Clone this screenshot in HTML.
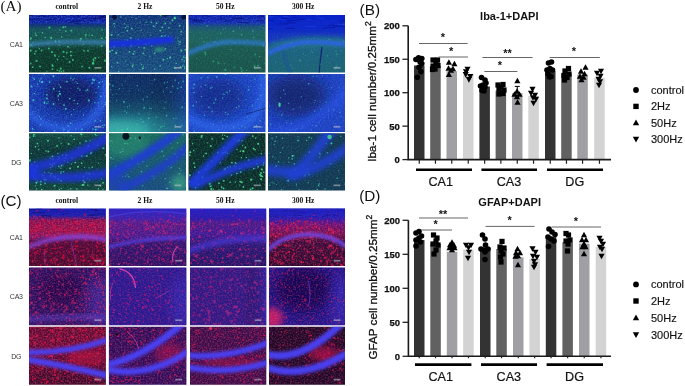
<!DOCTYPE html>
<html><head><meta charset="utf-8"><title>Figure</title>
<style>
html,body{margin:0;padding:0;background:#fff;}
body{width:685px;height:386px;overflow:hidden;position:relative;}
svg{position:absolute;left:0;top:0;display:block;}
</style></head><body>
<svg width="685" height="386" viewBox="0 0 685 386">
<defs><clipPath id="c1"><rect x="29" y="15" width="77" height="57.6"/></clipPath><linearGradient id="g1_1" x1="0" y1="0" x2="0" y2="1"><stop offset="0" stop-color="#0a1890"/><stop offset="0.14" stop-color="#0c1ea0"/><stop offset="0.19" stop-color="#123678"/><stop offset="0.25" stop-color="#144e5a"/><stop offset="0.45" stop-color="#14504a"/><stop offset="0.52" stop-color="#124840"/><stop offset="0.6" stop-color="#0c3a2e"/><stop offset="1" stop-color="#0b3428"/></linearGradient><filter id="n1_2" x="0" y="0" width="100" height="75" filterUnits="userSpaceOnUse"><feTurbulence type="fractalNoise" baseFrequency="0.5" numOctaves="1" seed="11"/><feColorMatrix type="matrix" values="0 0 0 0 0.16 0 0 0 0 0.35 0 0 0 0 0.94 2 0 0 0 -0.8"/><feGaussianBlur stdDeviation="0.3"/></filter><linearGradient id="m1_2g" x1="0" y1="0" x2="0" y2="1"><stop offset="0" stop-color="#fff" stop-opacity="1"/><stop offset="0.15" stop-color="#fff" stop-opacity="1"/><stop offset="0.2" stop-color="#fff" stop-opacity="0"/></linearGradient><mask id="m1_2" maskContentUnits="userSpaceOnUse"><rect x="-2" y="-2" width="104" height="79" fill="url(#m1_2g)"/></mask><filter id="n1_3" x="0" y="0" width="100" height="75" filterUnits="userSpaceOnUse"><feTurbulence type="fractalNoise" baseFrequency="0.5" numOctaves="1" seed="12"/><feColorMatrix type="matrix" values="0 0 0 0 0.22 0 0 0 0 0.75 0 0 0 0 0.53 2 0 0 0 -0.8"/><feGaussianBlur stdDeviation="0.3"/></filter><linearGradient id="m1_3g" x1="0" y1="0" x2="0" y2="1"><stop offset="0" stop-color="#fff" stop-opacity="0"/><stop offset="0.18" stop-color="#fff" stop-opacity="0"/><stop offset="0.24" stop-color="#fff" stop-opacity="1"/><stop offset="1" stop-color="#fff" stop-opacity="1"/></linearGradient><mask id="m1_3" maskContentUnits="userSpaceOnUse"><rect x="-2" y="-2" width="104" height="79" fill="url(#m1_3g)"/></mask><clipPath id="c2"><rect x="109" y="15" width="77" height="57.6"/></clipPath><linearGradient id="g2_1" x1="0" y1="0" x2="0" y2="1"><stop offset="0" stop-color="#0c2a78"/><stop offset="0.3" stop-color="#103a70"/><stop offset="0.6" stop-color="#123e74"/><stop offset="1" stop-color="#144878"/></linearGradient><filter id="n2_2" x="0" y="0" width="100" height="75" filterUnits="userSpaceOnUse"><feTurbulence type="fractalNoise" baseFrequency="0.5" numOctaves="1" seed="21"/><feColorMatrix type="matrix" values="0 0 0 0 0.09 0 0 0 0 0.22 0 0 0 0 0.75 2 0 0 0 -0.8"/><feGaussianBlur stdDeviation="0.3"/></filter><filter id="n2_3" x="0" y="0" width="100" height="75" filterUnits="userSpaceOnUse"><feTurbulence type="fractalNoise" baseFrequency="0.5" numOctaves="1" seed="5"/><feColorMatrix type="matrix" values="0 0 0 0 0.19 0 0 0 0 0.63 0 0 0 0 0.5 2 0 0 0 -0.8"/><feGaussianBlur stdDeviation="0.3"/></filter><clipPath id="c3"><rect x="188.5" y="15" width="77" height="57.6"/></clipPath><linearGradient id="g3_1" x1="0" y1="0" x2="0" y2="1"><stop offset="0" stop-color="#0c1ca8"/><stop offset="0.14" stop-color="#1028b0"/><stop offset="0.22" stop-color="#1a5078"/><stop offset="0.3" stop-color="#1d6064"/><stop offset="0.45" stop-color="#1d605c"/><stop offset="0.55" stop-color="#1a5850"/><stop offset="1" stop-color="#18524a"/></linearGradient><filter id="n3_2" x="0" y="0" width="100" height="75" filterUnits="userSpaceOnUse"><feTurbulence type="fractalNoise" baseFrequency="0.5" numOctaves="1" seed="31"/><feColorMatrix type="matrix" values="0 0 0 0 0.13 0 0 0 0 0.25 0 0 0 0 0.94 2 0 0 0 -0.8"/><feGaussianBlur stdDeviation="0.3"/></filter><linearGradient id="m3_2g" x1="0" y1="0" x2="0" y2="1"><stop offset="0" stop-color="#fff" stop-opacity="1"/><stop offset="0.16" stop-color="#fff" stop-opacity="1"/><stop offset="0.22" stop-color="#fff" stop-opacity="0"/></linearGradient><mask id="m3_2" maskContentUnits="userSpaceOnUse"><rect x="-2" y="-2" width="104" height="79" fill="url(#m3_2g)"/></mask><filter id="n3_3" x="0" y="0" width="100" height="75" filterUnits="userSpaceOnUse"><feTurbulence type="fractalNoise" baseFrequency="0.5" numOctaves="1" seed="32"/><feColorMatrix type="matrix" values="0 0 0 0 0.22 0 0 0 0 0.75 0 0 0 0 0.53 2 0 0 0 -0.8"/><feGaussianBlur stdDeviation="0.3"/></filter><linearGradient id="m3_3g" x1="0" y1="0" x2="0" y2="1"><stop offset="0" stop-color="#fff" stop-opacity="0"/><stop offset="0.15" stop-color="#fff" stop-opacity="0"/><stop offset="0.22" stop-color="#fff" stop-opacity="1"/><stop offset="1" stop-color="#fff" stop-opacity="1"/></linearGradient><mask id="m3_3" maskContentUnits="userSpaceOnUse"><rect x="-2" y="-2" width="104" height="79" fill="url(#m3_3g)"/></mask><clipPath id="c4"><rect x="268" y="15" width="77" height="57.6"/></clipPath><linearGradient id="g4_1" x1="0" y1="0" x2="0" y2="1"><stop offset="0" stop-color="#0a1ec8"/><stop offset="0.22" stop-color="#0c26c8"/><stop offset="0.3" stop-color="#1a48a8"/><stop offset="0.38" stop-color="#20688c"/><stop offset="0.48" stop-color="#24708c"/><stop offset="0.6" stop-color="#1c6280"/><stop offset="1" stop-color="#1c6274"/></linearGradient><filter id="n4_2" x="0" y="0" width="100" height="75" filterUnits="userSpaceOnUse"><feTurbulence type="fractalNoise" baseFrequency="0.5" numOctaves="1" seed="41"/><feColorMatrix type="matrix" values="0 0 0 0 0 0 0 0 0 0.06 0 0 0 0 0.63 2 0 0 0 -0.8"/><feGaussianBlur stdDeviation="0.3"/></filter><linearGradient id="m4_2g" x1="0" y1="0" x2="0" y2="1"><stop offset="0" stop-color="#fff" stop-opacity="1"/><stop offset="0.25" stop-color="#fff" stop-opacity="1"/><stop offset="0.32" stop-color="#fff" stop-opacity="0"/></linearGradient><mask id="m4_2" maskContentUnits="userSpaceOnUse"><rect x="-2" y="-2" width="104" height="79" fill="url(#m4_2g)"/></mask><filter id="n4_3" x="0" y="0" width="100" height="75" filterUnits="userSpaceOnUse"><feTurbulence type="fractalNoise" baseFrequency="0.5" numOctaves="1" seed="42"/><feColorMatrix type="matrix" values="0 0 0 0 0.25 0 0 0 0 0.75 0 0 0 0 0.63 2 0 0 0 -0.8"/><feGaussianBlur stdDeviation="0.3"/></filter><linearGradient id="m4_3g" x1="0" y1="0" x2="0" y2="1"><stop offset="0" stop-color="#fff" stop-opacity="0"/><stop offset="0.28" stop-color="#fff" stop-opacity="0"/><stop offset="0.34" stop-color="#fff" stop-opacity="1"/><stop offset="1" stop-color="#fff" stop-opacity="1"/></linearGradient><mask id="m4_3" maskContentUnits="userSpaceOnUse"><rect x="-2" y="-2" width="104" height="79" fill="url(#m4_3g)"/></mask><clipPath id="c5"><rect x="29" y="74" width="77" height="58"/></clipPath><filter id="n5_1" x="0" y="0" width="100" height="75" filterUnits="userSpaceOnUse"><feTurbulence type="fractalNoise" baseFrequency="0.5" numOctaves="1" seed="51"/><feColorMatrix type="matrix" values="0 0 0 0 0.13 0 0 0 0 0.31 0 0 0 0 0.94 2 0 0 0 -0.8"/><feGaussianBlur stdDeviation="0.3"/></filter><filter id="n5_2" x="0" y="0" width="100" height="75" filterUnits="userSpaceOnUse"><feTurbulence type="fractalNoise" baseFrequency="0.5" numOctaves="1" seed="52"/><feColorMatrix type="matrix" values="0 0 0 0 0.25 0 0 0 0 0.88 0 0 0 0 0.69 2 0 0 0 -0.8"/><feGaussianBlur stdDeviation="0.3"/></filter><clipPath id="c6"><rect x="109" y="74" width="77" height="58"/></clipPath><linearGradient id="g6_1" x1="0" y1="0" x2="0" y2="1"><stop offset="0" stop-color="#0a2660"/><stop offset="0.4" stop-color="#0c2e5c"/><stop offset="0.62" stop-color="#124a66"/><stop offset="0.8" stop-color="#1e7a8a"/><stop offset="1" stop-color="#28949a"/></linearGradient><linearGradient id="g6_2" x1="0" y1="0" x2="1" y2="0"><stop offset="0" stop-color="#000000" stop-opacity="0"/><stop offset="0.5" stop-color="#000000" stop-opacity="0"/><stop offset="1" stop-color="#1840b0" stop-opacity="0.6"/></linearGradient><filter id="n6_3" x="0" y="0" width="100" height="75" filterUnits="userSpaceOnUse"><feTurbulence type="fractalNoise" baseFrequency="0.5" numOctaves="1" seed="61"/><feColorMatrix type="matrix" values="0 0 0 0 0.09 0 0 0 0 0.25 0 0 0 0 0.75 2 0 0 0 -0.8"/><feGaussianBlur stdDeviation="0.3"/></filter><filter id="n6_4" x="0" y="0" width="100" height="75" filterUnits="userSpaceOnUse"><feTurbulence type="fractalNoise" baseFrequency="0.5" numOctaves="1" seed="62"/><feColorMatrix type="matrix" values="0 0 0 0 0.25 0 0 0 0 0.75 0 0 0 0 0.69 2 0 0 0 -0.8"/><feGaussianBlur stdDeviation="0.3"/></filter><clipPath id="c7"><rect x="188.5" y="74" width="77" height="58"/></clipPath><filter id="n7_1" x="0" y="0" width="100" height="75" filterUnits="userSpaceOnUse"><feTurbulence type="fractalNoise" baseFrequency="0.5" numOctaves="1" seed="71"/><feColorMatrix type="matrix" values="0 0 0 0 0.16 0 0 0 0 0.35 0 0 0 0 0.94 2 0 0 0 -0.8"/><feGaussianBlur stdDeviation="0.3"/></filter><filter id="n7_2" x="0" y="0" width="100" height="75" filterUnits="userSpaceOnUse"><feTurbulence type="fractalNoise" baseFrequency="0.5" numOctaves="1" seed="72"/><feColorMatrix type="matrix" values="0 0 0 0 0.25 0 0 0 0 0.85 0 0 0 0 0.75 2 0 0 0 -0.8"/><feGaussianBlur stdDeviation="0.3"/></filter><clipPath id="c8"><rect x="268" y="74" width="77" height="58"/></clipPath><filter id="n8_1" x="0" y="0" width="100" height="75" filterUnits="userSpaceOnUse"><feTurbulence type="fractalNoise" baseFrequency="0.5" numOctaves="1" seed="81"/><feColorMatrix type="matrix" values="0 0 0 0 0.16 0 0 0 0 0.31 0 0 0 0 0.94 2 0 0 0 -0.8"/><feGaussianBlur stdDeviation="0.3"/></filter><filter id="n8_2" x="0" y="0" width="100" height="75" filterUnits="userSpaceOnUse"><feTurbulence type="fractalNoise" baseFrequency="0.5" numOctaves="1" seed="82"/><feColorMatrix type="matrix" values="0 0 0 0 0.25 0 0 0 0 0.75 0 0 0 0 0.69 2 0 0 0 -0.8"/><feGaussianBlur stdDeviation="0.3"/></filter><clipPath id="c9"><rect x="29" y="133.2" width="77" height="57.2"/></clipPath><linearGradient id="g9_1" x1="0" y1="0" x2="0" y2="1"><stop offset="0" stop-color="#124a44"/><stop offset="0.3" stop-color="#0c3236"/><stop offset="1" stop-color="#10403c"/></linearGradient><filter id="n9_2" x="0" y="0" width="100" height="75" filterUnits="userSpaceOnUse"><feTurbulence type="fractalNoise" baseFrequency="0.5" numOctaves="1" seed="91"/><feColorMatrix type="matrix" values="0 0 0 0 0.25 0 0 0 0 0.78 0 0 0 0 0.56 2 0 0 0 -0.8"/><feGaussianBlur stdDeviation="0.3"/></filter><clipPath id="c10"><rect x="109" y="133.2" width="77" height="57.2"/></clipPath><linearGradient id="g10_1" x1="0" y1="0" x2="0" y2="1"><stop offset="0" stop-color="#1a6a5a"/><stop offset="0.4" stop-color="#185a6a"/><stop offset="1" stop-color="#1a4a80"/></linearGradient><filter id="n10_2" x="0" y="0" width="100" height="75" filterUnits="userSpaceOnUse"><feTurbulence type="fractalNoise" baseFrequency="0.5" numOctaves="1" seed="101"/><feColorMatrix type="matrix" values="0 0 0 0 0.25 0 0 0 0 0.75 0 0 0 0 0.56 2 0 0 0 -0.8"/><feGaussianBlur stdDeviation="0.3"/></filter><clipPath id="c11"><rect x="188.5" y="133.2" width="77" height="57.2"/></clipPath><filter id="n11_1" x="0" y="0" width="100" height="75" filterUnits="userSpaceOnUse"><feTurbulence type="fractalNoise" baseFrequency="0.5" numOctaves="1" seed="111"/><feColorMatrix type="matrix" values="0 0 0 0 0.25 0 0 0 0 0.85 0 0 0 0 0.56 2 0 0 0 -0.8"/><feGaussianBlur stdDeviation="0.3"/></filter><clipPath id="c12"><rect x="268" y="133.2" width="77" height="57.2"/></clipPath><filter id="n12_1" x="0" y="0" width="100" height="75" filterUnits="userSpaceOnUse"><feTurbulence type="fractalNoise" baseFrequency="0.5" numOctaves="1" seed="121"/><feColorMatrix type="matrix" values="0 0 0 0 0.25 0 0 0 0 0.78 0 0 0 0 0.63 2 0 0 0 -0.8"/><feGaussianBlur stdDeviation="0.3"/></filter><clipPath id="c13"><rect x="29" y="208.6" width="76.9" height="57.3"/></clipPath><linearGradient id="g13_1" x1="0" y1="0" x2="0" y2="1"><stop offset="0" stop-color="#1818b8"/><stop offset="0.14" stop-color="#2020b0"/><stop offset="0.22" stop-color="#801050"/><stop offset="0.4" stop-color="#901048"/><stop offset="0.5" stop-color="#701a70"/><stop offset="0.58" stop-color="#500a38"/><stop offset="1" stop-color="#480a2c"/></linearGradient><filter id="n13_2" x="0" y="0" width="100" height="75" filterUnits="userSpaceOnUse"><feTurbulence type="fractalNoise" baseFrequency="0.5" numOctaves="1" seed="201"/><feColorMatrix type="matrix" values="0 0 0 0 0 0 0 0 0 0.03 0 0 0 0 0.38 2 0 0 0 -0.8"/><feGaussianBlur stdDeviation="0.3"/></filter><linearGradient id="m13_2g" x1="0" y1="0" x2="0" y2="1"><stop offset="0" stop-color="#fff" stop-opacity="1"/><stop offset="0.16" stop-color="#fff" stop-opacity="1"/><stop offset="0.22" stop-color="#fff" stop-opacity="0"/></linearGradient><mask id="m13_2" maskContentUnits="userSpaceOnUse"><rect x="-2" y="-2" width="104" height="79" fill="url(#m13_2g)"/></mask><filter id="n13_3" x="0" y="0" width="100" height="75" filterUnits="userSpaceOnUse"><feTurbulence type="fractalNoise" baseFrequency="0.5" numOctaves="1" seed="202"/><feColorMatrix type="matrix" values="0 0 0 0 0.94 0 0 0 0 0.13 0 0 0 0 0.35 2 0 0 0 -0.8"/><feGaussianBlur stdDeviation="0.3"/></filter><linearGradient id="m13_3g" x1="0" y1="0" x2="0" y2="1"><stop offset="0" stop-color="#fff" stop-opacity="0.1"/><stop offset="0.14" stop-color="#fff" stop-opacity="0.3"/><stop offset="0.2" stop-color="#fff" stop-opacity="1"/><stop offset="0.45" stop-color="#fff" stop-opacity="1"/><stop offset="0.55" stop-color="#fff" stop-opacity="0.6"/><stop offset="1" stop-color="#fff" stop-opacity="0.6"/></linearGradient><mask id="m13_3" maskContentUnits="userSpaceOnUse"><rect x="-2" y="-2" width="104" height="79" fill="url(#m13_3g)"/></mask><clipPath id="c14"><rect x="108.9" y="208.6" width="77.5" height="57.3"/></clipPath><linearGradient id="g14_1" x1="0" y1="0" x2="0" y2="1"><stop offset="0" stop-color="#2a24c8"/><stop offset="0.18" stop-color="#3a22b0"/><stop offset="0.28" stop-color="#501a88"/><stop offset="0.5" stop-color="#441a90"/><stop offset="0.6" stop-color="#2e1470"/><stop offset="1" stop-color="#2a1064"/></linearGradient><filter id="n14_2" x="0" y="0" width="100" height="75" filterUnits="userSpaceOnUse"><feTurbulence type="fractalNoise" baseFrequency="0.5" numOctaves="1" seed="211"/><feColorMatrix type="matrix" values="0 0 0 0 0.94 0 0 0 0 0.13 0 0 0 0 0.35 2 0 0 0 -0.8"/><feGaussianBlur stdDeviation="0.3"/></filter><linearGradient id="m14_2g" x1="0" y1="0" x2="0" y2="1"><stop offset="0" stop-color="#fff" stop-opacity="0.2"/><stop offset="0.2" stop-color="#fff" stop-opacity="0.5"/><stop offset="0.28" stop-color="#fff" stop-opacity="1"/><stop offset="1" stop-color="#fff" stop-opacity="0.8"/></linearGradient><mask id="m14_2" maskContentUnits="userSpaceOnUse"><rect x="-2" y="-2" width="104" height="79" fill="url(#m14_2g)"/></mask><clipPath id="c15"><rect x="190" y="208.6" width="76.3" height="57.3"/></clipPath><linearGradient id="g15_1" x1="0" y1="0" x2="0" y2="1"><stop offset="0" stop-color="#2420c8"/><stop offset="0.18" stop-color="#2a1cb0"/><stop offset="0.28" stop-color="#461a88"/><stop offset="0.45" stop-color="#3a1a98"/><stop offset="0.6" stop-color="#261878"/><stop offset="1" stop-color="#221468"/></linearGradient><filter id="n15_2" x="0" y="0" width="100" height="75" filterUnits="userSpaceOnUse"><feTurbulence type="fractalNoise" baseFrequency="0.5" numOctaves="1" seed="221"/><feColorMatrix type="matrix" values="0 0 0 0 0.94 0 0 0 0 0.13 0 0 0 0 0.35 2 0 0 0 -0.8"/><feGaussianBlur stdDeviation="0.3"/></filter><linearGradient id="m15_2g" x1="0" y1="0" x2="0" y2="1"><stop offset="0" stop-color="#fff" stop-opacity="0.2"/><stop offset="0.2" stop-color="#fff" stop-opacity="0.5"/><stop offset="0.28" stop-color="#fff" stop-opacity="1"/><stop offset="1" stop-color="#fff" stop-opacity="0.8"/></linearGradient><mask id="m15_2" maskContentUnits="userSpaceOnUse"><rect x="-2" y="-2" width="104" height="79" fill="url(#m15_2g)"/></mask><clipPath id="c16"><rect x="269" y="208.6" width="76" height="57.3"/></clipPath><linearGradient id="g16_1" x1="0" y1="0" x2="0" y2="1"><stop offset="0" stop-color="#1a20c8"/><stop offset="0.15" stop-color="#2020c0"/><stop offset="0.3" stop-color="#6a1070"/><stop offset="0.45" stop-color="#701050"/><stop offset="0.6" stop-color="#380a38"/><stop offset="1" stop-color="#2e0a2e"/></linearGradient><filter id="n16_2" x="0" y="0" width="100" height="75" filterUnits="userSpaceOnUse"><feTurbulence type="fractalNoise" baseFrequency="0.5" numOctaves="1" seed="231"/><feColorMatrix type="matrix" values="0 0 0 0 0 0 0 0 0 0.04 0 0 0 0 0.38 2 0 0 0 -0.8"/><feGaussianBlur stdDeviation="0.3"/></filter><linearGradient id="m16_2g" x1="0" y1="0" x2="0" y2="1"><stop offset="0" stop-color="#fff" stop-opacity="1"/><stop offset="0.18" stop-color="#fff" stop-opacity="1"/><stop offset="0.26" stop-color="#fff" stop-opacity="0"/></linearGradient><mask id="m16_2" maskContentUnits="userSpaceOnUse"><rect x="-2" y="-2" width="104" height="79" fill="url(#m16_2g)"/></mask><filter id="n16_3" x="0" y="0" width="100" height="75" filterUnits="userSpaceOnUse"><feTurbulence type="fractalNoise" baseFrequency="0.5" numOctaves="1" seed="232"/><feColorMatrix type="matrix" values="0 0 0 0 0.94 0 0 0 0 0.13 0 0 0 0 0.35 2 0 0 0 -0.8"/><feGaussianBlur stdDeviation="0.3"/></filter><linearGradient id="m16_3g" x1="0" y1="0" x2="0" y2="1"><stop offset="0" stop-color="#fff" stop-opacity="0.1"/><stop offset="0.2" stop-color="#fff" stop-opacity="0.5"/><stop offset="0.3" stop-color="#fff" stop-opacity="1"/><stop offset="1" stop-color="#fff" stop-opacity="0.7"/></linearGradient><mask id="m16_3" maskContentUnits="userSpaceOnUse"><rect x="-2" y="-2" width="104" height="79" fill="url(#m16_3g)"/></mask><clipPath id="c17"><rect x="29" y="267.4" width="76.9" height="57.8"/></clipPath><filter id="n17_1" x="0" y="0" width="100" height="75" filterUnits="userSpaceOnUse"><feTurbulence type="fractalNoise" baseFrequency="0.5" numOctaves="1" seed="241"/><feColorMatrix type="matrix" values="0 0 0 0 0.94 0 0 0 0 0.13 0 0 0 0 0.35 2 0 0 0 -0.8"/><feGaussianBlur stdDeviation="0.3"/></filter><clipPath id="c18"><rect x="108.9" y="267.4" width="77.5" height="57.8"/></clipPath><filter id="n18_1" x="0" y="0" width="100" height="75" filterUnits="userSpaceOnUse"><feTurbulence type="fractalNoise" baseFrequency="0.5" numOctaves="1" seed="251"/><feColorMatrix type="matrix" values="0 0 0 0 0.94 0 0 0 0 0.13 0 0 0 0 0.35 2 0 0 0 -0.8"/><feGaussianBlur stdDeviation="0.3"/></filter><clipPath id="c19"><rect x="190" y="267.4" width="76.3" height="57.8"/></clipPath><linearGradient id="g19_1" x1="0" y1="0" x2="1" y2="0"><stop offset="0" stop-color="#000000" stop-opacity="0"/><stop offset="0.7" stop-color="#000000" stop-opacity="0"/><stop offset="1" stop-color="#3030d0" stop-opacity="0.5"/></linearGradient><filter id="n19_2" x="0" y="0" width="100" height="75" filterUnits="userSpaceOnUse"><feTurbulence type="fractalNoise" baseFrequency="0.5" numOctaves="1" seed="261"/><feColorMatrix type="matrix" values="0 0 0 0 0.94 0 0 0 0 0.13 0 0 0 0 0.35 2 0 0 0 -0.8"/><feGaussianBlur stdDeviation="0.3"/></filter><clipPath id="c20"><rect x="269" y="267.4" width="76" height="57.8"/></clipPath><filter id="n20_1" x="0" y="0" width="100" height="75" filterUnits="userSpaceOnUse"><feTurbulence type="fractalNoise" baseFrequency="0.5" numOctaves="1" seed="271"/><feColorMatrix type="matrix" values="0 0 0 0 0.94 0 0 0 0 0.13 0 0 0 0 0.35 2 0 0 0 -0.8"/><feGaussianBlur stdDeviation="0.3"/></filter><clipPath id="c21"><rect x="29" y="326.8" width="76.9" height="58"/></clipPath><linearGradient id="g21_1" x1="0" y1="0" x2="0" y2="1"><stop offset="0" stop-color="#600a30"/><stop offset="0.4" stop-color="#640a34"/><stop offset="1" stop-color="#380826"/></linearGradient><filter id="n21_2" x="0" y="0" width="100" height="75" filterUnits="userSpaceOnUse"><feTurbulence type="fractalNoise" baseFrequency="0.5" numOctaves="1" seed="281"/><feColorMatrix type="matrix" values="0 0 0 0 0.94 0 0 0 0 0.13 0 0 0 0 0.35 2 0 0 0 -0.8"/><feGaussianBlur stdDeviation="0.3"/></filter><clipPath id="c22"><rect x="108.9" y="326.8" width="77.5" height="58"/></clipPath><filter id="n22_1" x="0" y="0" width="100" height="75" filterUnits="userSpaceOnUse"><feTurbulence type="fractalNoise" baseFrequency="0.5" numOctaves="1" seed="291"/><feColorMatrix type="matrix" values="0 0 0 0 0.94 0 0 0 0 0.13 0 0 0 0 0.35 2 0 0 0 -0.8"/><feGaussianBlur stdDeviation="0.3"/></filter><clipPath id="c23"><rect x="190" y="326.8" width="76.3" height="58"/></clipPath><filter id="n23_1" x="0" y="0" width="100" height="75" filterUnits="userSpaceOnUse"><feTurbulence type="fractalNoise" baseFrequency="0.5" numOctaves="1" seed="301"/><feColorMatrix type="matrix" values="0 0 0 0 0.94 0 0 0 0 0.13 0 0 0 0 0.35 2 0 0 0 -0.8"/><feGaussianBlur stdDeviation="0.3"/></filter><clipPath id="c24"><rect x="269" y="326.8" width="76" height="58"/></clipPath><filter id="n24_1" x="0" y="0" width="100" height="75" filterUnits="userSpaceOnUse"><feTurbulence type="fractalNoise" baseFrequency="0.5" numOctaves="1" seed="311"/><feColorMatrix type="matrix" values="0 0 0 0 0.94 0 0 0 0 0.13 0 0 0 0 0.35 2 0 0 0 -0.8"/><feGaussianBlur stdDeviation="0.3"/></filter><filter id="b0_3" x="-120%" y="-120%" width="340%" height="340%"><feGaussianBlur stdDeviation="0.3"/></filter><filter id="b0_5" x="-120%" y="-120%" width="340%" height="340%"><feGaussianBlur stdDeviation="0.5"/></filter><filter id="b0_8" x="-120%" y="-120%" width="340%" height="340%"><feGaussianBlur stdDeviation="0.8"/></filter><filter id="b1" x="-120%" y="-120%" width="340%" height="340%"><feGaussianBlur stdDeviation="1"/></filter><filter id="b10" x="-120%" y="-120%" width="340%" height="340%"><feGaussianBlur stdDeviation="10"/></filter><filter id="b1_5" x="-120%" y="-120%" width="340%" height="340%"><feGaussianBlur stdDeviation="1.5"/></filter><filter id="b1_8" x="-120%" y="-120%" width="340%" height="340%"><feGaussianBlur stdDeviation="1.8"/></filter><filter id="b2" x="-120%" y="-120%" width="340%" height="340%"><feGaussianBlur stdDeviation="2"/></filter><filter id="b2_5" x="-120%" y="-120%" width="340%" height="340%"><feGaussianBlur stdDeviation="2.5"/></filter><filter id="b3" x="-120%" y="-120%" width="340%" height="340%"><feGaussianBlur stdDeviation="3"/></filter><filter id="b3_5" x="-120%" y="-120%" width="340%" height="340%"><feGaussianBlur stdDeviation="3.5"/></filter><filter id="b4" x="-120%" y="-120%" width="340%" height="340%"><feGaussianBlur stdDeviation="4"/></filter><filter id="b5" x="-120%" y="-120%" width="340%" height="340%"><feGaussianBlur stdDeviation="5"/></filter><filter id="b6" x="-120%" y="-120%" width="340%" height="340%"><feGaussianBlur stdDeviation="6"/></filter><filter id="b7" x="-120%" y="-120%" width="340%" height="340%"><feGaussianBlur stdDeviation="7"/></filter><filter id="b8" x="-120%" y="-120%" width="340%" height="340%"><feGaussianBlur stdDeviation="8"/></filter><filter id="b0_6" x="-50%" y="-50%" width="200%" height="200%"><feGaussianBlur stdDeviation="0.6"/></filter></defs>
<rect width="685" height="386" fill="#fff"/>
<g clip-path="url(#c1)"><g transform="translate(29 15) scale(0.77 0.77)"><rect x="-2" y="-2" width="104" height="79" fill="url(#g1_1)"/><g mask="url(#m1_2)" opacity="0.48"><rect x="0" y="0" width="100" height="75" filter="url(#n1_2)"/></g><path d="M6.02 5q7.62 -0.38 15.25 0.62M70.52 4.77q7.8 -0.9 15.6 0.1M-1.18 5.02q3.29 0.3 6.57 1.3M94.18 3.69q4.86 -0.2 9.71 0.8M12.43 1.96q4.13 -1.46 8.26 -0.46M58.9 10.6q4.27 0.37 8.53 1.37M51.09 9.91q7.91 -2.02 15.82 -1.02M61.34 1.37q3.03 -1.31 6.07 -0.31M75.09 6.23q4.16 0.02 8.31 1.02M90.52 2.61q5.69 -0.59 11.38 0.41M89.26 1.39q6.32 0.41 12.65 1.41M57 7.89q7.65 -0.98 15.3 0.02M21.88 6.49q6.17 -1.47 12.34 -0.47M83.96 3.99q5.9 -0.22 11.8 0.78" fill="none" stroke="#000850" stroke-width="1.2" stroke-opacity="0.48" filter="url(#b0_6)"/><path d="M79.52 9.9q6.91 -1.74 13.82 -0.74M83.21 10.09q7.29 -0.2 14.58 0.8M46.49 5.93q6.5 -2.06 12.99 -1.06M64.36 9.61q3.99 -0.24 7.98 0.76M67.68 2.21q3.3 -0.71 6.61 0.29M14.11 4.1q6.73 -0.55 13.45 0.45M72.36 6.68q5 -2.46 10 -1.46M2.54 2.93q6.15 -0.34 12.3 0.66" fill="none" stroke="#3a70ff" stroke-width="0.9" stroke-opacity="0.36" filter="url(#b0_6)"/><g fill="#48e090" fill-opacity="0.7" filter="url(#b0_6)"><circle cx="20.91" cy="29.24" r="1.08"/><circle cx="71.32" cy="46.39" r="1.13"/><circle cx="54.51" cy="52.56" r="1.36"/><circle cx="94.58" cy="30.15" r="1.13"/><circle cx="34.37" cy="34.07" r="1.21"/><circle cx="41.27" cy="69.78" r="1.48"/><circle cx="40.08" cy="19.54" r="0.94"/><circle cx="99.81" cy="29.29" r="0.99"/><circle cx="30.45" cy="70.25" r="1.19"/><circle cx="29.8" cy="48.21" r="1.39"/><circle cx="82.11" cy="26.45" r="1.11"/><circle cx="2.28" cy="46.32" r="1.36"/><circle cx="14.37" cy="66.82" r="1.31"/><circle cx="70.35" cy="38.05" r="1.07"/><circle cx="44.67" cy="15.94" r="1.39"/><circle cx="54.96" cy="20.31" r="1.24"/><circle cx="13.61" cy="43.85" r="0.88"/><circle cx="30.08" cy="64.74" r="0.96"/><circle cx="39.35" cy="34.38" r="1.4"/><circle cx="8.85" cy="46.9" r="1.2"/><circle cx="73.67" cy="28.46" r="0.88"/><circle cx="83.37" cy="63.18" r="1.44"/><circle cx="78.4" cy="68.6" r="1.31"/><circle cx="77.97" cy="26.12" r="0.81"/><circle cx="50.66" cy="41.1" r="1.24"/><circle cx="5.21" cy="35.86" r="0.95"/><circle cx="4.75" cy="67.73" r="1.21"/><circle cx="2.94" cy="39.4" r="1.33"/><circle cx="23.27" cy="73.99" r="0.96"/><circle cx="30.64" cy="66.12" r="1.45"/><circle cx="76.61" cy="46.43" r="1.3"/><circle cx="8.19" cy="23.63" r="0.99"/><circle cx="66.65" cy="33.27" r="0.82"/><circle cx="42.53" cy="28.61" r="0.93"/><circle cx="26.6" cy="16.31" r="1.43"/><circle cx="94.9" cy="19.49" r="0.99"/><circle cx="9.28" cy="26.43" r="1.23"/><circle cx="37.03" cy="58.04" r="1.08"/><circle cx="2.15" cy="62.9" r="1.15"/><circle cx="98.78" cy="59.29" r="1.45"/><circle cx="25.82" cy="43.62" r="1.3"/><circle cx="28.86" cy="29.82" r="1.44"/><circle cx="73.79" cy="25.49" r="1.23"/><circle cx="24.69" cy="37.43" r="0.95"/><circle cx="82.99" cy="62.6" r="1.46"/><circle cx="33.5" cy="51.85" r="1.13"/><circle cx="68.95" cy="66.81" r="1.16"/><circle cx="86.14" cy="55.95" r="1.48"/><circle cx="94.27" cy="40.15" r="1.29"/><circle cx="9.86" cy="59.67" r="1.47"/><circle cx="47.91" cy="20.84" r="1.19"/><circle cx="49.06" cy="49" r="1.17"/><circle cx="33.88" cy="53.29" r="1.15"/><circle cx="39.55" cy="72.66" r="1.19"/><circle cx="83.96" cy="59.28" r="1.28"/><circle cx="44.99" cy="72.44" r="1.1"/><circle cx="45.06" cy="53.85" r="0.94"/><circle cx="44.79" cy="47.71" r="1.41"/><circle cx="47.28" cy="15.38" r="1.07"/><circle cx="2.5" cy="30.08" r="1.25"/><circle cx="90.33" cy="54.96" r="0.9"/><circle cx="83.55" cy="57.26" r="1.13"/><circle cx="17.3" cy="23.2" r="1.07"/><circle cx="38.91" cy="53.33" r="0.89"/><circle cx="57.06" cy="58.32" r="1.32"/><circle cx="2.04" cy="32.11" r="0.82"/><circle cx="7.44" cy="50.26" r="1.16"/><circle cx="16.28" cy="46.18" r="1.32"/><circle cx="36.67" cy="71.84" r="1"/><circle cx="42.22" cy="73.88" r="1.01"/><circle cx="54.3" cy="47.72" r="1.29"/><circle cx="67.27" cy="30.89" r="1.48"/><circle cx="49.44" cy="57.06" r="0.81"/><circle cx="39.15" cy="39.14" r="0.95"/><circle cx="52.77" cy="61.19" r="1.32"/></g><path d="M-5 39 Q40 33 105 36" fill="none" stroke="#3a80c0" stroke-width="6" stroke-opacity="0.75" stroke-linecap="round" filter="url(#b2)"/><g mask="url(#m1_3)" opacity="0.21"><rect x="0" y="0" width="100" height="75" filter="url(#n1_3)"/></g><rect x="85" y="67.5" width="9" height="2.2" fill="#c8c8d0" fill-opacity="0.55"/></g></g>
<g clip-path="url(#c2)"><g transform="translate(109 15) scale(0.77 0.77)"><rect x="-2" y="-2" width="104" height="79" fill="url(#g2_1)"/><g opacity="0.3"><rect x="0" y="0" width="100" height="75" filter="url(#n2_2)"/></g><g opacity="0.3"><rect x="0" y="0" width="100" height="75" filter="url(#n2_3)"/></g><g fill="#50e898" fill-opacity="0.7" filter="url(#b0_6)"><circle cx="58.12" cy="14.61" r="1.33"/><circle cx="92.4" cy="35.04" r="1.14"/><circle cx="21.45" cy="16.63" r="0.91"/><circle cx="69.24" cy="15.93" r="1.33"/><circle cx="7.04" cy="14.5" r="0.78"/><circle cx="76.99" cy="27.49" r="1.02"/><circle cx="32.6" cy="47.81" r="0.98"/><circle cx="20.83" cy="32.26" r="0.92"/><circle cx="11.08" cy="61.75" r="1.15"/><circle cx="66.48" cy="66.18" r="0.97"/><circle cx="37.93" cy="31.72" r="0.98"/><circle cx="66.89" cy="0.49" r="1.02"/><circle cx="53.51" cy="25.91" r="0.74"/><circle cx="70.46" cy="0.71" r="1.08"/><circle cx="15.34" cy="2.59" r="0.84"/><circle cx="6.57" cy="11.31" r="1.16"/><circle cx="72.83" cy="27.21" r="1.14"/><circle cx="47.51" cy="37.38" r="1.27"/><circle cx="31.13" cy="65.25" r="1.16"/><circle cx="68.35" cy="0.45" r="0.78"/><circle cx="3.2" cy="25.93" r="1.32"/><circle cx="87.57" cy="62.89" r="0.8"/><circle cx="70.57" cy="58.09" r="1.23"/><circle cx="79.22" cy="10.52" r="0.84"/><circle cx="79.26" cy="55.37" r="1.28"/><circle cx="44.65" cy="66.72" r="0.81"/><circle cx="95.71" cy="66.34" r="0.94"/><circle cx="6.76" cy="41.14" r="1.16"/><circle cx="35.04" cy="4.31" r="0.9"/><circle cx="82.45" cy="6.8" r="1.31"/><circle cx="25" cy="15.33" r="0.8"/><circle cx="98.1" cy="67.58" r="0.93"/><circle cx="9.56" cy="49" r="1.28"/><circle cx="1.21" cy="47.48" r="1.26"/><circle cx="45.88" cy="42.7" r="1.23"/><circle cx="23.85" cy="20.49" r="1.14"/><circle cx="55.23" cy="40.15" r="0.94"/><circle cx="93.7" cy="21.61" r="1.15"/><circle cx="89.42" cy="30.06" r="0.76"/><circle cx="22.04" cy="4.97" r="0.82"/><circle cx="12.04" cy="25.69" r="0.96"/><circle cx="44.74" cy="49.88" r="1.15"/><circle cx="68.72" cy="27.33" r="1.14"/><circle cx="54.98" cy="9.56" r="1.07"/><circle cx="31.83" cy="50.69" r="1.19"/><circle cx="24.07" cy="32.63" r="1.01"/><circle cx="29.69" cy="3.04" r="0.76"/><circle cx="99.28" cy="55.49" r="1"/><circle cx="66.67" cy="20.17" r="1.17"/><circle cx="95.08" cy="57.99" r="1.02"/><circle cx="98.36" cy="69.16" r="0.76"/><circle cx="41.18" cy="33.91" r="0.9"/><circle cx="61.65" cy="10.76" r="1.19"/><circle cx="85.77" cy="4.62" r="1.16"/><circle cx="26.6" cy="47.87" r="1.16"/><circle cx="97.67" cy="59.86" r="0.94"/><circle cx="73" cy="11.01" r="1.17"/><circle cx="41.71" cy="19.89" r="0.88"/><circle cx="21.68" cy="59.73" r="0.79"/><circle cx="23.23" cy="14.42" r="0.83"/><circle cx="73" cy="44.05" r="1.14"/><circle cx="90.02" cy="33.65" r="0.75"/><circle cx="18.93" cy="38.74" r="1.17"/><circle cx="91.85" cy="38.34" r="0.87"/><circle cx="59.27" cy="70.11" r="0.94"/><circle cx="93.11" cy="67.79" r="1.09"/><circle cx="48.1" cy="9.67" r="0.8"/><circle cx="4.09" cy="45.85" r="1.17"/><circle cx="99.34" cy="45.19" r="1.35"/><circle cx="40.29" cy="10.04" r="0.77"/><circle cx="28.82" cy="39.81" r="1.34"/><circle cx="29.72" cy="17.64" r="1.18"/><circle cx="38.84" cy="41.88" r="0.82"/><circle cx="85.33" cy="68.95" r="1.2"/><circle cx="93.57" cy="24.94" r="0.75"/><circle cx="30.49" cy="67.34" r="1.02"/><circle cx="20.04" cy="11.34" r="0.83"/><circle cx="43.9" cy="69.43" r="1.28"/><circle cx="75.77" cy="56.71" r="0.85"/><circle cx="77.75" cy="16.8" r="1.06"/><circle cx="3.35" cy="66.93" r="0.81"/><circle cx="59.27" cy="49.67" r="1.13"/><circle cx="68.23" cy="27.7" r="1.22"/><circle cx="93.85" cy="46.28" r="1.34"/><circle cx="84.98" cy="4.17" r="1.15"/><circle cx="9.15" cy="49.59" r="0.96"/><circle cx="85.45" cy="3.35" r="1.32"/><circle cx="4.35" cy="4.25" r="0.73"/><circle cx="12.55" cy="73.96" r="1.25"/><circle cx="91.68" cy="13.98" r="1.16"/><circle cx="79.52" cy="54.52" r="0.9"/><circle cx="97.09" cy="54.62" r="1.16"/><circle cx="28.45" cy="29.8" r="1.2"/><circle cx="51.63" cy="36.59" r="1.3"/><circle cx="42.05" cy="64.42" r="0.76"/><circle cx="53.05" cy="53.48" r="0.73"/></g><path d="M-5 38 Q45 36 80 32" fill="none" stroke="#1830e0" stroke-width="9" stroke-opacity="0.95" stroke-linecap="round" filter="url(#b2)"/><ellipse cx="7" cy="3" rx="3" ry="3" fill="#000830" fill-opacity="0.9" filter="url(#b0_6)"/><ellipse cx="97" cy="3" rx="3" ry="3" fill="#000830" fill-opacity="0.9" filter="url(#b0_6)"/><ellipse cx="72" cy="0" rx="4" ry="2" fill="#000830" fill-opacity="0.7" filter="url(#b0_6)"/><ellipse cx="65" cy="45" rx="6" ry="3" fill="#3ab880" fill-opacity="0.5" filter="url(#b1_5)"/><rect x="85" y="67.5" width="9" height="2.2" fill="#c8c8d0" fill-opacity="0.55"/></g></g>
<g clip-path="url(#c3)"><g transform="translate(188.5 15) scale(0.77 0.77)"><rect x="-2" y="-2" width="104" height="79" fill="url(#g3_1)"/><g mask="url(#m3_2)" opacity="0.48"><rect x="0" y="0" width="100" height="75" filter="url(#n3_2)"/></g><path d="M6.3 6.78q4.02 -0.36 8.04 0.64M56.86 4.23q6.7 -0.8 13.41 0.2M-5.25 5.83q6.72 -0.94 13.44 0.06M86.74 8.09q5.26 -1.82 10.53 -0.82M4.09 8.91q7.14 -0.67 14.28 0.33M38.59 5.51q4.33 -0.91 8.66 0.09M5.99 6.83q6.78 -0.49 13.56 0.51M17.11 1.01q5 -0.44 10 0.56M46.09 8.22q5.59 -1.3 11.17 -0.3M89.83 1.84q4.24 -0.73 8.49 0.27M59.45 4.76q6.35 -1.18 12.7 -0.18M63.55 9.78q7.95 -0.58 15.9 0.42" fill="none" stroke="#000850" stroke-width="1.2" stroke-opacity="0.42" filter="url(#b0_6)"/><g fill="#40d090" fill-opacity="0.5" filter="url(#b0_6)"><circle cx="47.01" cy="71.07" r="1.08"/><circle cx="86.85" cy="51.25" r="1.15"/><circle cx="60.03" cy="68.62" r="1.02"/><circle cx="97.4" cy="39.57" r="1.26"/><circle cx="85.81" cy="66.2" r="0.85"/><circle cx="68.45" cy="70.51" r="0.97"/><circle cx="66.27" cy="16.56" r="0.79"/><circle cx="47.97" cy="17.24" r="0.93"/><circle cx="41.77" cy="23.84" r="0.95"/><circle cx="24.32" cy="14.1" r="1.15"/><circle cx="20.15" cy="34.89" r="1.2"/><circle cx="46.24" cy="63.21" r="0.84"/><circle cx="38.97" cy="62.81" r="1.25"/><circle cx="21.89" cy="48.68" r="1.25"/><circle cx="70.51" cy="71.97" r="0.98"/><circle cx="83.68" cy="20.55" r="1.14"/><circle cx="60.17" cy="36.16" r="1.27"/><circle cx="45.36" cy="18.65" r="0.71"/><circle cx="58.27" cy="21.08" r="1.25"/><circle cx="48.44" cy="71.51" r="1.15"/><circle cx="75.47" cy="71.91" r="1"/><circle cx="55.64" cy="44.87" r="0.86"/><circle cx="90.28" cy="65.85" r="1.28"/><circle cx="10.49" cy="56.32" r="0.82"/><circle cx="97.8" cy="17.1" r="0.78"/><circle cx="33.86" cy="35.42" r="1.28"/><circle cx="24.01" cy="36.27" r="0.77"/><circle cx="69.05" cy="25.43" r="1.12"/><circle cx="99.47" cy="62.48" r="1.02"/><circle cx="84.78" cy="29.3" r="0.97"/><circle cx="37.98" cy="60.97" r="0.84"/><circle cx="32.25" cy="60.29" r="1.19"/><circle cx="68.18" cy="68.62" r="1.08"/><circle cx="85.81" cy="66.86" r="1.14"/><circle cx="93.05" cy="15.51" r="0.8"/><circle cx="21.88" cy="51" r="1.19"/><circle cx="68.91" cy="73.38" r="0.96"/><circle cx="92.15" cy="53.93" r="1.05"/><circle cx="17.05" cy="29.99" r="0.71"/><circle cx="53.65" cy="32.68" r="0.74"/></g><path d="M-5 52 Q30 34 60 35 T105 38" fill="none" stroke="#2c74c8" stroke-width="6" stroke-opacity="0.85" stroke-linecap="round" filter="url(#b2)"/><g mask="url(#m3_3)" opacity="0.16"><rect x="0" y="0" width="100" height="75" filter="url(#n3_3)"/></g><rect x="85" y="67.5" width="9" height="2.2" fill="#c8c8d0" fill-opacity="0.55"/></g></g>
<g clip-path="url(#c4)"><g transform="translate(268 15) scale(0.77 0.77)"><rect x="-2" y="-2" width="104" height="79" fill="url(#g4_1)"/><g fill="#40d0a0" fill-opacity="0.45" filter="url(#b0_6)"><circle cx="97.91" cy="34.22" r="1.04"/><circle cx="12.19" cy="28.67" r="1.11"/><circle cx="18.34" cy="30.71" r="1.03"/><circle cx="41.5" cy="58.96" r="1.09"/><circle cx="94.59" cy="46.38" r="0.77"/><circle cx="88.66" cy="67.09" r="1.02"/><circle cx="29.65" cy="36.12" r="0.87"/><circle cx="9.67" cy="60.97" r="0.69"/><circle cx="48.52" cy="74.69" r="0.94"/><circle cx="77.18" cy="53.15" r="0.94"/><circle cx="59.69" cy="29.55" r="0.88"/><circle cx="4.44" cy="48.51" r="0.93"/><circle cx="56.54" cy="46.69" r="0.85"/><circle cx="57.85" cy="48.47" r="0.9"/><circle cx="33.08" cy="41.57" r="0.82"/><circle cx="68.5" cy="63.67" r="1.17"/><circle cx="30.95" cy="68.97" r="0.84"/><circle cx="87.13" cy="70.8" r="0.83"/><circle cx="33.23" cy="47.34" r="0.65"/><circle cx="88.17" cy="47.02" r="0.87"/><circle cx="28.91" cy="65.2" r="1.03"/><circle cx="52.11" cy="29.98" r="0.82"/><circle cx="79.45" cy="31.52" r="1.06"/><circle cx="89.5" cy="51.09" r="1.11"/><circle cx="46.14" cy="50.8" r="0.78"/></g><path d="M-10 30 Q40 10 110 20" fill="none" stroke="#0c24c8" stroke-width="22" stroke-opacity="0.8" stroke-linecap="round" filter="url(#b3)"/><g mask="url(#m4_2)" opacity="0.42"><rect x="0" y="0" width="100" height="75" filter="url(#n4_2)"/></g><path d="M-8.71 17.98q7.69 -0.85 15.39 0.15M2.36 0.94q8.6 -0.91 17.21 0.09M84.61 14.11q7.51 -0.08 15.01 0.92M17.87 4.43q5.6 -0.2 11.2 0.8M77.37 13.63q6.48 -1.07 12.95 -0.07M11.37 12q6.92 -0.96 13.84 0.04M69.95 17.63q8.66 -2.18 17.32 -1.18M21.62 11.03q7.14 -1.65 14.28 -0.65M92.38 8.3q7.59 -2.34 15.18 -1.34M20.7 0.4q7.75 -0.93 15.49 0.07M94.81 10.92q4.95 -1.43 9.9 -0.43M31.25 3.56q3.65 -0.55 7.29 0.45M24.52 8.17q7.26 -1.68 14.51 -0.68M38.37 5.82q4.94 -0.5 9.89 0.5M0.84 7.19q3.66 -0.49 7.32 0.51M22.77 17.37q5.9 -0.51 11.79 0.49" fill="none" stroke="#000a70" stroke-width="1.2" stroke-opacity="0.42" filter="url(#b0_6)"/><path d="M47.62 14.76q7.2 -0.58 14.41 0.42M-6.47 2.55q7.51 -1.26 15.01 -0.26M97.32 11.44q7.94 -0.26 15.88 0.74M95.94 11.84q8.63 -1.22 17.25 -0.22M19.41 1.98q4.52 0.18 9.03 1.18M62.39 0.78q3.17 -1.12 6.33 -0.12M49.89 6.5q3.12 -1.71 6.24 -0.71M86.46 13.06q7.91 -1.69 15.82 -0.69M63.45 3.55q4.81 0.37 9.62 1.37M13.47 5.27q4.31 0.1 8.61 1.1" fill="none" stroke="#3a60ff" stroke-width="1" stroke-opacity="0.36" filter="url(#b0_6)"/><path d="M-5 52 Q30 34 60 35 T105 39" fill="none" stroke="#2a60e0" stroke-width="6" stroke-opacity="0.9" stroke-linecap="round" filter="url(#b1_5)"/><path d="M70 42 Q68 58 66 78" fill="none" stroke="#0a1a70" stroke-width="1.5" stroke-opacity="0.9" stroke-linecap="round" filter="url(#b0_6)"/><path d="M20 50 Q25 62 30 78" fill="none" stroke="#1a40b0" stroke-width="3" stroke-opacity="0.5" stroke-linecap="round" filter="url(#b1_5)"/><g mask="url(#m4_3)" opacity="0.12"><rect x="0" y="0" width="100" height="75" filter="url(#n4_3)"/></g><rect x="85" y="67.5" width="9" height="2.2" fill="#c8c8d0" fill-opacity="0.55"/></g></g>
<g clip-path="url(#c5)"><g transform="translate(29 74) scale(0.77 0.77)"><rect x="-2" y="-2" width="104" height="79" fill="#1230a8"/><g opacity="0.36"><rect x="0" y="0" width="100" height="75" filter="url(#n5_1)"/></g><ellipse cx="55" cy="26" rx="34" ry="22" fill="#081862" fill-opacity="0.9" filter="url(#b6)"/><g fill="#40e0c0" fill-opacity="0.75" filter="url(#b0_6)"><circle cx="93.43" cy="29.1" r="1.25"/><circle cx="24.78" cy="36.15" r="0.91"/><circle cx="54.2" cy="5.62" r="1"/><circle cx="31.61" cy="3.01" r="1.25"/><circle cx="91.24" cy="11.28" r="1.13"/><circle cx="52.87" cy="31.88" r="1.11"/><circle cx="66.11" cy="20.82" r="0.96"/><circle cx="50.72" cy="74.52" r="1.32"/><circle cx="77.72" cy="34.34" r="1.31"/><circle cx="97.89" cy="66.27" r="0.86"/><circle cx="41.07" cy="17.08" r="1.02"/><circle cx="85.43" cy="37.11" r="0.94"/><circle cx="16.47" cy="10.51" r="1.25"/><circle cx="95.19" cy="66.66" r="0.74"/><circle cx="26.75" cy="10.55" r="1.03"/><circle cx="20.17" cy="36.55" r="1.02"/><circle cx="63.14" cy="38.59" r="1.05"/><circle cx="4.49" cy="70.7" r="1"/><circle cx="87.01" cy="24.28" r="0.79"/><circle cx="99.12" cy="36.98" r="0.84"/><circle cx="96.34" cy="69.61" r="0.8"/><circle cx="95.07" cy="9.83" r="0.82"/><circle cx="14.89" cy="65.7" r="1.12"/><circle cx="55.57" cy="52.43" r="0.92"/><circle cx="6.11" cy="5.95" r="0.88"/><circle cx="58.58" cy="5.5" r="0.76"/><circle cx="20.13" cy="0.81" r="0.77"/><circle cx="13.66" cy="9.03" r="0.95"/><circle cx="84.99" cy="50.09" r="0.74"/><circle cx="7.06" cy="25.25" r="1.02"/><circle cx="45.43" cy="40.42" r="1.19"/><circle cx="63.5" cy="18.58" r="0.91"/><circle cx="99.31" cy="39.22" r="1.31"/><circle cx="92.82" cy="60.81" r="1.13"/><circle cx="74.01" cy="21.73" r="0.86"/><circle cx="39.06" cy="14.12" r="0.85"/><circle cx="11.14" cy="13.22" r="0.75"/><circle cx="13.6" cy="55.14" r="0.77"/><circle cx="70.79" cy="52.98" r="0.84"/><circle cx="47.72" cy="45.18" r="1.33"/><circle cx="61.04" cy="10.2" r="0.77"/><circle cx="17.46" cy="10.33" r="1.25"/><circle cx="84.63" cy="8.08" r="1.22"/><circle cx="90.36" cy="16.61" r="1.05"/><circle cx="23.34" cy="31.81" r="1.22"/><circle cx="20.15" cy="37.74" r="1.13"/><circle cx="86.84" cy="72.12" r="1.3"/><circle cx="40.2" cy="26.05" r="1.31"/><circle cx="86.15" cy="60.59" r="1.12"/><circle cx="95.57" cy="9.93" r="0.85"/><circle cx="76.08" cy="20.51" r="1.13"/><circle cx="58.12" cy="46.22" r="0.9"/><circle cx="96.36" cy="42.17" r="0.74"/><circle cx="31.83" cy="38.97" r="1.28"/><circle cx="61.09" cy="71.11" r="0.94"/><circle cx="5.54" cy="33.71" r="1.31"/><circle cx="54.03" cy="63.81" r="1.26"/><circle cx="89.8" cy="37.46" r="0.75"/><circle cx="57.11" cy="7.35" r="0.97"/><circle cx="23.38" cy="27.05" r="1.04"/><circle cx="68.54" cy="71.69" r="1.27"/><circle cx="82.06" cy="11.77" r="1.1"/><circle cx="38.21" cy="32.9" r="0.79"/><circle cx="45.69" cy="72.05" r="1.29"/><circle cx="82.8" cy="7.24" r="1.27"/><circle cx="40.4" cy="25.71" r="1.05"/><circle cx="32.18" cy="19.24" r="1.3"/><circle cx="58.66" cy="34.44" r="1.07"/><circle cx="7.12" cy="7" r="0.76"/><circle cx="35.5" cy="65.84" r="0.76"/><circle cx="29.24" cy="65.75" r="0.86"/><circle cx="50.71" cy="67.5" r="1.22"/><circle cx="39.24" cy="22.65" r="0.91"/><circle cx="32.91" cy="73.93" r="1.1"/><circle cx="43.89" cy="70.17" r="0.98"/><circle cx="23.35" cy="38.63" r="0.81"/><circle cx="94.06" cy="0.15" r="0.97"/><circle cx="3.17" cy="16.15" r="1.28"/><circle cx="15.37" cy="58.14" r="1.15"/><circle cx="5.09" cy="72.09" r="0.77"/><circle cx="82.97" cy="71.57" r="0.99"/><circle cx="37.93" cy="28.48" r="1.17"/><circle cx="62.9" cy="12.06" r="0.82"/><circle cx="15.54" cy="6.07" r="0.8"/><circle cx="49.34" cy="9.85" r="1.16"/></g><path d="M-5 45 Q20 75 60 70 Q95 62 102 10" fill="none" stroke="#2a60f0" stroke-width="11" stroke-opacity="0.65" stroke-linecap="round" filter="url(#b3_5)"/><g opacity="0.21"><rect x="0" y="0" width="100" height="75" filter="url(#n5_2)"/></g><rect x="85" y="67.5" width="9" height="2.2" fill="#c8c8d0" fill-opacity="0.55"/></g></g>
<g clip-path="url(#c6)"><g transform="translate(109 74) scale(0.77 0.77)"><rect x="-2" y="-2" width="104" height="79" fill="url(#g6_1)"/><rect x="-2" y="-2" width="104" height="79" fill="url(#g6_2)"/><ellipse cx="15" cy="72" rx="35" ry="12" fill="#40c8b0" fill-opacity="0.5" filter="url(#b5)"/><g opacity="0.21"><rect x="0" y="0" width="100" height="75" filter="url(#n6_3)"/></g><g opacity="0.14"><rect x="0" y="0" width="100" height="75" filter="url(#n6_4)"/></g><g fill="#48f0c0" fill-opacity="0.5" filter="url(#b0_6)"><circle cx="82.72" cy="15.96" r="1.15"/><circle cx="49.39" cy="29.82" r="0.97"/><circle cx="16.96" cy="14.52" r="0.87"/><circle cx="22.97" cy="50.28" r="0.86"/><circle cx="38.35" cy="20.83" r="0.76"/><circle cx="71.62" cy="67.69" r="0.83"/><circle cx="80.4" cy="23.49" r="1.05"/><circle cx="23.88" cy="42.65" r="0.86"/><circle cx="87.09" cy="57.1" r="0.7"/><circle cx="9.93" cy="34.5" r="0.75"/><circle cx="23.79" cy="71.33" r="1.15"/><circle cx="1.75" cy="1.67" r="0.98"/><circle cx="94.76" cy="66.64" r="1.02"/><circle cx="73.95" cy="36.21" r="0.9"/><circle cx="85.69" cy="8.06" r="1.01"/><circle cx="71.95" cy="11.68" r="1.06"/><circle cx="16.85" cy="72.6" r="1.05"/><circle cx="45.59" cy="43.8" r="1.17"/><circle cx="36.7" cy="15.31" r="1.01"/><circle cx="90.32" cy="11.7" r="1.05"/><circle cx="38.88" cy="51.55" r="0.9"/><circle cx="95.05" cy="43.2" r="1.16"/><circle cx="96.28" cy="9.65" r="1.15"/><circle cx="75.84" cy="10.76" r="0.95"/><circle cx="27.17" cy="3.55" r="0.67"/><circle cx="36.3" cy="65.56" r="0.68"/><circle cx="58.57" cy="65.48" r="0.84"/><circle cx="71.86" cy="44.51" r="1.05"/><circle cx="48.16" cy="73.61" r="0.85"/><circle cx="21.24" cy="9.11" r="0.78"/><circle cx="11.8" cy="70.57" r="0.71"/><circle cx="84.05" cy="57.77" r="0.89"/><circle cx="5.09" cy="15.18" r="1.15"/><circle cx="41.4" cy="58.6" r="0.71"/><circle cx="4.72" cy="27.02" r="0.83"/><circle cx="20.54" cy="48.04" r="0.95"/><circle cx="56" cy="23.67" r="0.86"/><circle cx="26.86" cy="41.44" r="0.85"/><circle cx="65.06" cy="72.23" r="0.81"/><circle cx="59.24" cy="7.16" r="1.09"/><circle cx="53.2" cy="44.5" r="0.94"/><circle cx="11.51" cy="65.85" r="0.64"/><circle cx="19.31" cy="36.3" r="1.14"/><circle cx="69.93" cy="67.66" r="0.82"/><circle cx="55.1" cy="45" r="0.76"/><circle cx="9.35" cy="25.51" r="0.68"/><circle cx="0.74" cy="13.29" r="1.11"/><circle cx="61.37" cy="56.25" r="0.95"/><circle cx="48.21" cy="66.65" r="0.82"/><circle cx="26.1" cy="21.71" r="0.68"/><circle cx="1.8" cy="20.37" r="0.98"/><circle cx="19.61" cy="35.76" r="0.79"/><circle cx="75.19" cy="17.92" r="0.88"/><circle cx="74.77" cy="53.98" r="1.13"/><circle cx="1.53" cy="35.04" r="0.74"/><circle cx="89.1" cy="18.68" r="1.08"/><circle cx="51.7" cy="57.61" r="1.07"/><circle cx="86.17" cy="66.59" r="0.86"/><circle cx="67.42" cy="68.84" r="1.07"/><circle cx="44.22" cy="62.15" r="1.06"/><circle cx="44.31" cy="33.16" r="0.88"/><circle cx="93.74" cy="17.23" r="1.16"/><circle cx="13.66" cy="19.11" r="1.04"/><circle cx="70.79" cy="22.93" r="0.8"/></g><rect x="85" y="67.5" width="9" height="2.2" fill="#c8c8d0" fill-opacity="0.55"/></g></g>
<g clip-path="url(#c7)"><g transform="translate(188.5 74) scale(0.77 0.77)"><rect x="-2" y="-2" width="104" height="79" fill="#1a40c4"/><g opacity="0.3"><rect x="0" y="0" width="100" height="75" filter="url(#n7_1)"/></g><ellipse cx="38" cy="30" rx="36" ry="26" fill="#0c2080" fill-opacity="0.75" filter="url(#b8)"/><g fill="#50d8d0" fill-opacity="0.55" filter="url(#b0_6)"><circle cx="48.12" cy="49.96" r="1.02"/><circle cx="69.94" cy="67.67" r="1.09"/><circle cx="16.26" cy="16.57" r="0.92"/><circle cx="39.01" cy="72.22" r="1.08"/><circle cx="46.84" cy="26.37" r="0.79"/><circle cx="60.28" cy="69.29" r="0.76"/><circle cx="45.23" cy="25.85" r="1.01"/><circle cx="25.42" cy="4.9" r="1.05"/><circle cx="30.7" cy="48.53" r="1.18"/><circle cx="58.19" cy="68.42" r="1.12"/><circle cx="6.32" cy="18.4" r="1.04"/><circle cx="47.83" cy="0.35" r="1.13"/><circle cx="64.99" cy="32.6" r="0.96"/><circle cx="17.08" cy="41.25" r="0.75"/><circle cx="66.4" cy="70.64" r="0.79"/><circle cx="26.53" cy="43.17" r="1.16"/><circle cx="16.91" cy="29.35" r="1.01"/><circle cx="16.45" cy="5.18" r="1.09"/><circle cx="62.23" cy="43.52" r="0.98"/><circle cx="10.28" cy="36.04" r="0.94"/><circle cx="51.46" cy="12.23" r="0.7"/><circle cx="51.6" cy="52.19" r="1.05"/><circle cx="93.69" cy="27.85" r="0.89"/><circle cx="33.05" cy="37.88" r="1.05"/><circle cx="86.4" cy="6.94" r="0.99"/><circle cx="76.71" cy="56.22" r="0.91"/><circle cx="7.14" cy="24.19" r="1"/><circle cx="77.84" cy="16.33" r="0.85"/><circle cx="36.74" cy="3.91" r="1.22"/><circle cx="35.2" cy="33.1" r="1.22"/><circle cx="78.18" cy="20.6" r="1.2"/><circle cx="82.55" cy="42.37" r="0.92"/><circle cx="84.89" cy="69.1" r="1.05"/><circle cx="32.07" cy="65.4" r="1.04"/><circle cx="93.03" cy="61.19" r="1.06"/><circle cx="89.59" cy="33.1" r="1.01"/><circle cx="74.78" cy="32.97" r="0.74"/><circle cx="82.84" cy="40.25" r="0.92"/><circle cx="53.43" cy="21.82" r="1.15"/><circle cx="28.58" cy="18.39" r="1.02"/><circle cx="48.86" cy="23.51" r="0.71"/><circle cx="44.26" cy="31.03" r="0.98"/><circle cx="64.59" cy="20.6" r="0.7"/><circle cx="6.11" cy="41.28" r="1.2"/><circle cx="73.98" cy="69.68" r="0.75"/><circle cx="20.72" cy="53.61" r="0.9"/><circle cx="42.07" cy="62.44" r="0.71"/><circle cx="94.19" cy="14.09" r="1"/><circle cx="65.61" cy="42.01" r="1.07"/><circle cx="30.53" cy="17.26" r="1.04"/><circle cx="94.61" cy="4.73" r="0.72"/><circle cx="98.88" cy="3.91" r="0.74"/><circle cx="50.41" cy="24.17" r="1.07"/><circle cx="46.57" cy="59.76" r="0.73"/><circle cx="22.1" cy="14.43" r="1.12"/><circle cx="99.93" cy="28.3" r="0.79"/><circle cx="7.28" cy="13.74" r="1.23"/><circle cx="95.14" cy="69.33" r="0.77"/><circle cx="7.54" cy="74.5" r="1.08"/><circle cx="88.25" cy="67.16" r="1.16"/></g><path d="M-5 55 Q40 82 80 60 Q98 45 98 5" fill="none" stroke="#2c64f0" stroke-width="11" stroke-opacity="0.65" stroke-linecap="round" filter="url(#b3_5)"/><path d="M75 52 L102 44" fill="none" stroke="#000830" stroke-width="0.8" stroke-opacity="0.8" stroke-linecap="round" filter="url(#b0_3)"/><g opacity="0.17"><rect x="0" y="0" width="100" height="75" filter="url(#n7_2)"/></g><rect x="85" y="67.5" width="9" height="2.2" fill="#c8c8d0" fill-opacity="0.55"/></g></g>
<g clip-path="url(#c8)"><g transform="translate(268 74) scale(0.77 0.77)"><rect x="-2" y="-2" width="104" height="79" fill="#1a3cc0"/><g opacity="0.3"><rect x="0" y="0" width="100" height="75" filter="url(#n8_1)"/></g><ellipse cx="36" cy="28" rx="40" ry="28" fill="#0a1c58" fill-opacity="0.75" filter="url(#b10)"/><g fill="#50d0d0" fill-opacity="0.5" filter="url(#b0_6)"><circle cx="3.06" cy="65.07" r="1.02"/><circle cx="1.79" cy="41.25" r="0.76"/><circle cx="88.18" cy="64.02" r="0.79"/><circle cx="59.85" cy="37.12" r="0.78"/><circle cx="43.31" cy="29.61" r="0.88"/><circle cx="95.21" cy="54.81" r="0.65"/><circle cx="35.24" cy="72.6" r="1.04"/><circle cx="60.64" cy="48.49" r="1"/><circle cx="16.44" cy="30.5" r="0.78"/><circle cx="19.19" cy="51.7" r="0.65"/><circle cx="17.89" cy="53.25" r="1.11"/><circle cx="30.3" cy="63.96" r="1.08"/><circle cx="15.36" cy="68.61" r="0.72"/><circle cx="47.17" cy="6.27" r="0.68"/><circle cx="66.39" cy="62.99" r="0.69"/><circle cx="32.73" cy="45.83" r="0.95"/><circle cx="13.94" cy="52.06" r="0.69"/><circle cx="93.31" cy="50.02" r="0.99"/><circle cx="92.32" cy="17.67" r="0.74"/><circle cx="62.63" cy="67.07" r="1.13"/><circle cx="79.5" cy="45.16" r="0.82"/><circle cx="78.79" cy="47.68" r="1.1"/><circle cx="75.56" cy="36.81" r="0.98"/><circle cx="20.34" cy="21.27" r="1.04"/><circle cx="70.5" cy="2.08" r="0.74"/><circle cx="41.95" cy="42.86" r="0.82"/><circle cx="37.46" cy="70.91" r="0.84"/><circle cx="44.43" cy="70.4" r="0.81"/><circle cx="52.8" cy="12.58" r="1.09"/><circle cx="82.33" cy="17.81" r="0.97"/><circle cx="24.12" cy="62.83" r="0.9"/><circle cx="28.57" cy="72.83" r="0.89"/><circle cx="56.36" cy="72.41" r="0.79"/><circle cx="45.35" cy="68" r="0.82"/><circle cx="85.63" cy="46.48" r="1.14"/><circle cx="58.27" cy="66.59" r="0.89"/><circle cx="22.41" cy="25.96" r="0.89"/><circle cx="61.46" cy="34.35" r="0.83"/><circle cx="26.66" cy="38.14" r="1"/><circle cx="63.66" cy="2.64" r="0.77"/><circle cx="67.58" cy="36.5" r="0.79"/><circle cx="58.67" cy="3.22" r="0.9"/><circle cx="93.75" cy="26.57" r="0.71"/><circle cx="68.65" cy="45.4" r="0.81"/><circle cx="24.68" cy="0.21" r="0.68"/></g><path d="M-5 80 Q60 72 105 20" fill="none" stroke="#2a50e8" stroke-width="14" stroke-opacity="0.6" stroke-linecap="round" filter="url(#b4)"/><ellipse cx="15" cy="40" rx="1.5" ry="3" fill="#40e0a0" fill-opacity="0.9" filter="url(#b0_6)"/><g opacity="0.14"><rect x="0" y="0" width="100" height="75" filter="url(#n8_2)"/></g><rect x="85" y="67.5" width="9" height="2.2" fill="#c8c8d0" fill-opacity="0.55"/></g></g>
<g clip-path="url(#c9)"><g transform="translate(29 133.2) scale(0.77 0.76)"><rect x="-2" y="-2" width="104" height="79" fill="url(#g9_1)"/><g opacity="0.24"><rect x="0" y="0" width="100" height="75" filter="url(#n9_2)"/></g><g fill="#50e898" fill-opacity="0.8" filter="url(#b0_6)"><circle cx="51.49" cy="14.15" r="1.32"/><circle cx="63.53" cy="44.22" r="1.31"/><circle cx="9.12" cy="59.46" r="0.87"/><circle cx="25.12" cy="24.08" r="1.19"/><circle cx="94.13" cy="52.97" r="0.93"/><circle cx="12.85" cy="21.48" r="0.86"/><circle cx="50.22" cy="38.16" r="0.8"/><circle cx="20.88" cy="65.9" r="1.17"/><circle cx="9.49" cy="65.03" r="1.01"/><circle cx="38.42" cy="60.38" r="1.16"/><circle cx="43.63" cy="28.79" r="1.07"/><circle cx="83.43" cy="53.11" r="0.78"/><circle cx="2.98" cy="26.85" r="0.91"/><circle cx="77.86" cy="45.58" r="0.81"/><circle cx="42.13" cy="43.25" r="1.03"/><circle cx="25.83" cy="51.72" r="0.9"/><circle cx="99.42" cy="28.42" r="1.04"/><circle cx="80.37" cy="26.38" r="1.29"/><circle cx="55.29" cy="40.65" r="0.88"/><circle cx="33.01" cy="39.54" r="1.24"/><circle cx="15.41" cy="63.5" r="1.3"/><circle cx="8.05" cy="48.31" r="0.88"/><circle cx="9.92" cy="73.24" r="0.88"/><circle cx="41.44" cy="52.81" r="1.11"/><circle cx="90.14" cy="73.16" r="1.02"/><circle cx="10.77" cy="62.75" r="0.82"/><circle cx="36.4" cy="16.68" r="1.24"/><circle cx="20.71" cy="60.93" r="1.07"/><circle cx="61.02" cy="55.91" r="0.94"/><circle cx="18.13" cy="55.64" r="1.12"/><circle cx="41.76" cy="13.87" r="0.83"/><circle cx="44.76" cy="50.79" r="0.92"/><circle cx="1.5" cy="34.54" r="0.87"/><circle cx="74.73" cy="52.77" r="1.04"/><circle cx="8.05" cy="50.93" r="1.02"/><circle cx="76.33" cy="59.52" r="0.82"/><circle cx="29.13" cy="41.94" r="0.79"/><circle cx="16.71" cy="53.94" r="0.76"/><circle cx="24.68" cy="10.07" r="1.29"/><circle cx="71.1" cy="56.75" r="1.24"/><circle cx="22.29" cy="61.34" r="0.95"/><circle cx="38.89" cy="6.04" r="0.9"/><circle cx="38.05" cy="61.09" r="1.04"/><circle cx="27.63" cy="45.45" r="0.92"/><circle cx="81.36" cy="25" r="0.86"/><circle cx="38.83" cy="43.7" r="1.13"/><circle cx="27.47" cy="40.78" r="1.14"/><circle cx="22.02" cy="23.29" r="1"/><circle cx="79.52" cy="10.06" r="0.89"/><circle cx="90.17" cy="39.37" r="0.73"/><circle cx="54.36" cy="73.14" r="1.05"/><circle cx="78.9" cy="61.72" r="0.82"/><circle cx="88.21" cy="2.74" r="0.78"/><circle cx="68.61" cy="29.88" r="1.2"/><circle cx="42.62" cy="41.94" r="1.07"/><circle cx="72.32" cy="64.52" r="1.34"/><circle cx="39.66" cy="73.99" r="0.76"/><circle cx="72.27" cy="44.79" r="0.76"/><circle cx="28.24" cy="53.76" r="0.75"/><circle cx="41.84" cy="50.73" r="0.86"/><circle cx="54.65" cy="3.27" r="0.81"/><circle cx="7.58" cy="37.84" r="0.97"/><circle cx="78.31" cy="53.32" r="1.2"/><circle cx="1.1" cy="36.17" r="1.35"/><circle cx="53.43" cy="46.32" r="1.23"/><circle cx="16.45" cy="74.02" r="0.96"/><circle cx="51" cy="74.5" r="0.76"/><circle cx="74.18" cy="10.41" r="1.22"/><circle cx="31.36" cy="56.8" r="1.04"/><circle cx="69.4" cy="68.14" r="1.19"/><circle cx="77.25" cy="16.53" r="1.21"/><circle cx="66.17" cy="12.97" r="1.03"/><circle cx="47.52" cy="32.92" r="1.15"/><circle cx="9.77" cy="65.24" r="1.31"/><circle cx="6.01" cy="4.11" r="1.03"/><circle cx="39.17" cy="32.39" r="1.01"/><circle cx="27.46" cy="32.8" r="0.96"/><circle cx="34.39" cy="59.16" r="1.08"/><circle cx="96.14" cy="65.28" r="1.26"/><circle cx="29.38" cy="53.07" r="1.03"/><circle cx="12" cy="16.8" r="0.75"/><circle cx="41.26" cy="45.96" r="0.78"/><circle cx="64.07" cy="19.49" r="0.8"/><circle cx="6.26" cy="47.77" r="0.88"/><circle cx="48.5" cy="28.89" r="1.16"/><circle cx="70.36" cy="62.24" r="1.18"/><circle cx="45.86" cy="36.1" r="0.92"/><circle cx="8.45" cy="17.96" r="1.07"/><circle cx="33.26" cy="69.11" r="1.28"/><circle cx="33.76" cy="56.76" r="1.12"/><circle cx="30.41" cy="43.83" r="0.74"/><circle cx="30.75" cy="41.67" r="1.11"/><circle cx="70.63" cy="67.69" r="1.31"/><circle cx="82.02" cy="44.94" r="1.01"/><circle cx="37.4" cy="26.67" r="0.81"/><circle cx="30.56" cy="40.69" r="0.94"/><circle cx="20.06" cy="51.25" r="0.94"/><circle cx="58.75" cy="7.96" r="1.11"/><circle cx="41.84" cy="72.73" r="0.79"/><circle cx="28.01" cy="56.14" r="1.01"/><circle cx="62.2" cy="73.43" r="1.07"/><circle cx="10.92" cy="13.61" r="1.19"/><circle cx="6.04" cy="57.34" r="0.87"/><circle cx="15.33" cy="67.37" r="1.07"/><circle cx="19.99" cy="60.9" r="1.19"/><circle cx="92.43" cy="69.29" r="1.01"/><circle cx="86.14" cy="1.78" r="1.1"/><circle cx="30.35" cy="30.55" r="1.32"/><circle cx="55.83" cy="33.01" r="1.07"/><circle cx="99.19" cy="5.65" r="0.92"/><circle cx="10.25" cy="42.93" r="1.22"/><circle cx="3.87" cy="41.11" r="1.06"/><circle cx="96.68" cy="19.75" r="1.25"/><circle cx="41.92" cy="62.62" r="1.31"/><circle cx="37.92" cy="34.42" r="0.83"/><circle cx="76.45" cy="68.36" r="0.93"/><circle cx="68.41" cy="39.44" r="1.1"/><circle cx="88.79" cy="16.02" r="1.07"/><circle cx="74.97" cy="29.87" r="1.29"/><circle cx="96.03" cy="74.38" r="0.89"/><circle cx="94" cy="60.26" r="0.79"/><circle cx="6.37" cy="1.95" r="1.16"/><circle cx="67.46" cy="0.31" r="1.16"/><circle cx="8.54" cy="69.3" r="0.87"/><circle cx="60.01" cy="38.62" r="1.18"/><circle cx="68.24" cy="1.75" r="1.19"/><circle cx="31.15" cy="34.4" r="0.97"/><circle cx="0.86" cy="5.73" r="0.93"/></g><path d="M-5 47 Q50 38 105 4" fill="none" stroke="#1c34e0" stroke-width="13" stroke-opacity="0.85" stroke-linecap="round" filter="url(#b2_5)"/><path d="M-5 55 Q50 63 105 52" fill="none" stroke="#1c34e0" stroke-width="12" stroke-opacity="0.85" stroke-linecap="round" filter="url(#b2_5)"/><ellipse cx="3" cy="51" rx="10" ry="9" fill="#1c34e0" fill-opacity="0.8" filter="url(#b3)"/><rect x="85" y="67.5" width="9" height="2.2" fill="#c8c8d0" fill-opacity="0.55"/></g></g>
<g clip-path="url(#c10)"><g transform="translate(109 133.2) scale(0.77 0.76)"><rect x="-2" y="-2" width="104" height="79" fill="url(#g10_1)"/><ellipse cx="22" cy="15" rx="30" ry="18" fill="#2a8a70" fill-opacity="0.6" filter="url(#b5)"/><g opacity="0.17"><rect x="0" y="0" width="100" height="75" filter="url(#n10_2)"/></g><g fill="#50e898" fill-opacity="0.6" filter="url(#b0_6)"><circle cx="8.73" cy="43.79" r="0.85"/><circle cx="91.47" cy="46.09" r="0.92"/><circle cx="93.82" cy="21.43" r="1.1"/><circle cx="42.21" cy="50.7" r="1.17"/><circle cx="80.68" cy="45.35" r="1.08"/><circle cx="2.44" cy="32.15" r="1.11"/><circle cx="75.3" cy="33.83" r="0.76"/><circle cx="34.71" cy="32.23" r="0.7"/><circle cx="93.69" cy="48.6" r="0.93"/><circle cx="18.21" cy="24.18" r="0.86"/><circle cx="14.55" cy="25.08" r="0.84"/><circle cx="73.65" cy="68.04" r="0.64"/><circle cx="13.67" cy="64.13" r="0.64"/><circle cx="25.82" cy="42.26" r="0.93"/><circle cx="21.72" cy="56.51" r="1.03"/><circle cx="0.55" cy="53.4" r="0.84"/><circle cx="49.26" cy="43.27" r="0.99"/><circle cx="80.23" cy="13.56" r="0.74"/><circle cx="20.53" cy="13.66" r="1.07"/><circle cx="85.94" cy="27.21" r="1.01"/><circle cx="79.17" cy="64.62" r="1.06"/><circle cx="58.2" cy="59.92" r="0.81"/><circle cx="59.44" cy="20.33" r="0.86"/><circle cx="37.94" cy="37.3" r="0.64"/><circle cx="43.73" cy="37.29" r="1.13"/><circle cx="70.93" cy="11.32" r="0.85"/><circle cx="75.6" cy="6.26" r="1.11"/><circle cx="4.7" cy="50.55" r="0.95"/><circle cx="95.8" cy="27.72" r="0.81"/><circle cx="17.97" cy="20.82" r="0.81"/><circle cx="57.89" cy="20.89" r="0.74"/><circle cx="86.67" cy="5.15" r="1.16"/><circle cx="25.84" cy="57.38" r="1.04"/><circle cx="95.5" cy="57.78" r="0.64"/><circle cx="76.01" cy="72.7" r="1.07"/><circle cx="51.93" cy="3.56" r="0.65"/><circle cx="24.61" cy="54.14" r="0.72"/><circle cx="56.08" cy="56.36" r="0.95"/><circle cx="72.94" cy="60.05" r="1.03"/><circle cx="0.66" cy="49.61" r="0.95"/><circle cx="82.08" cy="19.36" r="0.72"/><circle cx="5.11" cy="33.77" r="0.73"/><circle cx="77.17" cy="43.75" r="0.84"/><circle cx="34.01" cy="6.76" r="0.71"/><circle cx="89.05" cy="12.74" r="0.93"/><circle cx="57.22" cy="56.35" r="0.73"/><circle cx="39.43" cy="10.09" r="0.7"/><circle cx="37.45" cy="39.78" r="0.81"/><circle cx="38.97" cy="41.84" r="0.65"/><circle cx="85.28" cy="1.36" r="0.86"/><circle cx="71.44" cy="0.57" r="0.72"/><circle cx="2.11" cy="10.33" r="0.96"/><circle cx="74.41" cy="72.46" r="0.93"/><circle cx="87.97" cy="31.23" r="0.93"/><circle cx="95.77" cy="1.99" r="1.13"/><circle cx="30.09" cy="32.99" r="1.15"/><circle cx="43.69" cy="69.07" r="1"/><circle cx="14.75" cy="73.23" r="0.65"/><circle cx="68.97" cy="24.02" r="1.16"/><circle cx="24.35" cy="13.75" r="0.78"/><circle cx="71.22" cy="29.87" r="0.97"/><circle cx="91.21" cy="53.57" r="1.09"/><circle cx="27.37" cy="6.38" r="0.92"/><circle cx="17.87" cy="56.95" r="0.94"/></g><path d="M92 -4 Q50 30 -5 58" fill="none" stroke="#1c3cd8" stroke-width="12" stroke-opacity="0.9" stroke-linecap="round" filter="url(#b2_5)"/><path d="M106 14 Q70 50 18 72" fill="none" stroke="#1c3cd0" stroke-width="11" stroke-opacity="0.85" stroke-linecap="round" filter="url(#b2_5)"/><ellipse cx="8" cy="62" rx="16" ry="14" fill="#1c3cc8" fill-opacity="0.6" filter="url(#b4)"/><ellipse cx="92" cy="66" rx="12" ry="12" fill="#40b880" fill-opacity="0.6" filter="url(#b4)"/><ellipse cx="22" cy="4" rx="4.5" ry="4.5" fill="#000820" fill-opacity="0.95" filter="url(#b0_8)"/><ellipse cx="40" cy="6" rx="1.5" ry="2" fill="#000820" fill-opacity="0.9" filter="url(#b0_5)"/><rect x="85" y="67.5" width="9" height="2.2" fill="#c8c8d0" fill-opacity="0.55"/></g></g>
<g clip-path="url(#c11)"><g transform="translate(188.5 133.2) scale(0.77 0.76)"><rect x="-2" y="-2" width="104" height="79" fill="#0a2c2a"/><g opacity="0.24"><rect x="0" y="0" width="100" height="75" filter="url(#n11_1)"/></g><g fill="#50e898" fill-opacity="0.85" filter="url(#b0_6)"><circle cx="51" cy="44.77" r="0.97"/><circle cx="93" cy="54.73" r="1.27"/><circle cx="45.81" cy="62.67" r="1.25"/><circle cx="59.26" cy="7.95" r="1.07"/><circle cx="97.04" cy="41.86" r="1.02"/><circle cx="62.83" cy="10.66" r="0.99"/><circle cx="77.93" cy="35.35" r="1.03"/><circle cx="97.35" cy="39.12" r="1.07"/><circle cx="8.19" cy="44.7" r="1.1"/><circle cx="28.21" cy="69.91" r="1.18"/><circle cx="53.96" cy="64.61" r="1.03"/><circle cx="97.74" cy="51.46" r="1.02"/><circle cx="45.57" cy="72.61" r="1.17"/><circle cx="1.33" cy="63.92" r="1.04"/><circle cx="29.98" cy="36.34" r="0.9"/><circle cx="66.65" cy="46.41" r="1.07"/><circle cx="48.11" cy="25.03" r="1.23"/><circle cx="83.36" cy="3.81" r="1.19"/><circle cx="80.59" cy="74.35" r="1.28"/><circle cx="95.28" cy="47.85" r="1.33"/><circle cx="73.85" cy="18.83" r="1.24"/><circle cx="61.98" cy="39.92" r="0.93"/><circle cx="94.29" cy="60.68" r="1.29"/><circle cx="24.28" cy="12.72" r="0.89"/><circle cx="38.01" cy="25.51" r="1.26"/><circle cx="39.94" cy="74.59" r="0.81"/><circle cx="39.65" cy="65.71" r="1.1"/><circle cx="67.17" cy="63.62" r="1.19"/><circle cx="17.1" cy="3.82" r="1.42"/><circle cx="41.24" cy="38.85" r="0.84"/><circle cx="50.52" cy="26.52" r="0.88"/><circle cx="67.85" cy="50.94" r="1.17"/><circle cx="83.22" cy="72.58" r="1.33"/><circle cx="7.1" cy="39.31" r="1.21"/><circle cx="88.99" cy="40.53" r="1.07"/><circle cx="28.89" cy="16.94" r="1.32"/><circle cx="1.73" cy="55.42" r="1.41"/><circle cx="5.4" cy="13.77" r="0.96"/><circle cx="81.49" cy="61.12" r="1.38"/><circle cx="60.88" cy="39.05" r="1.09"/><circle cx="55.77" cy="55.03" r="0.96"/><circle cx="90.5" cy="13.96" r="1.42"/><circle cx="46.94" cy="2.81" r="0.84"/><circle cx="66.57" cy="68.18" r="0.83"/><circle cx="2.33" cy="25.02" r="1.29"/><circle cx="19.57" cy="30" r="0.95"/><circle cx="0.2" cy="8.01" r="1"/><circle cx="62.77" cy="52.86" r="1.21"/><circle cx="90.39" cy="44.17" r="1.19"/><circle cx="71.14" cy="23.61" r="1.43"/><circle cx="13.05" cy="67.58" r="1.08"/><circle cx="22.87" cy="26.62" r="1.14"/><circle cx="16.41" cy="5.79" r="0.94"/><circle cx="96.2" cy="57.02" r="1"/><circle cx="70.28" cy="16.34" r="0.85"/><circle cx="44.65" cy="26.09" r="1.41"/><circle cx="9.47" cy="57.8" r="0.83"/><circle cx="94.4" cy="56.2" r="1.4"/><circle cx="65.3" cy="9.23" r="1.39"/><circle cx="94.17" cy="52.39" r="1.25"/><circle cx="68.63" cy="32.26" r="0.95"/><circle cx="24.94" cy="42.86" r="0.97"/><circle cx="63.05" cy="21.35" r="0.82"/><circle cx="84.73" cy="46.5" r="1.13"/><circle cx="71.38" cy="70.72" r="1.13"/><circle cx="32.14" cy="73.59" r="0.83"/><circle cx="48.58" cy="46.2" r="0.91"/><circle cx="29.48" cy="73.42" r="1.37"/><circle cx="18.17" cy="58.01" r="1.39"/><circle cx="60.73" cy="64.18" r="0.88"/><circle cx="30.68" cy="7.43" r="1.1"/><circle cx="67.41" cy="23.85" r="0.97"/><circle cx="69.06" cy="64.45" r="1.33"/><circle cx="50.35" cy="4.46" r="1.08"/><circle cx="12.44" cy="60.23" r="0.84"/><circle cx="87.3" cy="6.31" r="1.02"/><circle cx="59.98" cy="43.42" r="1.01"/><circle cx="1.5" cy="28.77" r="1.21"/><circle cx="43.13" cy="70.92" r="1.18"/><circle cx="44.13" cy="2.34" r="0.85"/><circle cx="27.42" cy="66.66" r="1.38"/><circle cx="45.85" cy="18.92" r="0.91"/><circle cx="54.41" cy="44.55" r="0.95"/><circle cx="75.12" cy="31.76" r="0.91"/><circle cx="13.37" cy="51.55" r="1.25"/><circle cx="94.53" cy="27.13" r="0.96"/><circle cx="86.57" cy="21.79" r="1.02"/><circle cx="69.52" cy="9.96" r="1"/><circle cx="9.18" cy="71.67" r="1.17"/><circle cx="84.71" cy="20.32" r="1.22"/><circle cx="56.34" cy="38.73" r="1.2"/><circle cx="22.46" cy="47.18" r="1.17"/><circle cx="6.64" cy="22.77" r="0.97"/><circle cx="29.94" cy="69.33" r="0.78"/><circle cx="47.04" cy="47.74" r="1.42"/><circle cx="44.53" cy="7.28" r="1.18"/></g><path d="M75 -6 Q45 25 4 66" fill="none" stroke="#1c3ce8" stroke-width="13" stroke-opacity="0.88" stroke-linecap="round" filter="url(#b2_5)"/><path d="M106 34 Q55 44 10 68" fill="none" stroke="#1c3ce8" stroke-width="10" stroke-opacity="0.88" stroke-linecap="round" filter="url(#b2_5)"/><rect x="85" y="67.5" width="9" height="2.2" fill="#c8c8d0" fill-opacity="0.55"/></g></g>
<g clip-path="url(#c12)"><g transform="translate(268 133.2) scale(0.77 0.76)"><rect x="-2" y="-2" width="104" height="79" fill="#123852"/><g opacity="0.19"><rect x="0" y="0" width="100" height="75" filter="url(#n12_1)"/></g><g fill="#48f0c0" fill-opacity="0.65" filter="url(#b0_6)"><circle cx="5.24" cy="6.54" r="0.86"/><circle cx="10.77" cy="67.59" r="0.66"/><circle cx="53.62" cy="24.91" r="1.1"/><circle cx="15.97" cy="25.29" r="0.82"/><circle cx="24.52" cy="0.13" r="0.88"/><circle cx="8.76" cy="44.82" r="0.68"/><circle cx="31.55" cy="33.62" r="1.13"/><circle cx="9.28" cy="10.66" r="1.07"/><circle cx="2.12" cy="68.34" r="0.95"/><circle cx="26.53" cy="62.84" r="1.06"/><circle cx="34.35" cy="60.11" r="0.75"/><circle cx="60.89" cy="39.53" r="1.08"/><circle cx="31.53" cy="29.87" r="1.06"/><circle cx="51.28" cy="51.36" r="0.99"/><circle cx="66.67" cy="66.76" r="0.9"/><circle cx="66.85" cy="28.09" r="0.65"/><circle cx="75.42" cy="13.61" r="1.08"/><circle cx="91.36" cy="49.36" r="0.73"/><circle cx="33.69" cy="29.34" r="0.68"/><circle cx="45.68" cy="42.99" r="0.82"/><circle cx="18.91" cy="6.61" r="0.98"/><circle cx="1.28" cy="26.39" r="0.76"/><circle cx="53.2" cy="54.27" r="1.13"/><circle cx="63.88" cy="74.38" r="1.16"/><circle cx="63" cy="17.5" r="0.9"/><circle cx="17.76" cy="74.4" r="0.88"/><circle cx="75.17" cy="3.31" r="0.71"/><circle cx="19.32" cy="19.23" r="0.83"/><circle cx="27.19" cy="32.57" r="0.87"/><circle cx="10.86" cy="4.7" r="0.83"/><circle cx="8.88" cy="32.49" r="0.64"/><circle cx="53.58" cy="5.51" r="1.02"/><circle cx="40.42" cy="73.9" r="0.78"/><circle cx="47.25" cy="56.31" r="0.82"/><circle cx="34.84" cy="47.93" r="1.17"/><circle cx="88.39" cy="31.43" r="1.03"/><circle cx="67.91" cy="27.91" r="0.77"/><circle cx="7.84" cy="65.92" r="0.67"/><circle cx="51.87" cy="40.32" r="0.72"/><circle cx="65.59" cy="68.69" r="1.06"/><circle cx="38.93" cy="9.49" r="1.17"/><circle cx="51.71" cy="47.22" r="1.08"/><circle cx="38.62" cy="4.65" r="0.71"/><circle cx="66.84" cy="26.22" r="1.11"/><circle cx="74.02" cy="73.53" r="1"/><circle cx="30.38" cy="59.33" r="0.65"/><circle cx="52.16" cy="65.35" r="0.92"/><circle cx="13.74" cy="37.51" r="0.93"/><circle cx="36.9" cy="67.01" r="0.82"/><circle cx="27.18" cy="37.97" r="0.75"/><circle cx="32.21" cy="29.86" r="1.15"/><circle cx="8.04" cy="14.78" r="0.75"/><circle cx="99.53" cy="66.81" r="0.74"/><circle cx="56.46" cy="6.38" r="0.81"/><circle cx="34.11" cy="40.33" r="1.14"/><circle cx="80.9" cy="40.06" r="1.07"/><circle cx="48.4" cy="54.79" r="1.06"/><circle cx="25.69" cy="62.46" r="0.95"/><circle cx="48.61" cy="29.69" r="0.76"/><circle cx="50.13" cy="9.46" r="0.98"/><circle cx="89.83" cy="59.29" r="0.97"/><circle cx="49.45" cy="52.18" r="0.7"/><circle cx="5.24" cy="64.62" r="0.83"/><circle cx="66.89" cy="31.56" r="0.83"/><circle cx="77.03" cy="25.73" r="1.05"/><circle cx="82.05" cy="13.55" r="1.17"/><circle cx="6.24" cy="31.1" r="0.91"/><circle cx="82.94" cy="13.12" r="0.94"/><circle cx="36.85" cy="69.13" r="0.7"/><circle cx="26.54" cy="61.49" r="0.81"/><circle cx="94.42" cy="3.87" r="0.85"/><circle cx="10.75" cy="43.01" r="1.16"/></g><path d="M-5 48 Q20 52 38 50 Q60 30 82 -5" fill="none" stroke="#2040d8" stroke-width="14" stroke-opacity="0.85" stroke-linecap="round" filter="url(#b3_5)"/><path d="M30 56 Q60 50 106 18" fill="none" stroke="#2040d8" stroke-width="13" stroke-opacity="0.85" stroke-linecap="round" filter="url(#b3_5)"/><ellipse cx="80" cy="5" rx="3" ry="3" fill="#48e090" fill-opacity="0.8" filter="url(#b1)"/><rect x="85" y="67.5" width="9" height="2.2" fill="#c8c8d0" fill-opacity="0.55"/></g></g>
<g clip-path="url(#c13)"><g transform="translate(29 208.6) scale(0.77 0.76)"><rect x="-2" y="-2" width="104" height="79" fill="url(#g13_1)"/><g mask="url(#m13_2)" opacity="0.48"><rect x="0" y="0" width="100" height="75" filter="url(#n13_2)"/></g><path d="M-4.98 2.44q7.25 -2.07 14.51 -1.07M84.6 3.2q3.07 -1.18 6.14 -0.18M8.39 0.19q4.67 -1.12 9.34 -0.12M11.21 10.23q4.8 -0.4 9.6 0.6M28.6 1.21q5.61 -0.44 11.22 0.56M43.57 7.71q3.73 -2.08 7.46 -1.08M4.31 5.9q8.17 -1.35 16.33 -0.35M80.23 1.33q4.35 -0.48 8.7 0.52M76.41 9.52q3.87 -0.88 7.75 0.12M16.12 8.99q6.48 -0.43 12.96 0.57M76.21 11.83q5.8 0.48 11.59 1.48M21.87 10.58q3.63 -0.35 7.27 0.65M88.64 6.66q5.17 -0.02 10.33 0.98M79.58 8.57q5.07 -0.95 10.14 0.05" fill="none" stroke="#000640" stroke-width="1.2" stroke-opacity="0.42" filter="url(#b0_6)"/><g mask="url(#m13_3)" opacity="0.54"><rect x="0" y="0" width="100" height="75" filter="url(#n13_3)"/></g><g fill="#d81040" fill-opacity="0.75" filter="url(#b0_6)"><circle cx="0.19" cy="39.67" r="1.27"/><circle cx="1.96" cy="33.59" r="1.04"/><circle cx="97.88" cy="56.94" r="1.06"/><circle cx="98.47" cy="55.17" r="1.48"/><circle cx="29.16" cy="29.44" r="0.81"/><circle cx="94.86" cy="72.39" r="0.84"/><circle cx="14.36" cy="10.29" r="1.35"/><circle cx="45.96" cy="38.9" r="0.9"/><circle cx="72.91" cy="8.01" r="1.49"/><circle cx="69.29" cy="14.39" r="0.88"/><circle cx="22.23" cy="46.96" r="0.97"/><circle cx="77.45" cy="30.93" r="1.27"/><circle cx="23.93" cy="53.12" r="0.91"/><circle cx="64.15" cy="38.45" r="1.46"/><circle cx="76.82" cy="33.51" r="1.33"/><circle cx="42.29" cy="50.74" r="0.9"/><circle cx="37.95" cy="74.06" r="1.46"/><circle cx="59.33" cy="26.6" r="1.11"/><circle cx="92.48" cy="71.66" r="1.07"/><circle cx="41.53" cy="59.43" r="0.97"/><circle cx="81.9" cy="36.47" r="1.05"/><circle cx="33.84" cy="25.08" r="1.33"/><circle cx="65.61" cy="29.47" r="1.28"/><circle cx="88.55" cy="70.76" r="1.18"/><circle cx="95.8" cy="66.4" r="1.28"/><circle cx="80.67" cy="20.63" r="1.43"/><circle cx="49.62" cy="31.5" r="1.36"/><circle cx="64.98" cy="74.16" r="1.03"/><circle cx="14.78" cy="53.8" r="1.22"/><circle cx="99.48" cy="64.32" r="1.24"/><circle cx="26.81" cy="38.18" r="1.13"/><circle cx="98.77" cy="42.37" r="1.22"/><circle cx="43.68" cy="65.58" r="1.05"/><circle cx="42.83" cy="50.3" r="0.85"/><circle cx="8.24" cy="47.94" r="0.91"/><circle cx="88.93" cy="45.05" r="1.44"/><circle cx="43.9" cy="1.78" r="0.92"/><circle cx="87.45" cy="49.3" r="1.26"/><circle cx="73.25" cy="24.48" r="1.11"/><circle cx="72.58" cy="27.24" r="0.96"/><circle cx="45.9" cy="40.51" r="0.87"/><circle cx="90.46" cy="46.68" r="1.23"/><circle cx="17.18" cy="14.49" r="1.19"/><circle cx="73.43" cy="41.12" r="1.08"/><circle cx="20.96" cy="53.97" r="1.14"/><circle cx="21.43" cy="69.18" r="1.38"/><circle cx="99.63" cy="22.87" r="1.17"/><circle cx="71.27" cy="64.92" r="1.08"/><circle cx="86.61" cy="16.18" r="0.9"/><circle cx="60.12" cy="32.14" r="1.34"/><circle cx="95.15" cy="35.41" r="1.46"/><circle cx="33.34" cy="47.78" r="1.22"/><circle cx="80.3" cy="21.8" r="1.47"/><circle cx="8.05" cy="37.57" r="1.07"/><circle cx="60.37" cy="62.01" r="1.3"/><circle cx="67.79" cy="67.89" r="0.98"/><circle cx="2.97" cy="50.87" r="1.45"/><circle cx="14.45" cy="22.8" r="1.07"/><circle cx="38.6" cy="33.83" r="1.4"/><circle cx="96.75" cy="21.37" r="0.84"/><circle cx="46.11" cy="74.86" r="0.94"/><circle cx="15.45" cy="26.03" r="1.29"/><circle cx="82.34" cy="65.06" r="1.29"/><circle cx="94.05" cy="61.87" r="0.94"/><circle cx="30.48" cy="38.23" r="1.29"/><circle cx="81.97" cy="34.95" r="1.16"/><circle cx="45.68" cy="64.34" r="0.94"/><circle cx="34.32" cy="52.49" r="1.3"/><circle cx="10.06" cy="3.06" r="1.18"/><circle cx="86.11" cy="74.91" r="1.07"/><circle cx="57.96" cy="49.96" r="0.95"/><circle cx="80.07" cy="63.25" r="1.08"/><circle cx="67.26" cy="63.23" r="1.22"/><circle cx="59.9" cy="52.87" r="1.27"/><circle cx="87.45" cy="35.86" r="1.32"/><circle cx="41.2" cy="26.47" r="1.1"/><circle cx="37.44" cy="16.61" r="1.12"/><circle cx="80.57" cy="37.93" r="1.13"/><circle cx="26.19" cy="32.36" r="1.19"/><circle cx="44.08" cy="64.28" r="1.47"/><circle cx="90.07" cy="55.52" r="1.3"/><circle cx="29.18" cy="59.23" r="1.19"/><circle cx="79.23" cy="28.85" r="0.84"/><circle cx="60.88" cy="19.28" r="1.26"/><circle cx="83.89" cy="23.56" r="1.13"/><circle cx="48.75" cy="16.09" r="1.34"/><circle cx="51.58" cy="27.47" r="0.92"/><circle cx="78.83" cy="19.36" r="0.91"/><circle cx="69.45" cy="17.26" r="1.31"/><circle cx="11.92" cy="27.87" r="1.34"/><circle cx="88.06" cy="62.02" r="1.38"/><circle cx="96.74" cy="72.81" r="0.89"/><circle cx="24.38" cy="36.31" r="0.87"/><circle cx="51.73" cy="56.28" r="1.06"/><circle cx="47.47" cy="28.59" r="1.33"/><circle cx="41.13" cy="27.76" r="1.36"/><circle cx="32.7" cy="34.63" r="1.15"/><circle cx="34.27" cy="23.91" r="1.22"/><circle cx="60.53" cy="49.65" r="1.33"/><circle cx="86.17" cy="29.99" r="1.43"/><circle cx="65.75" cy="20.07" r="1.06"/><circle cx="6.64" cy="52.75" r="0.85"/><circle cx="1.79" cy="28.32" r="1.12"/><circle cx="87.9" cy="39.03" r="1.23"/><circle cx="9.43" cy="24.56" r="1.27"/><circle cx="8.31" cy="21.79" r="1.34"/><circle cx="32.17" cy="26.57" r="1.33"/><circle cx="59.84" cy="17.13" r="1.3"/><circle cx="39.69" cy="57.2" r="0.88"/><circle cx="90.26" cy="35.22" r="1.2"/><circle cx="9.29" cy="35.27" r="1.42"/><circle cx="1.67" cy="62.2" r="1.18"/><circle cx="77.09" cy="47.91" r="0.95"/><circle cx="57.82" cy="39.97" r="1.05"/><circle cx="33.16" cy="70.39" r="1.37"/><circle cx="96.62" cy="69.29" r="1.12"/><circle cx="20.51" cy="16.53" r="1.02"/><circle cx="49.36" cy="14.56" r="0.99"/><circle cx="16.82" cy="13.56" r="1.41"/><circle cx="51.66" cy="69.57" r="1"/><circle cx="68.72" cy="55.15" r="0.88"/><circle cx="39.87" cy="28.13" r="1.33"/><circle cx="23.63" cy="74.19" r="1.3"/><circle cx="44.56" cy="61.42" r="1.29"/><circle cx="88.38" cy="51.54" r="1.01"/><circle cx="22.67" cy="49.09" r="1.29"/><circle cx="89.5" cy="50.26" r="0.83"/><circle cx="14.87" cy="18.28" r="0.86"/><circle cx="20.21" cy="14.77" r="1"/><circle cx="64.18" cy="56.17" r="1.19"/><circle cx="36.56" cy="44.28" r="1.42"/><circle cx="43.56" cy="23.56" r="1.03"/><circle cx="86.47" cy="30.62" r="1.15"/><circle cx="15.07" cy="74.18" r="1.33"/><circle cx="25.13" cy="31.26" r="0.92"/><circle cx="59.85" cy="34.57" r="1.24"/><circle cx="5.67" cy="29.15" r="1.29"/><circle cx="60.81" cy="65.17" r="1.01"/><circle cx="12.91" cy="23.26" r="1.09"/><circle cx="26.57" cy="19.42" r="1.09"/><circle cx="60.4" cy="68.98" r="0.96"/><circle cx="60.86" cy="17.75" r="1.41"/><circle cx="47.36" cy="44.73" r="1.19"/><circle cx="3.38" cy="45.36" r="1.35"/><circle cx="52.79" cy="73.87" r="1.35"/><circle cx="77.32" cy="69.58" r="1.08"/><circle cx="92.69" cy="17.95" r="1.15"/><circle cx="21.28" cy="54.11" r="1"/><circle cx="70.17" cy="62.55" r="1.47"/><circle cx="6.44" cy="52.47" r="1.3"/><circle cx="57.13" cy="19.94" r="1.41"/><circle cx="84.64" cy="67.7" r="1.41"/><circle cx="71.37" cy="37.97" r="1.12"/><circle cx="0.98" cy="28.56" r="0.92"/><circle cx="72.74" cy="20.68" r="1.14"/><circle cx="52.71" cy="58.46" r="0.91"/><circle cx="98.53" cy="29.8" r="1.1"/><circle cx="57.49" cy="54.34" r="1.05"/><circle cx="53.41" cy="31.5" r="1.11"/><circle cx="95.25" cy="73.61" r="0.97"/><circle cx="62.88" cy="49.78" r="1.49"/><circle cx="3.2" cy="60.55" r="0.88"/><circle cx="83.38" cy="20.4" r="1"/><circle cx="96.65" cy="70.99" r="1.35"/><circle cx="83.7" cy="65.18" r="1.22"/><circle cx="7.26" cy="31.41" r="0.98"/><circle cx="40.34" cy="51.08" r="1.25"/><circle cx="37.57" cy="56.39" r="0.83"/><circle cx="31.17" cy="52.37" r="0.92"/><circle cx="56.43" cy="26" r="1.44"/><circle cx="96.74" cy="52.34" r="1.01"/><circle cx="80.96" cy="73.37" r="1.47"/><circle cx="73.78" cy="29.35" r="1.2"/><circle cx="32.63" cy="38.54" r="1.15"/><circle cx="71.98" cy="38.75" r="1.24"/><circle cx="60.11" cy="37.73" r="1.06"/><circle cx="55.88" cy="55.13" r="0.89"/><circle cx="89.07" cy="73.41" r="1.14"/><circle cx="9.94" cy="58.13" r="1.31"/><circle cx="24.91" cy="2.19" r="1.06"/><circle cx="32.23" cy="21.86" r="1.48"/><circle cx="13.46" cy="59.88" r="0.96"/><circle cx="88.81" cy="66.01" r="1.48"/><circle cx="28.73" cy="67.94" r="1.35"/><circle cx="29.73" cy="18.54" r="1.17"/><circle cx="38.9" cy="0.34" r="1.32"/><circle cx="7.46" cy="57.88" r="1.49"/><circle cx="68.99" cy="26.82" r="0.94"/><circle cx="11.67" cy="55.43" r="1.11"/><circle cx="17.67" cy="34.43" r="1.03"/></g><g fill="#e82050" fill-opacity="0.45" filter="url(#b0_6)"><circle cx="20.53" cy="67.96" r="2.02"/><circle cx="86.95" cy="39.22" r="1.47"/><circle cx="74.26" cy="41.69" r="1.99"/><circle cx="45.16" cy="57.04" r="1.14"/><circle cx="33.22" cy="34.44" r="1.24"/><circle cx="20.68" cy="42.18" r="1.68"/><circle cx="7.62" cy="65.07" r="1.27"/><circle cx="64.45" cy="30.3" r="1.37"/><circle cx="92.11" cy="66.98" r="1.54"/><circle cx="51.56" cy="67.71" r="1.63"/><circle cx="61.55" cy="43.45" r="2.02"/><circle cx="14.1" cy="22" r="1.98"/><circle cx="35.17" cy="58.7" r="1.13"/><circle cx="22.34" cy="47.54" r="1.38"/><circle cx="35.86" cy="67.41" r="1.96"/><circle cx="29.21" cy="70.47" r="1.56"/><circle cx="99.29" cy="48.12" r="1.59"/><circle cx="39.42" cy="24.81" r="1.25"/><circle cx="77" cy="56.62" r="1.4"/><circle cx="64.79" cy="20.07" r="1.55"/><circle cx="85.43" cy="30.59" r="1.14"/><circle cx="96.29" cy="44.35" r="1.58"/><circle cx="0.69" cy="55.65" r="1.4"/><circle cx="7.72" cy="60.53" r="1.24"/><circle cx="28.57" cy="35.39" r="1.34"/><circle cx="8.48" cy="29.2" r="1.63"/><circle cx="85.31" cy="20.28" r="1.61"/><circle cx="50.42" cy="19.13" r="1.6"/><circle cx="82.37" cy="60.36" r="1.62"/><circle cx="75.95" cy="52.51" r="1.47"/><circle cx="11.85" cy="35.75" r="1.34"/><circle cx="88.83" cy="42.21" r="1.38"/><circle cx="72.45" cy="35.51" r="1.22"/><circle cx="55.9" cy="68.61" r="1.68"/><circle cx="32.47" cy="65.68" r="1.65"/><circle cx="6.78" cy="10.71" r="1.82"/><circle cx="90.13" cy="20.8" r="1.33"/><circle cx="94.87" cy="74.82" r="1.33"/><circle cx="55.74" cy="34.38" r="1.43"/><circle cx="85.42" cy="25.1" r="1.42"/><circle cx="95.65" cy="35.83" r="1.62"/><circle cx="83.74" cy="38.49" r="1.82"/><circle cx="23.26" cy="34.96" r="2"/><circle cx="96.97" cy="39.91" r="1.13"/><circle cx="5.64" cy="38.07" r="1.79"/><circle cx="32.64" cy="16.49" r="1.18"/><circle cx="96.57" cy="48.8" r="1.16"/><circle cx="22.4" cy="56.54" r="1.86"/><circle cx="2.06" cy="16.26" r="1.27"/><circle cx="4.63" cy="69.59" r="1.53"/><circle cx="13.11" cy="48.08" r="1.95"/><circle cx="34.17" cy="35.87" r="1.72"/><circle cx="78.98" cy="22" r="1.56"/><circle cx="54.55" cy="24.35" r="1.28"/><circle cx="71.13" cy="68.14" r="2.02"/><circle cx="10.42" cy="24.32" r="1.81"/><circle cx="19.96" cy="59.31" r="1.79"/><circle cx="60.26" cy="74.87" r="1.94"/><circle cx="54.74" cy="52.83" r="1.33"/><circle cx="7.14" cy="68.12" r="1.2"/></g><path d="M-5 52 Q50 28 105 42" fill="none" stroke="#8848e0" stroke-width="6" stroke-opacity="0.75" stroke-linecap="round" filter="url(#b2)"/><path d="M55 45 Q58 60 62 75" fill="none" stroke="#8040d0" stroke-width="1.2" stroke-opacity="0.6" stroke-linecap="round" filter="url(#b0_6)"/><path d="M20 55 Q20 65 21 75" fill="none" stroke="#8040d0" stroke-width="1" stroke-opacity="0.5" stroke-linecap="round" filter="url(#b0_6)"/><rect x="85" y="67.5" width="9" height="2.2" fill="#c8c8d0" fill-opacity="0.55"/></g></g>
<g clip-path="url(#c14)"><g transform="translate(108.9 208.6) scale(0.78 0.76)"><rect x="-2" y="-2" width="104" height="79" fill="url(#g14_1)"/><path d="M-5 12 Q50 -2 105 8" fill="none" stroke="#4040e0" stroke-width="2" stroke-opacity="0.6" stroke-linecap="round" filter="url(#b1)"/><g mask="url(#m14_2)" opacity="0.42"><rect x="0" y="0" width="100" height="75" filter="url(#n14_2)"/></g><g fill="#d02068" fill-opacity="0.65" filter="url(#b0_6)"><circle cx="6.71" cy="24.42" r="0.91"/><circle cx="75.27" cy="52.04" r="1.21"/><circle cx="45.1" cy="64.85" r="0.82"/><circle cx="56.67" cy="35.76" r="0.87"/><circle cx="69.53" cy="14.16" r="0.89"/><circle cx="26.69" cy="13.56" r="1.15"/><circle cx="3.04" cy="43.16" r="1.14"/><circle cx="40.74" cy="40.39" r="1.23"/><circle cx="68.28" cy="22.01" r="1.1"/><circle cx="53.46" cy="66.98" r="0.85"/><circle cx="41.11" cy="53.28" r="1.34"/><circle cx="1.34" cy="31.03" r="1.33"/><circle cx="50.58" cy="18.88" r="0.94"/><circle cx="69.66" cy="25.68" r="1.11"/><circle cx="77.13" cy="36.75" r="1.09"/><circle cx="87.35" cy="38.38" r="1.34"/><circle cx="3.74" cy="54.61" r="0.74"/><circle cx="21.89" cy="37.01" r="1.28"/><circle cx="35.52" cy="59.07" r="1.33"/><circle cx="97.71" cy="12.14" r="0.81"/><circle cx="33.55" cy="66.42" r="0.75"/><circle cx="0.48" cy="74.03" r="1.34"/><circle cx="34.06" cy="22.89" r="0.77"/><circle cx="75.65" cy="17.84" r="1.16"/><circle cx="60" cy="48.21" r="1.34"/><circle cx="4.01" cy="68.07" r="1.11"/><circle cx="54.4" cy="29.11" r="0.96"/><circle cx="64.03" cy="23.35" r="1.17"/><circle cx="54.95" cy="53.09" r="1.32"/><circle cx="1.49" cy="66.56" r="0.97"/><circle cx="66.59" cy="39.74" r="0.8"/><circle cx="2.65" cy="16.96" r="1.24"/><circle cx="1.39" cy="22.46" r="0.87"/><circle cx="26.47" cy="64.21" r="1.17"/><circle cx="76.43" cy="52.03" r="0.93"/><circle cx="52.51" cy="26.98" r="0.97"/><circle cx="5.73" cy="45.33" r="0.77"/><circle cx="55" cy="72.86" r="1.1"/><circle cx="79.14" cy="18.19" r="1.1"/><circle cx="11.2" cy="33.54" r="1.31"/><circle cx="73.76" cy="23.58" r="1.16"/><circle cx="34.81" cy="68.59" r="1.28"/><circle cx="69.91" cy="28.88" r="1.3"/><circle cx="72.18" cy="21.14" r="1.11"/><circle cx="76.08" cy="45.87" r="1.15"/><circle cx="70.83" cy="29.33" r="1.16"/><circle cx="37.3" cy="46.1" r="1"/><circle cx="85.72" cy="39.34" r="1.18"/><circle cx="83.85" cy="11.95" r="1.03"/><circle cx="83.19" cy="66.91" r="0.83"/><circle cx="63.98" cy="63.71" r="0.85"/><circle cx="4.77" cy="34.75" r="0.94"/><circle cx="74.84" cy="57.6" r="1.31"/><circle cx="30" cy="73.9" r="0.91"/><circle cx="85.26" cy="71.66" r="0.92"/><circle cx="2.37" cy="74.58" r="0.98"/><circle cx="58.61" cy="62.54" r="1.16"/><circle cx="85.56" cy="38.57" r="0.89"/><circle cx="0.24" cy="17.3" r="0.95"/><circle cx="24.7" cy="37.18" r="0.8"/><circle cx="1.77" cy="69.94" r="0.87"/><circle cx="29.62" cy="17.35" r="1.06"/><circle cx="72.34" cy="46.44" r="1.11"/><circle cx="3.09" cy="32.11" r="0.96"/><circle cx="15.13" cy="52.56" r="1.22"/><circle cx="7.92" cy="18.54" r="1.03"/><circle cx="10.96" cy="47.16" r="1.27"/><circle cx="97.45" cy="57.61" r="1.14"/><circle cx="26.46" cy="17.27" r="0.88"/><circle cx="93.25" cy="67.68" r="1.35"/><circle cx="18.05" cy="47.28" r="0.94"/><circle cx="78.58" cy="36.51" r="1.25"/><circle cx="50.1" cy="58.04" r="1"/><circle cx="99.06" cy="55.64" r="1.08"/><circle cx="78.48" cy="9.44" r="1.25"/><circle cx="88.98" cy="51.15" r="1.31"/><circle cx="90.81" cy="68.34" r="0.76"/><circle cx="36.96" cy="63.85" r="0.82"/><circle cx="23.81" cy="30.12" r="1.18"/><circle cx="49.59" cy="70.36" r="1.01"/><circle cx="17.26" cy="43.8" r="1.22"/><circle cx="49.65" cy="40.33" r="0.99"/><circle cx="98.97" cy="71.22" r="0.78"/><circle cx="10.83" cy="41.46" r="1.07"/><circle cx="79.9" cy="70.82" r="1.21"/><circle cx="60.08" cy="41.41" r="0.92"/><circle cx="96.73" cy="57.12" r="0.76"/><circle cx="79.84" cy="24.26" r="0.99"/><circle cx="75.82" cy="15.56" r="0.78"/><circle cx="74.9" cy="16.7" r="0.9"/><circle cx="4.69" cy="15.12" r="0.75"/><circle cx="5.24" cy="33.78" r="1"/><circle cx="82.53" cy="32.7" r="1.1"/><circle cx="70.94" cy="69.27" r="1.36"/><circle cx="87.28" cy="36.2" r="0.86"/><circle cx="63.65" cy="38.3" r="0.85"/><circle cx="54.88" cy="39.47" r="0.75"/><circle cx="67.6" cy="67.15" r="0.81"/><circle cx="95.26" cy="25.67" r="0.9"/><circle cx="30.68" cy="49.18" r="1.15"/><circle cx="63.8" cy="52.11" r="1.25"/><circle cx="2.07" cy="24.02" r="1.31"/><circle cx="80.21" cy="73.11" r="0.96"/><circle cx="78.56" cy="41.95" r="1.36"/><circle cx="77.06" cy="14.89" r="1.07"/><circle cx="84" cy="25.23" r="0.86"/><circle cx="4.83" cy="18.54" r="1.18"/><circle cx="69.38" cy="32.91" r="1.18"/><circle cx="2.22" cy="30.57" r="0.89"/><circle cx="25.7" cy="21.86" r="1.36"/><circle cx="26.05" cy="41.66" r="1.03"/><circle cx="46.6" cy="27.41" r="1.26"/><circle cx="79.47" cy="69.06" r="1.14"/><circle cx="52.19" cy="74.12" r="0.95"/><circle cx="53.71" cy="42.87" r="0.92"/><circle cx="71.8" cy="60.6" r="0.86"/><circle cx="40.34" cy="65.31" r="0.95"/><circle cx="32.57" cy="41.77" r="0.76"/><circle cx="31.96" cy="25.95" r="0.75"/><circle cx="13.39" cy="25.97" r="0.79"/><circle cx="1.38" cy="23.3" r="0.77"/><circle cx="80.33" cy="57.74" r="1.07"/><circle cx="22.73" cy="72.33" r="1.03"/><circle cx="12.44" cy="59.6" r="0.77"/><circle cx="12.82" cy="73.06" r="1.14"/><circle cx="60.31" cy="21.65" r="1.1"/><circle cx="19.49" cy="34.47" r="1.35"/><circle cx="80.07" cy="22.77" r="0.87"/><circle cx="12.13" cy="32.09" r="0.88"/><circle cx="78.71" cy="56" r="1.18"/><circle cx="61.35" cy="20.26" r="1.07"/><circle cx="64.55" cy="67.06" r="1.1"/><circle cx="30.94" cy="26.96" r="0.9"/><circle cx="64.45" cy="64.56" r="1.25"/><circle cx="69.52" cy="66.21" r="1.36"/><circle cx="74.96" cy="67.42" r="0.79"/><circle cx="19.33" cy="71.64" r="1.3"/><circle cx="21.77" cy="58.89" r="1.3"/><circle cx="5.59" cy="52.08" r="1.23"/><circle cx="65.14" cy="6.5" r="1.02"/><circle cx="64.25" cy="30.43" r="1.23"/><circle cx="37.37" cy="51.52" r="0.93"/><circle cx="99.98" cy="56.18" r="1.28"/><circle cx="25.71" cy="72.65" r="1.01"/><circle cx="52.68" cy="23.71" r="1.06"/><circle cx="41.97" cy="6.82" r="1.06"/><circle cx="50.06" cy="38.61" r="0.78"/><circle cx="80.08" cy="47.07" r="1.26"/><circle cx="67.79" cy="48.02" r="0.98"/><circle cx="94.15" cy="13.42" r="1.06"/><circle cx="34.21" cy="46.8" r="1.09"/><circle cx="86.01" cy="63.26" r="0.88"/><circle cx="15.21" cy="55.65" r="1.01"/><circle cx="46.57" cy="72" r="1.13"/><circle cx="45.38" cy="67.31" r="1.06"/><circle cx="70.87" cy="57.13" r="1.26"/><circle cx="19.08" cy="42.58" r="0.82"/><circle cx="64.75" cy="60.4" r="1.07"/><circle cx="48.08" cy="19.02" r="1.33"/><circle cx="33.02" cy="74.92" r="1.02"/><circle cx="47.22" cy="57.74" r="1.19"/><circle cx="36.87" cy="25.14" r="0.74"/><circle cx="74.98" cy="30.77" r="0.78"/><circle cx="75.13" cy="32.68" r="0.86"/><circle cx="96.13" cy="70.7" r="0.9"/><circle cx="11.81" cy="33.62" r="1.08"/><circle cx="41.22" cy="15.81" r="0.89"/><circle cx="93.38" cy="20.56" r="1.24"/><circle cx="12.21" cy="42.94" r="1.02"/><circle cx="2.28" cy="28.53" r="0.89"/></g><g fill="#e02878" fill-opacity="0.4" filter="url(#b0_6)"><circle cx="49.63" cy="70.06" r="1.45"/><circle cx="65.93" cy="14" r="1.48"/><circle cx="24.72" cy="45.59" r="1.59"/><circle cx="66.17" cy="54.03" r="1.38"/><circle cx="43.15" cy="48.86" r="1.55"/><circle cx="0.03" cy="74.95" r="1.7"/><circle cx="45.79" cy="19.19" r="1.59"/><circle cx="6.7" cy="61.64" r="1.33"/><circle cx="49.22" cy="21.56" r="1.42"/><circle cx="47.52" cy="16.21" r="1.24"/><circle cx="83.71" cy="20.38" r="1.85"/><circle cx="48.6" cy="22.6" r="1.26"/><circle cx="8.15" cy="19.84" r="1.45"/><circle cx="10.65" cy="39.08" r="1.47"/><circle cx="92.05" cy="54.01" r="1.85"/><circle cx="83.83" cy="60.8" r="1.58"/><circle cx="12.63" cy="73.15" r="1.52"/><circle cx="96.62" cy="72.08" r="1.25"/><circle cx="31.16" cy="32.54" r="1.68"/><circle cx="40.55" cy="44.8" r="1.28"/><circle cx="21.41" cy="18.9" r="1.59"/><circle cx="86.79" cy="20.51" r="1.29"/><circle cx="43.42" cy="50.09" r="1.92"/><circle cx="41.32" cy="48.41" r="1.67"/><circle cx="48.91" cy="26.49" r="1.73"/><circle cx="85.76" cy="49.3" r="1.16"/><circle cx="71.83" cy="32.07" r="1.76"/><circle cx="25.07" cy="33.32" r="1.69"/><circle cx="62.17" cy="37.91" r="1.8"/><circle cx="97.34" cy="15.34" r="1.39"/><circle cx="80.4" cy="39.98" r="1.92"/><circle cx="56.58" cy="24.15" r="1.56"/><circle cx="50.34" cy="66.49" r="1.48"/><circle cx="4.01" cy="49.12" r="1.26"/><circle cx="32.53" cy="15.91" r="1.6"/><circle cx="36.97" cy="57.14" r="1.49"/><circle cx="57" cy="25.35" r="1.64"/><circle cx="49.68" cy="54.64" r="1.44"/><circle cx="18.71" cy="16.4" r="1.25"/><circle cx="61.2" cy="30.93" r="1.3"/></g><path d="M-5 52 Q40 38 105 38" fill="none" stroke="#5040e0" stroke-width="5" stroke-opacity="0.7" stroke-linecap="round" filter="url(#b1_5)"/><path d="M88 50 Q80 58 82 70" fill="none" stroke="#f050b0" stroke-width="1.3" stroke-opacity="0.8" stroke-linecap="round" filter="url(#b0_5)"/><rect x="85" y="67.5" width="9" height="2.2" fill="#c8c8d0" fill-opacity="0.55"/></g></g>
<g clip-path="url(#c15)"><g transform="translate(190 208.6) scale(0.76 0.76)"><rect x="-2" y="-2" width="104" height="79" fill="url(#g15_1)"/><g mask="url(#m15_2)" opacity="0.36"><rect x="0" y="0" width="100" height="75" filter="url(#n15_2)"/></g><g fill="#d82070" fill-opacity="0.6" filter="url(#b0_6)"><circle cx="76.39" cy="48.36" r="0.86"/><circle cx="67.67" cy="72.7" r="1.27"/><circle cx="3.61" cy="39.58" r="1.05"/><circle cx="61.13" cy="64.19" r="1.28"/><circle cx="71.52" cy="53.1" r="0.89"/><circle cx="25.43" cy="35.37" r="0.91"/><circle cx="4.59" cy="67.35" r="1.22"/><circle cx="3.87" cy="19.55" r="1.31"/><circle cx="79.1" cy="14.85" r="0.93"/><circle cx="65.01" cy="14.39" r="1.28"/><circle cx="99.76" cy="18.18" r="0.77"/><circle cx="19.46" cy="28.8" r="1.1"/><circle cx="34.89" cy="25.88" r="1.1"/><circle cx="1.51" cy="71.78" r="0.98"/><circle cx="16.89" cy="64.8" r="1.34"/><circle cx="30.23" cy="49.04" r="0.82"/><circle cx="18.51" cy="41.78" r="0.77"/><circle cx="1.55" cy="26.02" r="1.03"/><circle cx="60.41" cy="1.98" r="1.09"/><circle cx="15.68" cy="0.96" r="1.15"/><circle cx="95.99" cy="37.22" r="0.86"/><circle cx="68.13" cy="59.45" r="1.03"/><circle cx="3.63" cy="40.52" r="1.05"/><circle cx="78.53" cy="17.57" r="1.03"/><circle cx="62" cy="17.56" r="0.75"/><circle cx="41.8" cy="70.59" r="1.05"/><circle cx="87.11" cy="52.02" r="0.97"/><circle cx="87.38" cy="42.32" r="0.97"/><circle cx="15.28" cy="14.29" r="1.07"/><circle cx="77.46" cy="33.68" r="1.08"/><circle cx="25.13" cy="72.12" r="0.92"/><circle cx="49.16" cy="63.06" r="1.18"/><circle cx="87.74" cy="60.5" r="1"/><circle cx="55.23" cy="59.03" r="1.35"/><circle cx="73.87" cy="43.41" r="1.32"/><circle cx="68.35" cy="47.55" r="0.86"/><circle cx="19.63" cy="68.87" r="1.18"/><circle cx="69.17" cy="60.92" r="0.86"/><circle cx="76.64" cy="30.4" r="0.78"/><circle cx="4.94" cy="42.89" r="1.16"/><circle cx="12.58" cy="21.31" r="0.94"/><circle cx="69.42" cy="19.55" r="1.15"/><circle cx="41.25" cy="52.83" r="1.31"/><circle cx="74.14" cy="21.42" r="1.13"/><circle cx="86.41" cy="53.25" r="1.08"/><circle cx="34.45" cy="55.14" r="1.07"/><circle cx="71.61" cy="45.37" r="0.86"/><circle cx="77.52" cy="28.57" r="1.34"/><circle cx="59.05" cy="40.55" r="1.21"/><circle cx="36.84" cy="53.72" r="1.26"/><circle cx="22.08" cy="69.64" r="0.85"/><circle cx="4.36" cy="18.59" r="1.04"/><circle cx="0.45" cy="71.16" r="1.26"/><circle cx="49.66" cy="59.93" r="1.17"/><circle cx="37.77" cy="38.89" r="0.9"/><circle cx="2.24" cy="27.38" r="1.19"/><circle cx="6.23" cy="25.68" r="1.06"/><circle cx="51.02" cy="62.81" r="1.14"/><circle cx="11.82" cy="46.24" r="1.29"/><circle cx="83.83" cy="41.11" r="1.15"/><circle cx="29.86" cy="36.34" r="0.94"/><circle cx="36.58" cy="71.77" r="1.04"/><circle cx="59.07" cy="39.32" r="1.03"/><circle cx="62.59" cy="65.71" r="1.22"/><circle cx="13.24" cy="66.07" r="1.23"/><circle cx="85.89" cy="3.33" r="1"/><circle cx="6.54" cy="68.33" r="0.88"/><circle cx="35.18" cy="40.17" r="0.78"/><circle cx="25.48" cy="28.57" r="0.92"/><circle cx="42.16" cy="15.57" r="1"/><circle cx="94.42" cy="17.99" r="1.22"/><circle cx="14.67" cy="38.26" r="0.84"/><circle cx="33" cy="59.88" r="0.89"/><circle cx="59.1" cy="74.63" r="1.19"/><circle cx="13.41" cy="19.42" r="1.1"/><circle cx="65.55" cy="53.4" r="1.11"/><circle cx="19.01" cy="19.86" r="1.35"/><circle cx="9.26" cy="63.65" r="1.27"/><circle cx="43.82" cy="70.67" r="1.22"/><circle cx="4.91" cy="50.72" r="1.12"/><circle cx="31" cy="35.43" r="0.81"/><circle cx="46.9" cy="31.65" r="1.33"/><circle cx="27.15" cy="27.2" r="0.94"/><circle cx="94.6" cy="64.59" r="1.26"/><circle cx="83.93" cy="64.88" r="0.74"/><circle cx="11.48" cy="42.55" r="1.11"/><circle cx="75.22" cy="48.51" r="0.99"/><circle cx="56.69" cy="16.84" r="0.8"/><circle cx="16.11" cy="22.73" r="1.11"/><circle cx="71" cy="43.08" r="1.28"/><circle cx="52.84" cy="36.49" r="1.2"/><circle cx="5.05" cy="60.25" r="1.36"/><circle cx="84.87" cy="38.46" r="0.98"/><circle cx="29.91" cy="69.7" r="1.19"/><circle cx="64.01" cy="55.9" r="0.83"/><circle cx="49.07" cy="38.67" r="1.35"/><circle cx="44.67" cy="52.6" r="0.8"/><circle cx="96.86" cy="31.14" r="1.28"/><circle cx="29.93" cy="44.9" r="1.18"/><circle cx="26.77" cy="14.27" r="0.96"/><circle cx="95.96" cy="31.54" r="1.36"/><circle cx="15.89" cy="29.57" r="0.96"/><circle cx="77.14" cy="58.36" r="0.8"/><circle cx="35.88" cy="65.79" r="0.85"/><circle cx="77.36" cy="15.47" r="1.24"/><circle cx="77.14" cy="53.54" r="1.1"/><circle cx="59.65" cy="20.52" r="1.3"/><circle cx="92.69" cy="38.54" r="1.34"/><circle cx="55.5" cy="31.45" r="0.78"/><circle cx="86.17" cy="74.79" r="1.24"/><circle cx="53.96" cy="46.16" r="1.02"/><circle cx="76.86" cy="71.48" r="1.24"/><circle cx="66.27" cy="16.2" r="0.86"/><circle cx="51.42" cy="60.26" r="0.75"/><circle cx="7.72" cy="50.31" r="1.11"/><circle cx="27" cy="15.04" r="0.89"/><circle cx="43.4" cy="55.02" r="1.22"/><circle cx="22.84" cy="63.98" r="1.2"/><circle cx="91.95" cy="71.32" r="0.85"/><circle cx="84.63" cy="28.52" r="0.88"/><circle cx="86.46" cy="71.75" r="1.22"/><circle cx="55.41" cy="39.06" r="1.05"/><circle cx="36.18" cy="1.7" r="0.96"/><circle cx="98.83" cy="55.88" r="1.12"/><circle cx="96.12" cy="36.4" r="1.25"/><circle cx="68.46" cy="62.12" r="1.34"/><circle cx="77.32" cy="18.27" r="0.88"/><circle cx="42.77" cy="21.27" r="0.91"/><circle cx="65.61" cy="19.11" r="0.8"/><circle cx="59.2" cy="71.04" r="0.95"/><circle cx="85.55" cy="62.25" r="1.3"/><circle cx="32.96" cy="45.42" r="1.33"/><circle cx="56.96" cy="20.64" r="1.31"/><circle cx="3.71" cy="22.93" r="1.11"/><circle cx="96.64" cy="39.35" r="0.77"/><circle cx="62.79" cy="41.8" r="0.88"/><circle cx="8" cy="69.36" r="1.01"/><circle cx="73.28" cy="69.52" r="0.75"/><circle cx="18.58" cy="57.72" r="0.93"/><circle cx="6.13" cy="24.43" r="1.31"/><circle cx="4.25" cy="24.13" r="0.83"/><circle cx="33.57" cy="58.61" r="0.81"/><circle cx="96.49" cy="32.27" r="1.17"/><circle cx="35.09" cy="45.49" r="0.96"/><circle cx="73.8" cy="54.36" r="1.19"/><circle cx="30.4" cy="17.38" r="0.93"/><circle cx="56.42" cy="9.26" r="0.98"/><circle cx="38.22" cy="30.66" r="0.86"/><circle cx="71.07" cy="32.56" r="1.35"/><circle cx="40.55" cy="37.11" r="0.82"/></g><g fill="#f03080" fill-opacity="0.45" filter="url(#b0_6)"><circle cx="41.59" cy="30.43" r="1.85"/><circle cx="17.16" cy="51.83" r="1.79"/><circle cx="62.39" cy="20.3" r="1.54"/><circle cx="0.67" cy="34.65" r="1.37"/><circle cx="9.96" cy="61.15" r="1.4"/><circle cx="75.79" cy="62.59" r="1.85"/><circle cx="12.73" cy="36.88" r="1.69"/><circle cx="86.56" cy="73.51" r="1.07"/><circle cx="68.03" cy="32.76" r="1.88"/><circle cx="53.19" cy="61.46" r="1.94"/><circle cx="96.53" cy="27.05" r="1.84"/><circle cx="94.39" cy="23.97" r="1.55"/><circle cx="7.21" cy="62.34" r="1.72"/><circle cx="55.56" cy="20.83" r="1.38"/><circle cx="26.03" cy="29.25" r="1.68"/><circle cx="85.26" cy="42.65" r="1.08"/><circle cx="85.42" cy="31.48" r="1.76"/><circle cx="96.68" cy="52.18" r="1.38"/><circle cx="10.4" cy="72.07" r="1.05"/><circle cx="42.78" cy="65.59" r="1.47"/><circle cx="27.71" cy="68.7" r="1.92"/><circle cx="65.98" cy="54.24" r="1.65"/><circle cx="36.45" cy="33.52" r="1.4"/><circle cx="16.65" cy="49.33" r="1.08"/><circle cx="40.65" cy="29.23" r="1.83"/><circle cx="56.41" cy="37.83" r="1.32"/><circle cx="26.58" cy="16.56" r="1.45"/><circle cx="31.87" cy="47.98" r="1.09"/><circle cx="28.84" cy="70.92" r="1.38"/><circle cx="50.34" cy="37.99" r="1.46"/></g><path d="M-5 56 Q50 36 105 40" fill="none" stroke="#4a3ae0" stroke-width="7" stroke-opacity="0.75" stroke-linecap="round" filter="url(#b2_5)"/><rect x="85" y="67.5" width="9" height="2.2" fill="#c8c8d0" fill-opacity="0.55"/></g></g>
<g clip-path="url(#c16)"><g transform="translate(269 208.6) scale(0.76 0.76)"><rect x="-2" y="-2" width="104" height="79" fill="url(#g16_1)"/><g mask="url(#m16_2)" opacity="0.36"><rect x="0" y="0" width="100" height="75" filter="url(#n16_2)"/></g><path d="M-0.02 11.79q6.6 -1.86 13.21 -0.86M75.77 8.32q7.97 -0.66 15.94 0.34M69.56 10.85q5.06 -2.21 10.13 -1.21M88.76 1.64q6.34 0.47 12.68 1.47M28.56 3.66q5.29 -1.89 10.59 -0.89M72.48 4.17q3.44 -0.71 6.88 0.29M18.51 2.51q3.1 0.02 6.2 1.02M31.55 8.4q5.88 0.11 11.77 1.11M-2.6 8.88q7.98 -1.65 15.96 -0.65M37.71 4.71q4.94 0.34 9.89 1.34M15.15 10.33q3.27 -0.16 6.53 0.84M-1.15 11.05q3.4 -1.85 6.79 -0.85M19.02 3.94q7.66 -0.99 15.32 0.01M-4.96 2.56q5.51 -0.37 11.03 0.63" fill="none" stroke="#000640" stroke-width="1.2" stroke-opacity="0.42" filter="url(#b0_6)"/><g fill="#d81040" fill-opacity="0.75" filter="url(#b0_6)"><circle cx="64.07" cy="36" r="1.46"/><circle cx="94.95" cy="74.36" r="1.49"/><circle cx="71.64" cy="51.93" r="1.07"/><circle cx="83.71" cy="28.64" r="1.11"/><circle cx="2.21" cy="63.57" r="0.81"/><circle cx="81.8" cy="59.58" r="1.13"/><circle cx="16.77" cy="16.28" r="1.27"/><circle cx="55.72" cy="18.04" r="1.48"/><circle cx="99.79" cy="70.52" r="0.86"/><circle cx="22.07" cy="41.47" r="1.29"/><circle cx="10.82" cy="68.69" r="1.1"/><circle cx="77" cy="30.7" r="0.82"/><circle cx="7.61" cy="69.75" r="1.35"/><circle cx="37.14" cy="29.43" r="1.42"/><circle cx="25.23" cy="57.47" r="1.01"/><circle cx="8.85" cy="52.18" r="1.24"/><circle cx="64.43" cy="18.65" r="0.88"/><circle cx="25.04" cy="42.46" r="1"/><circle cx="59.1" cy="8.63" r="1.1"/><circle cx="57.69" cy="66.22" r="1.45"/><circle cx="76.66" cy="72.86" r="1.1"/><circle cx="63.63" cy="51.73" r="0.92"/><circle cx="32.35" cy="40.61" r="1.05"/><circle cx="14.47" cy="70.16" r="1.2"/><circle cx="13.92" cy="33.82" r="1.38"/><circle cx="80.95" cy="28.42" r="1.43"/><circle cx="30.09" cy="19.83" r="1.15"/><circle cx="43.67" cy="31.81" r="1.3"/><circle cx="44.91" cy="70.47" r="1"/><circle cx="47.7" cy="20.04" r="1.13"/><circle cx="58.03" cy="40.86" r="1.06"/><circle cx="98.81" cy="16.61" r="1.33"/><circle cx="58.44" cy="50.73" r="1.23"/><circle cx="4.59" cy="19.22" r="1.49"/><circle cx="89.73" cy="7.22" r="0.95"/><circle cx="99.78" cy="19.34" r="1.26"/><circle cx="41.91" cy="25.36" r="1.36"/><circle cx="95.45" cy="64.14" r="1.31"/><circle cx="90.55" cy="62.39" r="0.81"/><circle cx="45.4" cy="71.06" r="1.01"/><circle cx="95.07" cy="60.73" r="0.93"/><circle cx="13.29" cy="26.39" r="1.15"/><circle cx="61.14" cy="73.09" r="0.87"/><circle cx="58.72" cy="51.99" r="1.06"/><circle cx="5.06" cy="34.45" r="1.47"/><circle cx="58.31" cy="64.77" r="1.47"/><circle cx="99.08" cy="47.93" r="1.34"/><circle cx="70.28" cy="55.47" r="1.04"/><circle cx="86.55" cy="19.13" r="0.97"/><circle cx="64.83" cy="34.9" r="1.02"/><circle cx="17.81" cy="0.62" r="0.98"/><circle cx="83.25" cy="74.9" r="1.44"/><circle cx="8.59" cy="59.1" r="0.88"/><circle cx="30.94" cy="69.72" r="1.22"/><circle cx="73.5" cy="65.03" r="1.41"/><circle cx="82.5" cy="49.85" r="1.4"/><circle cx="5.27" cy="19.75" r="1.23"/><circle cx="10.69" cy="58.5" r="0.84"/><circle cx="30.67" cy="64.45" r="1.29"/><circle cx="60.67" cy="23.49" r="1.18"/><circle cx="82.07" cy="64.11" r="0.93"/><circle cx="12.05" cy="37.21" r="1.19"/><circle cx="82.37" cy="73.04" r="0.99"/><circle cx="50.31" cy="56.47" r="1.27"/><circle cx="83.49" cy="29.39" r="1.25"/><circle cx="58.47" cy="25.84" r="1.16"/><circle cx="2.88" cy="66.31" r="0.86"/><circle cx="61.24" cy="33.56" r="1.13"/><circle cx="75.57" cy="32.85" r="1.4"/><circle cx="14.18" cy="56.57" r="0.89"/><circle cx="48.64" cy="38.81" r="1.35"/><circle cx="24.59" cy="26.24" r="1.37"/><circle cx="38.66" cy="40.83" r="1.11"/><circle cx="57.72" cy="66.28" r="1.27"/><circle cx="42.73" cy="70.42" r="1.37"/><circle cx="57.01" cy="61.95" r="1.21"/><circle cx="79.38" cy="2.02" r="1.05"/><circle cx="81.12" cy="6.96" r="0.83"/><circle cx="89.81" cy="52.16" r="1.04"/><circle cx="11.49" cy="23.55" r="1.32"/><circle cx="26.43" cy="67.65" r="0.91"/><circle cx="56.59" cy="22.7" r="1.03"/><circle cx="77.65" cy="36.47" r="1.32"/><circle cx="64.98" cy="74.9" r="1.22"/><circle cx="90.85" cy="40.65" r="0.99"/><circle cx="71.2" cy="61.51" r="1.31"/><circle cx="85.79" cy="56.07" r="1.34"/><circle cx="22.89" cy="68.53" r="0.87"/><circle cx="14.86" cy="15.58" r="1.22"/><circle cx="8.82" cy="36.47" r="1.46"/><circle cx="47.37" cy="61.63" r="0.93"/><circle cx="90.83" cy="40.24" r="1.49"/><circle cx="90.02" cy="60.51" r="1.38"/><circle cx="1.95" cy="34.53" r="1.12"/><circle cx="16.05" cy="72.92" r="1.39"/><circle cx="88.41" cy="46.18" r="0.83"/><circle cx="1.47" cy="45.14" r="1.44"/><circle cx="91" cy="28.11" r="0.99"/><circle cx="76.92" cy="16.42" r="1.31"/><circle cx="95.23" cy="12.46" r="0.82"/><circle cx="48.23" cy="17.24" r="1.36"/><circle cx="50.7" cy="72.61" r="1.01"/><circle cx="78.77" cy="24.92" r="0.92"/><circle cx="81.51" cy="37.82" r="1.45"/><circle cx="94.88" cy="74.68" r="1.31"/><circle cx="83.05" cy="31.67" r="1.31"/><circle cx="14.08" cy="47.92" r="1.48"/><circle cx="61.98" cy="24.72" r="1.47"/><circle cx="21.82" cy="47.96" r="0.91"/><circle cx="5.67" cy="64.66" r="0.88"/><circle cx="25.48" cy="41.78" r="0.91"/><circle cx="85.02" cy="31.18" r="1.48"/><circle cx="31.72" cy="54.07" r="1.38"/><circle cx="33.01" cy="59.61" r="1.44"/><circle cx="18.77" cy="26.74" r="0.83"/><circle cx="14.1" cy="66.79" r="0.94"/><circle cx="32.41" cy="24.06" r="0.89"/><circle cx="54.7" cy="36.78" r="1.39"/><circle cx="53.48" cy="44.75" r="1.17"/><circle cx="81.58" cy="49.24" r="1.44"/><circle cx="87.55" cy="54.55" r="0.99"/><circle cx="48.45" cy="17.48" r="1.11"/><circle cx="74.34" cy="45.14" r="1.04"/><circle cx="41.17" cy="49.12" r="1.42"/><circle cx="51.5" cy="48.77" r="0.82"/><circle cx="33.29" cy="18.55" r="1.36"/><circle cx="85.93" cy="43.47" r="1.24"/><circle cx="26.56" cy="57.1" r="1.22"/><circle cx="0.03" cy="53.01" r="1.05"/><circle cx="68.19" cy="69.2" r="1.45"/><circle cx="39.48" cy="16.44" r="1.07"/><circle cx="11.87" cy="46.69" r="1.24"/><circle cx="84.97" cy="51.27" r="1.16"/><circle cx="47" cy="65.75" r="1.12"/><circle cx="21.03" cy="48.17" r="1.29"/><circle cx="58.69" cy="66.34" r="1.48"/><circle cx="54.87" cy="43.82" r="0.85"/><circle cx="28.49" cy="22.25" r="1.12"/><circle cx="61.87" cy="31.94" r="1.01"/><circle cx="24.63" cy="23.38" r="1.38"/><circle cx="60.04" cy="56.68" r="0.86"/><circle cx="49.31" cy="33.38" r="1.13"/><circle cx="89.8" cy="29.81" r="0.95"/><circle cx="81.58" cy="31.48" r="1.06"/><circle cx="56.58" cy="32.12" r="1.06"/><circle cx="55.41" cy="12.54" r="1.03"/><circle cx="50.44" cy="16.33" r="1.13"/><circle cx="58.69" cy="46.64" r="0.87"/><circle cx="84.05" cy="43.2" r="1.15"/><circle cx="72.25" cy="23.3" r="0.85"/><circle cx="35.55" cy="34.09" r="1.19"/><circle cx="22.81" cy="58.54" r="1.44"/><circle cx="46.23" cy="53.95" r="1.32"/><circle cx="69.06" cy="16.87" r="0.83"/><circle cx="75.97" cy="20.43" r="0.9"/><circle cx="10.19" cy="60.93" r="0.81"/><circle cx="7.21" cy="66.77" r="1.32"/><circle cx="32.52" cy="70.09" r="0.92"/><circle cx="10.7" cy="35.17" r="0.93"/><circle cx="96.77" cy="74.53" r="0.98"/><circle cx="21.36" cy="64.27" r="1.45"/><circle cx="81.64" cy="35.9" r="1.13"/><circle cx="31.85" cy="61.92" r="1.24"/><circle cx="38.75" cy="16.9" r="1.46"/><circle cx="22.8" cy="48.98" r="1.25"/><circle cx="24.17" cy="23.72" r="1.09"/><circle cx="37.93" cy="52.33" r="1.15"/><circle cx="74.77" cy="64.47" r="1.46"/><circle cx="88.91" cy="52.3" r="1.2"/><circle cx="73.69" cy="74.72" r="0.98"/><circle cx="15.77" cy="67.79" r="1.07"/><circle cx="28.84" cy="52.28" r="0.82"/><circle cx="32.56" cy="32.48" r="1.35"/><circle cx="11.26" cy="57.38" r="0.92"/><circle cx="43.12" cy="26.38" r="0.93"/><circle cx="95.93" cy="20.91" r="1.12"/><circle cx="27.48" cy="39.03" r="1.19"/><circle cx="35.57" cy="63.09" r="0.99"/><circle cx="3.31" cy="73.89" r="0.94"/><circle cx="51.15" cy="23.51" r="0.89"/></g><g fill="#e82050" fill-opacity="0.45" filter="url(#b0_6)"><circle cx="19.92" cy="61.7" r="1.32"/><circle cx="42.4" cy="30.6" r="1.84"/><circle cx="3.55" cy="21.34" r="1.65"/><circle cx="65.67" cy="26.31" r="1.41"/><circle cx="28.57" cy="48.49" r="1.29"/><circle cx="83.14" cy="57.69" r="2"/><circle cx="51.18" cy="31.07" r="1.29"/><circle cx="2.3" cy="19.84" r="1.64"/><circle cx="60.92" cy="19.93" r="1.87"/><circle cx="30.57" cy="43.2" r="1.54"/><circle cx="8.65" cy="55.96" r="1.13"/><circle cx="56.89" cy="37.58" r="1.91"/><circle cx="65.76" cy="54.64" r="1.23"/><circle cx="78.3" cy="51.29" r="1.97"/><circle cx="37.08" cy="36.62" r="1.67"/><circle cx="76.25" cy="70.1" r="2.06"/><circle cx="25.24" cy="48.83" r="2.08"/><circle cx="8.33" cy="61.42" r="1.95"/><circle cx="53.14" cy="42.49" r="1.29"/><circle cx="11.36" cy="71.05" r="1.84"/><circle cx="59.21" cy="44.83" r="1.36"/><circle cx="97.79" cy="67.02" r="1.49"/><circle cx="84.29" cy="40.25" r="2.06"/><circle cx="17.04" cy="56.5" r="1.42"/><circle cx="43.71" cy="38.77" r="1.4"/><circle cx="68.32" cy="55.99" r="1.8"/><circle cx="80.19" cy="27.52" r="1.85"/><circle cx="78.31" cy="67.21" r="1.84"/><circle cx="32.65" cy="66.75" r="1.25"/><circle cx="7.24" cy="50.35" r="2.06"/><circle cx="8.24" cy="52.04" r="1.16"/><circle cx="29.51" cy="20.69" r="1.19"/><circle cx="40.3" cy="68.83" r="1.28"/><circle cx="52.77" cy="57.03" r="1.48"/><circle cx="79.88" cy="48.52" r="2"/><circle cx="10.62" cy="42.2" r="1.29"/><circle cx="54.96" cy="37.6" r="1.84"/><circle cx="99.15" cy="71.75" r="1.79"/><circle cx="96.81" cy="54.09" r="1.73"/><circle cx="23.68" cy="36.95" r="1.28"/><circle cx="42.74" cy="70.7" r="1.25"/><circle cx="35.25" cy="20.73" r="1.49"/><circle cx="52.96" cy="32.13" r="1.93"/><circle cx="89.7" cy="71.78" r="1.54"/><circle cx="4.39" cy="25.6" r="1.76"/><circle cx="23.4" cy="28.28" r="2.06"/><circle cx="50.86" cy="43.05" r="1.65"/><circle cx="18.13" cy="71.82" r="1.75"/><circle cx="37.46" cy="24.81" r="1.89"/><circle cx="49.97" cy="24.47" r="1.44"/></g><path d="M-10 10 Q50 -20 110 10" fill="none" stroke="#2020c0" stroke-width="22" stroke-opacity="0.6" stroke-linecap="round" filter="url(#b5)"/><g mask="url(#m16_3)" opacity="0.54"><rect x="0" y="0" width="100" height="75" filter="url(#n16_3)"/></g><path d="M-5 58 C20 30 70 25 105 52" fill="none" stroke="#6a48e8" stroke-width="6" stroke-opacity="0.8" stroke-linecap="round" filter="url(#b1_5)"/><rect x="85" y="67.5" width="9" height="2.2" fill="#c8c8d0" fill-opacity="0.55"/></g></g>
<g clip-path="url(#c17)"><g transform="translate(29 267.4) scale(0.77 0.77)"><rect x="-2" y="-2" width="104" height="79" fill="#2c1062"/><ellipse cx="42" cy="30" rx="30" ry="22" fill="#1e0840" fill-opacity="0.6" filter="url(#b7)"/><ellipse cx="92" cy="45" rx="18" ry="34" fill="#4838c8" fill-opacity="0.45" filter="url(#b8)"/><g fill="#c81858" fill-opacity="0.7" filter="url(#b0_6)"><circle cx="38.47" cy="51.04" r="1.19"/><circle cx="40.54" cy="12.62" r="0.75"/><circle cx="29" cy="3" r="0.82"/><circle cx="54.02" cy="36.32" r="1.27"/><circle cx="12.42" cy="5.69" r="0.82"/><circle cx="41.22" cy="10.43" r="1.22"/><circle cx="58.26" cy="74.9" r="0.91"/><circle cx="95.6" cy="24.85" r="1.23"/><circle cx="84.13" cy="22.08" r="0.93"/><circle cx="0.6" cy="48.4" r="1.05"/><circle cx="64.12" cy="0.94" r="0.75"/><circle cx="73.88" cy="21.41" r="1.36"/><circle cx="67.47" cy="13" r="1.24"/><circle cx="77.54" cy="40.78" r="1.34"/><circle cx="90.15" cy="58.72" r="1.26"/><circle cx="70.22" cy="41.24" r="0.96"/><circle cx="52.95" cy="29.63" r="0.94"/><circle cx="70.74" cy="62.66" r="0.83"/><circle cx="9.3" cy="45.09" r="1.09"/><circle cx="11.86" cy="60.06" r="0.83"/><circle cx="98.82" cy="53.56" r="1.36"/><circle cx="60.59" cy="46.58" r="1.04"/><circle cx="91.33" cy="58.11" r="0.75"/><circle cx="43.24" cy="48.02" r="1.28"/><circle cx="53.66" cy="21.75" r="1.22"/><circle cx="15.01" cy="1.98" r="1.26"/><circle cx="15.89" cy="11.95" r="0.87"/><circle cx="64.98" cy="32.43" r="1.12"/><circle cx="84.03" cy="1.37" r="0.74"/><circle cx="71.96" cy="54.84" r="1.32"/><circle cx="1.42" cy="55.87" r="1.28"/><circle cx="95.35" cy="23.57" r="0.75"/><circle cx="58.4" cy="59.25" r="0.82"/><circle cx="86.87" cy="9.29" r="1.34"/><circle cx="74.45" cy="67.05" r="1.02"/><circle cx="10.2" cy="62.81" r="0.92"/><circle cx="61.66" cy="61.77" r="0.8"/><circle cx="96.73" cy="34.54" r="1"/><circle cx="95.03" cy="27.15" r="1.1"/><circle cx="41.46" cy="33.01" r="1"/><circle cx="7.28" cy="1.65" r="0.86"/><circle cx="66.4" cy="56.42" r="1.31"/><circle cx="65.67" cy="34.4" r="1.18"/><circle cx="17.68" cy="30.97" r="0.88"/><circle cx="68.02" cy="68.24" r="1.13"/><circle cx="49.63" cy="70.52" r="0.77"/><circle cx="62.17" cy="66.91" r="1.14"/><circle cx="25.54" cy="42.9" r="0.97"/><circle cx="96.89" cy="0.97" r="0.81"/><circle cx="35.68" cy="9.65" r="1.01"/><circle cx="78.4" cy="15.4" r="1.25"/><circle cx="0.16" cy="28.47" r="1.14"/><circle cx="76.87" cy="33.59" r="0.99"/><circle cx="57.32" cy="73.34" r="1.06"/><circle cx="31.57" cy="32.21" r="0.89"/><circle cx="90.97" cy="11.48" r="1"/><circle cx="66.49" cy="47.8" r="1.07"/><circle cx="91.74" cy="23.16" r="1.18"/><circle cx="86.36" cy="7.73" r="0.98"/><circle cx="68.88" cy="9.84" r="0.88"/><circle cx="48.68" cy="65.68" r="1.28"/><circle cx="1.24" cy="6.91" r="1.07"/><circle cx="10.88" cy="9.13" r="1.15"/><circle cx="49.1" cy="60.14" r="0.77"/><circle cx="92.71" cy="70.88" r="1.05"/><circle cx="51.02" cy="7.88" r="1"/><circle cx="72.88" cy="20.25" r="0.78"/><circle cx="36.68" cy="15.46" r="0.88"/><circle cx="36.93" cy="3.76" r="1.18"/><circle cx="83.7" cy="57.01" r="1.28"/><circle cx="98.03" cy="59.49" r="1.01"/><circle cx="51.28" cy="1.34" r="0.96"/><circle cx="37.57" cy="2.23" r="0.77"/><circle cx="49.08" cy="53.42" r="1.23"/><circle cx="87.91" cy="13.28" r="1.26"/><circle cx="48.48" cy="31.02" r="0.76"/><circle cx="83.58" cy="37.94" r="0.8"/><circle cx="34.15" cy="7.35" r="0.93"/><circle cx="48.22" cy="12.03" r="1.07"/><circle cx="92.04" cy="15.28" r="1.15"/><circle cx="19.18" cy="47.44" r="1.07"/><circle cx="29.12" cy="49.3" r="0.75"/><circle cx="32.56" cy="47.01" r="1.08"/><circle cx="89.34" cy="32.9" r="0.81"/><circle cx="2.19" cy="4.97" r="1.05"/><circle cx="45.59" cy="51.53" r="1.08"/><circle cx="1.7" cy="66.26" r="1.3"/><circle cx="30.58" cy="62.42" r="0.95"/><circle cx="59.41" cy="31.45" r="1.13"/><circle cx="9.61" cy="58.09" r="1.36"/><circle cx="55.06" cy="60.75" r="1.01"/><circle cx="29.37" cy="12.22" r="1.12"/><circle cx="53.14" cy="69.77" r="0.91"/><circle cx="90.88" cy="52.16" r="0.76"/><circle cx="27.68" cy="53.12" r="1.01"/><circle cx="45.43" cy="57.72" r="1.11"/><circle cx="81.37" cy="33.9" r="0.99"/><circle cx="23.15" cy="33.81" r="1.05"/><circle cx="71.19" cy="31.38" r="1.24"/><circle cx="57.68" cy="1.5" r="0.77"/><circle cx="81.47" cy="10.22" r="1.03"/><circle cx="52.77" cy="66.01" r="1.08"/><circle cx="12.83" cy="74.22" r="0.96"/><circle cx="74.27" cy="40.02" r="1.17"/><circle cx="29.64" cy="51.64" r="1.05"/><circle cx="49.04" cy="52.53" r="1.14"/><circle cx="19.06" cy="65.91" r="0.78"/><circle cx="70.18" cy="21.31" r="1.01"/><circle cx="82.3" cy="4.32" r="0.91"/><circle cx="54.89" cy="6.7" r="0.89"/><circle cx="74.11" cy="49.73" r="1.15"/><circle cx="59.04" cy="46.25" r="1.34"/><circle cx="67.83" cy="68.98" r="1.08"/><circle cx="81.82" cy="5.3" r="0.93"/><circle cx="12.49" cy="25.39" r="1.2"/><circle cx="56.99" cy="60.67" r="1.12"/><circle cx="58.25" cy="57.1" r="1.33"/><circle cx="73.88" cy="44.69" r="1.18"/><circle cx="4.65" cy="6.84" r="1.1"/><circle cx="53.28" cy="61.63" r="1.15"/><circle cx="92.73" cy="52.33" r="1.13"/><circle cx="52.47" cy="68.56" r="1.21"/><circle cx="71.55" cy="34.28" r="1.18"/><circle cx="43.54" cy="13.46" r="0.75"/><circle cx="56.71" cy="68.75" r="1.23"/><circle cx="87.64" cy="24.48" r="1.24"/><circle cx="32.73" cy="68.25" r="1.05"/><circle cx="63.15" cy="3.16" r="1.12"/><circle cx="13.55" cy="25.25" r="1.01"/><circle cx="87.64" cy="55.62" r="0.82"/><circle cx="5.17" cy="25.95" r="1.29"/><circle cx="87.38" cy="56.57" r="1.09"/><circle cx="57.79" cy="43.81" r="0.79"/><circle cx="73.61" cy="15.08" r="1.14"/><circle cx="59.56" cy="34.73" r="1.05"/><circle cx="41.42" cy="73.12" r="0.9"/><circle cx="61.89" cy="42.94" r="0.82"/><circle cx="92.44" cy="45.64" r="0.85"/><circle cx="85.78" cy="66.67" r="1.34"/><circle cx="61.3" cy="28.52" r="1.22"/><circle cx="36.81" cy="10.9" r="1.19"/><circle cx="0.78" cy="24.43" r="1.13"/><circle cx="67.54" cy="64.27" r="0.99"/><circle cx="19.82" cy="49.91" r="1.27"/><circle cx="17.25" cy="23.45" r="1.33"/><circle cx="88.76" cy="2.08" r="0.77"/><circle cx="37.74" cy="28.37" r="1.02"/><circle cx="31.87" cy="54.22" r="1.29"/><circle cx="46.66" cy="36.02" r="1.36"/><circle cx="31.14" cy="68.82" r="0.93"/><circle cx="57.23" cy="40.54" r="1.23"/><circle cx="39.22" cy="18.21" r="1.1"/><circle cx="60.03" cy="28.92" r="0.81"/><circle cx="5.87" cy="61.21" r="1.36"/><circle cx="7.38" cy="25.78" r="0.77"/><circle cx="1.73" cy="35.14" r="0.88"/><circle cx="92.1" cy="2.35" r="1.11"/><circle cx="10.28" cy="6.31" r="0.74"/><circle cx="79" cy="65.33" r="1.02"/><circle cx="17.02" cy="49.39" r="0.96"/><circle cx="70.95" cy="5.5" r="1.19"/><circle cx="88.53" cy="0.33" r="1.16"/><circle cx="92.89" cy="66.99" r="1.3"/><circle cx="2.11" cy="27.2" r="0.84"/><circle cx="22.84" cy="27.04" r="1.02"/><circle cx="85.69" cy="20.04" r="1.32"/><circle cx="70.06" cy="13.16" r="1.21"/><circle cx="91.26" cy="17.59" r="1.31"/><circle cx="72.99" cy="19.01" r="1.1"/><circle cx="12.23" cy="66.04" r="1.12"/><circle cx="61.31" cy="31.12" r="1.2"/><circle cx="72.54" cy="20.28" r="1.22"/><circle cx="23.98" cy="62.38" r="1.08"/><circle cx="30.54" cy="24.53" r="0.93"/><circle cx="2.65" cy="8.55" r="1.12"/><circle cx="26.92" cy="36.38" r="1.28"/><circle cx="44.72" cy="11.43" r="0.95"/><circle cx="97.7" cy="26.3" r="0.93"/><circle cx="86.32" cy="62.32" r="0.75"/><circle cx="9.89" cy="13.64" r="1.19"/><circle cx="74.09" cy="27.24" r="1.05"/><circle cx="39.4" cy="34.52" r="1.36"/><circle cx="80" cy="62.37" r="1.04"/><circle cx="89.26" cy="45.81" r="1.34"/><circle cx="10.63" cy="64.78" r="1.3"/><circle cx="98.62" cy="2.81" r="1.18"/><circle cx="8.43" cy="59.89" r="1.27"/><circle cx="66.76" cy="36.64" r="0.83"/><circle cx="14.51" cy="40.65" r="1.1"/><circle cx="27.01" cy="40.48" r="1.11"/><circle cx="42.33" cy="48.79" r="0.87"/><circle cx="17.58" cy="51.51" r="1.1"/><circle cx="27.91" cy="1.68" r="1.19"/><circle cx="68.66" cy="48.88" r="1.33"/><circle cx="3.1" cy="46.52" r="1.12"/><circle cx="23.04" cy="49.1" r="0.99"/><circle cx="26.95" cy="24.93" r="1.02"/><circle cx="6.85" cy="49.79" r="0.89"/><circle cx="51.91" cy="18.82" r="1.14"/><circle cx="83.08" cy="9.82" r="1.34"/></g><g fill="#d82068" fill-opacity="0.4" filter="url(#b0_6)"><circle cx="10.59" cy="3.61" r="1.09"/><circle cx="36.48" cy="48.51" r="1.31"/><circle cx="47.76" cy="0.1" r="1.09"/><circle cx="56.39" cy="43.39" r="1.4"/><circle cx="31.7" cy="66.57" r="1.11"/><circle cx="37.8" cy="12.88" r="1.31"/><circle cx="44.37" cy="22.1" r="1.54"/><circle cx="2.04" cy="36.95" r="1.93"/><circle cx="22.39" cy="43.7" r="1.1"/><circle cx="96.59" cy="48.49" r="1.22"/><circle cx="85.05" cy="3.59" r="1.49"/><circle cx="26.07" cy="32.56" r="1.9"/><circle cx="82.95" cy="6.12" r="1.61"/><circle cx="25.49" cy="60.12" r="1.05"/><circle cx="80.35" cy="9.59" r="1.17"/><circle cx="46.57" cy="34.92" r="1.17"/><circle cx="27.44" cy="40.88" r="1.27"/><circle cx="77.19" cy="72.94" r="1.54"/><circle cx="91.93" cy="49.3" r="1.11"/><circle cx="17.52" cy="20.86" r="1.54"/><circle cx="49.32" cy="33.29" r="1.75"/><circle cx="98.45" cy="42.02" r="1.77"/><circle cx="19.58" cy="51.43" r="1.5"/><circle cx="62.17" cy="51.66" r="1.77"/><circle cx="74.21" cy="35.58" r="1.51"/><circle cx="43.42" cy="61.09" r="1.67"/><circle cx="29.29" cy="56.46" r="1.7"/><circle cx="14.34" cy="33.05" r="1.9"/><circle cx="15.44" cy="72.3" r="1.77"/><circle cx="47.59" cy="50.17" r="1.61"/><circle cx="3.62" cy="45.46" r="1.94"/><circle cx="95.95" cy="32.22" r="1.93"/><circle cx="78.33" cy="34.2" r="1.31"/><circle cx="75.85" cy="65.61" r="1.67"/><circle cx="93.29" cy="73.43" r="1.38"/><circle cx="14.09" cy="26.46" r="1.43"/><circle cx="5.85" cy="52.94" r="1.13"/><circle cx="56.41" cy="45.64" r="1.83"/><circle cx="48.05" cy="8.31" r="1.84"/><circle cx="37.25" cy="61.65" r="1.27"/><circle cx="13.38" cy="40.14" r="1.88"/><circle cx="47.49" cy="55.79" r="1.56"/><circle cx="52.85" cy="65.71" r="1.06"/><circle cx="62.32" cy="74.69" r="1.18"/><circle cx="43.21" cy="22.44" r="1.22"/><circle cx="86.74" cy="7.96" r="1.63"/><circle cx="57.23" cy="66.9" r="1.16"/><circle cx="48.29" cy="74.74" r="1.43"/><circle cx="32.37" cy="46.57" r="1.76"/><circle cx="93.02" cy="21.22" r="1.68"/></g><path d="M-5 68 Q50 62 105 66" fill="none" stroke="#5040d8" stroke-width="8" stroke-opacity="0.5" stroke-linecap="round" filter="url(#b3)"/><g opacity="0.42"><rect x="0" y="0" width="100" height="75" filter="url(#n17_1)"/></g><rect x="85" y="67.5" width="9" height="2.2" fill="#c8c8d0" fill-opacity="0.55"/></g></g>
<g clip-path="url(#c18)"><g transform="translate(108.9 267.4) scale(0.78 0.77)"><rect x="-2" y="-2" width="104" height="79" fill="#2a1890"/><ellipse cx="94" cy="45" rx="14" ry="36" fill="#3832d0" fill-opacity="0.45" filter="url(#b8)"/><g opacity="0.3"><rect x="0" y="0" width="100" height="75" filter="url(#n18_1)"/></g><path d="M14 2 Q32 6 34 26" fill="none" stroke="#f048b8" stroke-width="1.6" stroke-opacity="0.85" stroke-linecap="round" filter="url(#b0_5)"/><path d="M5 20 Q0 30 2 42" fill="none" stroke="#e040a0" stroke-width="1.2" stroke-opacity="0.6" stroke-linecap="round" filter="url(#b0_5)"/><path d="M60 40 Q70 35 78 30" fill="none" stroke="#e040a0" stroke-width="1" stroke-opacity="0.6" stroke-linecap="round" filter="url(#b0_5)"/><g fill="#c81c78" fill-opacity="0.65" filter="url(#b0_6)"><circle cx="56.49" cy="55.56" r="1.23"/><circle cx="63.21" cy="48.91" r="0.91"/><circle cx="79.92" cy="50.82" r="1.12"/><circle cx="59.63" cy="61.43" r="1.1"/><circle cx="60.91" cy="69.64" r="0.8"/><circle cx="65.39" cy="50.57" r="1.13"/><circle cx="53.96" cy="67.64" r="0.85"/><circle cx="52.29" cy="4.75" r="0.83"/><circle cx="25" cy="35.49" r="1.19"/><circle cx="14.18" cy="0.2" r="0.86"/><circle cx="21.94" cy="54.39" r="1.21"/><circle cx="33.98" cy="18.51" r="0.91"/><circle cx="47.38" cy="51.51" r="1.23"/><circle cx="6.9" cy="18.22" r="1.26"/><circle cx="53.7" cy="16.72" r="0.72"/><circle cx="63.12" cy="26.2" r="0.83"/><circle cx="72.08" cy="45.93" r="0.77"/><circle cx="4.12" cy="0.43" r="1.25"/><circle cx="64.99" cy="55.29" r="0.99"/><circle cx="21.59" cy="65.3" r="1.17"/><circle cx="44.06" cy="63.3" r="1.03"/><circle cx="51.94" cy="25.31" r="0.86"/><circle cx="55.29" cy="47.15" r="0.74"/><circle cx="92.86" cy="49.41" r="1.24"/><circle cx="95.45" cy="8.25" r="0.79"/><circle cx="75.9" cy="45.23" r="1.06"/><circle cx="86.82" cy="44.06" r="0.81"/><circle cx="3.13" cy="26.71" r="0.93"/><circle cx="10.89" cy="6.3" r="1.29"/><circle cx="6.43" cy="55.72" r="1.22"/><circle cx="46.41" cy="34.86" r="1.08"/><circle cx="58.42" cy="36.17" r="1.17"/><circle cx="61.87" cy="3.91" r="1.27"/><circle cx="40.1" cy="3.49" r="1.15"/><circle cx="49.85" cy="42.28" r="1.25"/><circle cx="44.93" cy="0.43" r="1.26"/><circle cx="20.35" cy="70.81" r="1.13"/><circle cx="6.11" cy="58.74" r="1.07"/><circle cx="35.78" cy="18.73" r="0.98"/><circle cx="74.84" cy="53.33" r="0.73"/><circle cx="29.88" cy="18.76" r="1.21"/><circle cx="40.53" cy="36.84" r="0.97"/><circle cx="33.43" cy="52.81" r="1.09"/><circle cx="74.51" cy="72.3" r="0.78"/><circle cx="26.23" cy="20.71" r="0.8"/><circle cx="63.65" cy="66.07" r="1.1"/><circle cx="5.99" cy="63.02" r="0.75"/><circle cx="22.11" cy="45.78" r="0.8"/><circle cx="19.16" cy="51.56" r="1.12"/><circle cx="18.59" cy="46.7" r="0.98"/><circle cx="85.39" cy="29.2" r="0.78"/><circle cx="43.81" cy="50.85" r="1.09"/><circle cx="0.58" cy="48.42" r="0.96"/><circle cx="62.2" cy="28.24" r="1.1"/><circle cx="49.23" cy="41.51" r="1"/><circle cx="36.47" cy="19.04" r="0.93"/><circle cx="13.78" cy="35.7" r="0.72"/><circle cx="38.58" cy="69.13" r="1.2"/><circle cx="36.97" cy="43.13" r="1.1"/><circle cx="44.3" cy="71.31" r="0.8"/><circle cx="26.24" cy="11.15" r="1.04"/><circle cx="66.19" cy="30.86" r="0.81"/><circle cx="31.54" cy="20.71" r="1.02"/><circle cx="56.48" cy="18.69" r="1.03"/><circle cx="12.43" cy="10.19" r="1.15"/><circle cx="14.05" cy="60.44" r="1.29"/><circle cx="25.1" cy="28.88" r="0.83"/><circle cx="85.53" cy="55.86" r="0.91"/><circle cx="3.25" cy="66.81" r="0.7"/><circle cx="78.13" cy="42.88" r="0.83"/><circle cx="45.71" cy="49.37" r="0.77"/><circle cx="78.79" cy="37.28" r="1.13"/><circle cx="36.87" cy="73.41" r="1.05"/><circle cx="72.16" cy="42.97" r="0.94"/><circle cx="43.5" cy="52.33" r="1.07"/><circle cx="69.29" cy="14.58" r="1.12"/><circle cx="20.46" cy="8.98" r="0.73"/><circle cx="33.25" cy="12.26" r="1.22"/><circle cx="37.89" cy="48" r="0.8"/><circle cx="76.52" cy="46.17" r="1.17"/><circle cx="81.58" cy="50.67" r="0.94"/><circle cx="43.14" cy="53.02" r="1.22"/><circle cx="54.82" cy="52.17" r="0.89"/><circle cx="46.6" cy="36.44" r="1.13"/><circle cx="52.97" cy="13.55" r="0.89"/><circle cx="61.87" cy="73.79" r="0.99"/><circle cx="31.61" cy="18.24" r="1.15"/><circle cx="42.7" cy="46.04" r="0.79"/><circle cx="55.48" cy="54.04" r="1.14"/><circle cx="46.77" cy="26.22" r="0.88"/><circle cx="44.49" cy="41.06" r="0.98"/><circle cx="27.81" cy="41.82" r="1.26"/><circle cx="93.91" cy="31.16" r="1.24"/><circle cx="57.78" cy="70.66" r="0.75"/><circle cx="4.2" cy="9.85" r="1.27"/><circle cx="35.17" cy="43.24" r="0.93"/><circle cx="23.77" cy="46.84" r="1.29"/><circle cx="38.05" cy="2.79" r="0.94"/><circle cx="37.18" cy="69.22" r="1.16"/><circle cx="67.5" cy="11.49" r="1.22"/><circle cx="9.9" cy="7.99" r="0.89"/><circle cx="24.97" cy="47.59" r="1.11"/><circle cx="27.2" cy="39.05" r="1.18"/><circle cx="73.04" cy="28.12" r="0.96"/><circle cx="15.57" cy="67.35" r="0.77"/><circle cx="83.15" cy="70.06" r="0.8"/><circle cx="1.52" cy="30.89" r="0.71"/><circle cx="4.5" cy="35.94" r="1.24"/><circle cx="52.7" cy="29.45" r="0.99"/><circle cx="76.5" cy="66.57" r="1.19"/><circle cx="99.9" cy="63.2" r="0.76"/><circle cx="38.68" cy="59.2" r="0.74"/><circle cx="59.61" cy="23.53" r="1.03"/><circle cx="12.4" cy="48.87" r="1.09"/><circle cx="77.68" cy="64.69" r="0.86"/><circle cx="6.1" cy="55.6" r="0.91"/><circle cx="38.28" cy="50.67" r="0.91"/><circle cx="3.7" cy="52.2" r="0.72"/><circle cx="14.72" cy="5.15" r="1.19"/><circle cx="28.32" cy="73.5" r="0.98"/><circle cx="92.52" cy="73.89" r="0.82"/><circle cx="33.59" cy="60.07" r="1.2"/><circle cx="51.16" cy="24.48" r="1.16"/><circle cx="69.37" cy="48.27" r="1"/><circle cx="96" cy="55.75" r="0.79"/><circle cx="66.02" cy="38.33" r="1.21"/><circle cx="77.6" cy="42.36" r="1.07"/><circle cx="44.94" cy="0.98" r="1.23"/><circle cx="55.75" cy="25.46" r="1.21"/><circle cx="0.4" cy="70.69" r="0.95"/><circle cx="30.09" cy="40.59" r="0.78"/><circle cx="22.64" cy="59.34" r="1.12"/><circle cx="79.39" cy="8.06" r="1.08"/><circle cx="11.56" cy="70.99" r="1.26"/><circle cx="51.1" cy="55.99" r="0.83"/><circle cx="30.2" cy="70.52" r="1.06"/><circle cx="96.1" cy="65.05" r="0.8"/><circle cx="79.39" cy="74.09" r="0.94"/><circle cx="62.14" cy="34.89" r="0.97"/><circle cx="47.2" cy="29.88" r="0.85"/><circle cx="15.35" cy="42.52" r="0.82"/><circle cx="51.69" cy="49.21" r="0.75"/><circle cx="51.15" cy="37.79" r="0.7"/><circle cx="4.35" cy="30.17" r="0.77"/><circle cx="33.16" cy="0.24" r="0.99"/><circle cx="51.29" cy="33.36" r="0.77"/><circle cx="0.45" cy="54.59" r="0.82"/><circle cx="51.33" cy="44.25" r="0.84"/><circle cx="64.71" cy="21.25" r="1.2"/><circle cx="42.76" cy="45.64" r="0.98"/></g><rect x="85" y="67.5" width="9" height="2.2" fill="#c8c8d0" fill-opacity="0.55"/></g></g>
<g clip-path="url(#c19)"><g transform="translate(190 267.4) scale(0.76 0.77)"><rect x="-2" y="-2" width="104" height="79" fill="#2e1884"/><rect x="-2" y="-2" width="104" height="79" fill="url(#g19_1)"/><g opacity="0.33"><rect x="0" y="0" width="100" height="75" filter="url(#n19_2)"/></g><g fill="#c01c78" fill-opacity="0.5" filter="url(#b0_6)"><circle cx="39.63" cy="73.68" r="1.4"/><circle cx="5.95" cy="41.89" r="0.99"/><circle cx="4.57" cy="61.86" r="1.62"/><circle cx="52.17" cy="47.99" r="0.98"/><circle cx="9.02" cy="21.63" r="0.93"/><circle cx="77.47" cy="12.02" r="1.23"/><circle cx="5.36" cy="14.64" r="1.13"/><circle cx="50.99" cy="22.1" r="1.29"/><circle cx="60.37" cy="12.07" r="1.29"/><circle cx="9.96" cy="49.18" r="1.48"/><circle cx="93.67" cy="65.79" r="1.32"/><circle cx="94.38" cy="52.4" r="1.37"/><circle cx="5.55" cy="3.24" r="1.07"/><circle cx="89.4" cy="67.53" r="1.49"/><circle cx="48.5" cy="14.6" r="1.16"/><circle cx="93.94" cy="17.89" r="1.53"/><circle cx="61.19" cy="40.48" r="1.07"/><circle cx="27.25" cy="18.73" r="1.49"/><circle cx="3.55" cy="28.07" r="1.36"/><circle cx="27.32" cy="13.14" r="1.62"/><circle cx="30.77" cy="73.99" r="1.3"/><circle cx="71.58" cy="29.03" r="1.29"/><circle cx="42.06" cy="61.29" r="0.96"/><circle cx="40" cy="49.61" r="1.55"/><circle cx="7.6" cy="71.2" r="0.95"/><circle cx="31.38" cy="29.2" r="1.02"/><circle cx="87.03" cy="6.46" r="1.15"/><circle cx="46.93" cy="57.23" r="0.91"/><circle cx="58.97" cy="65.3" r="0.88"/><circle cx="39.98" cy="71.3" r="0.95"/><circle cx="30.11" cy="42.99" r="1.42"/><circle cx="55.2" cy="14.86" r="1.5"/><circle cx="73.55" cy="10.05" r="1.16"/><circle cx="3.99" cy="70.99" r="1.48"/><circle cx="62.56" cy="37.03" r="0.91"/><circle cx="31.42" cy="17.97" r="1.32"/><circle cx="74.61" cy="48.25" r="1.36"/><circle cx="52.98" cy="30.41" r="1.32"/><circle cx="54.49" cy="59.6" r="1.53"/><circle cx="83.98" cy="36.33" r="1.39"/><circle cx="53.11" cy="42.64" r="1.21"/><circle cx="28.61" cy="25.67" r="1.51"/><circle cx="65.13" cy="54.35" r="1.29"/><circle cx="82.93" cy="71.11" r="1.59"/><circle cx="64.35" cy="44.04" r="1.15"/><circle cx="8.77" cy="5.33" r="1.45"/><circle cx="92.57" cy="7.21" r="1"/><circle cx="21.49" cy="67.12" r="1.08"/><circle cx="75.53" cy="5.54" r="1.62"/><circle cx="43.29" cy="52.57" r="1.41"/><circle cx="32.35" cy="34.04" r="1.52"/><circle cx="33.32" cy="50.09" r="0.92"/><circle cx="9.47" cy="37.68" r="1.54"/><circle cx="21.62" cy="12.14" r="1.44"/><circle cx="23.11" cy="52.88" r="1.17"/><circle cx="18.07" cy="40.13" r="1.12"/><circle cx="75.94" cy="69.96" r="1.17"/><circle cx="55.42" cy="28.98" r="1.14"/><circle cx="98.15" cy="44.57" r="1.29"/><circle cx="73.25" cy="53.81" r="1.08"/><circle cx="44.63" cy="65.65" r="1.52"/><circle cx="69.73" cy="0.03" r="1.53"/><circle cx="55.83" cy="69.55" r="0.98"/><circle cx="63.1" cy="64.54" r="1.04"/><circle cx="40.47" cy="3.64" r="1.4"/><circle cx="1.08" cy="36.45" r="1.24"/><circle cx="18.44" cy="68.39" r="1.59"/><circle cx="25.02" cy="45.88" r="0.98"/><circle cx="7.61" cy="21.28" r="0.98"/><circle cx="37.06" cy="31.08" r="0.94"/><circle cx="61.48" cy="50.66" r="1.31"/><circle cx="65.45" cy="20.93" r="1.26"/><circle cx="37.19" cy="73.08" r="1.33"/><circle cx="39.8" cy="20.54" r="1.55"/><circle cx="53.32" cy="3.13" r="1.17"/><circle cx="64.04" cy="56.99" r="1.16"/><circle cx="58.1" cy="5.21" r="1.21"/><circle cx="5.08" cy="22.77" r="1.34"/><circle cx="11.56" cy="62.24" r="1.33"/><circle cx="25.54" cy="70.64" r="0.95"/><circle cx="60.14" cy="22.62" r="1.06"/><circle cx="22.01" cy="55.3" r="1.35"/><circle cx="13.95" cy="21.78" r="1.52"/><circle cx="31.79" cy="31.55" r="1.41"/><circle cx="46.33" cy="29.98" r="1.17"/><circle cx="0.2" cy="35.03" r="1.61"/><circle cx="58.71" cy="68.06" r="1.48"/><circle cx="33.07" cy="44.46" r="1.02"/><circle cx="6.87" cy="15.86" r="1.43"/><circle cx="78.53" cy="64.31" r="0.99"/><circle cx="24.84" cy="26.24" r="1.04"/><circle cx="25.39" cy="59.33" r="1.43"/><circle cx="92.21" cy="1.95" r="1.2"/><circle cx="9.28" cy="61.34" r="1.01"/><circle cx="19.61" cy="5.15" r="1.37"/><circle cx="84.59" cy="44.71" r="1.34"/><circle cx="25.8" cy="29.67" r="1.32"/><circle cx="75.44" cy="49.44" r="1.04"/><circle cx="39.48" cy="22.59" r="1.18"/><circle cx="77.33" cy="31.04" r="1.27"/><circle cx="59.35" cy="41.39" r="1.05"/><circle cx="87.59" cy="22.46" r="1.16"/><circle cx="13.04" cy="63.04" r="1.37"/><circle cx="16.5" cy="48.76" r="1.43"/><circle cx="34.62" cy="10.72" r="1.56"/><circle cx="89.4" cy="42.43" r="1.53"/><circle cx="54.15" cy="0.12" r="1.45"/><circle cx="64.18" cy="57.38" r="1.42"/><circle cx="21.62" cy="37.66" r="1.4"/><circle cx="86.54" cy="70.73" r="0.88"/><circle cx="26.51" cy="24.99" r="1.51"/><circle cx="19.44" cy="33.74" r="0.93"/><circle cx="97.29" cy="53.71" r="1.47"/><circle cx="92.77" cy="22.09" r="1.35"/><circle cx="95.27" cy="73.2" r="1.61"/><circle cx="24.08" cy="61.19" r="1.24"/><circle cx="81.55" cy="26.86" r="1.59"/><circle cx="88.24" cy="21.76" r="1.45"/><circle cx="0.31" cy="34.64" r="1.03"/><circle cx="5.73" cy="58.67" r="1.25"/></g><g fill="#e03090" fill-opacity="0.35" filter="url(#b0_6)"><circle cx="60.61" cy="61.95" r="1.51"/><circle cx="20.7" cy="72.16" r="1.56"/><circle cx="85.47" cy="26.86" r="1.6"/><circle cx="38.72" cy="51.11" r="1.64"/><circle cx="4.01" cy="40.59" r="1.62"/><circle cx="25.16" cy="67.93" r="2.3"/><circle cx="62.47" cy="57.96" r="1.85"/><circle cx="60.96" cy="51.26" r="2.18"/><circle cx="96.16" cy="54.51" r="2.33"/><circle cx="32.7" cy="74.44" r="1.87"/><circle cx="50.75" cy="59.51" r="2.32"/><circle cx="54.69" cy="70.14" r="2.17"/><circle cx="73.08" cy="22.84" r="1.71"/><circle cx="67.55" cy="24.19" r="1.87"/><circle cx="43.2" cy="17.49" r="1.35"/><circle cx="62.57" cy="16.08" r="1.68"/><circle cx="85.6" cy="19.15" r="2.04"/><circle cx="87.58" cy="56.66" r="1.93"/><circle cx="58.18" cy="51.38" r="2.07"/><circle cx="46.96" cy="48.12" r="1.6"/><circle cx="72.93" cy="31.52" r="1.41"/><circle cx="22.06" cy="34.68" r="1.49"/><circle cx="32.24" cy="44.5" r="1.81"/><circle cx="11.6" cy="12.68" r="1.57"/><circle cx="52.52" cy="26.55" r="1.71"/><circle cx="24.75" cy="56.87" r="2.15"/><circle cx="81.13" cy="43.17" r="1.52"/><circle cx="80.23" cy="62.46" r="1.37"/><circle cx="15.9" cy="55.65" r="1.6"/><circle cx="92.34" cy="8.28" r="1.42"/><circle cx="53.52" cy="16.29" r="1.99"/><circle cx="89.6" cy="32.67" r="1.94"/><circle cx="42.75" cy="1.55" r="2.15"/><circle cx="17.65" cy="25.84" r="1.33"/><circle cx="48.43" cy="57.62" r="2.17"/><circle cx="25.6" cy="64.12" r="1.82"/><circle cx="49.46" cy="61.49" r="1.44"/><circle cx="30.2" cy="58.57" r="1.35"/><circle cx="58.36" cy="74.8" r="2.14"/><circle cx="8.81" cy="40.83" r="1.59"/></g><rect x="85" y="67.5" width="9" height="2.2" fill="#c8c8d0" fill-opacity="0.55"/></g></g>
<g clip-path="url(#c20)"><g transform="translate(269 267.4) scale(0.76 0.77)"><rect x="-2" y="-2" width="104" height="79" fill="#22148a"/><ellipse cx="45" cy="28" rx="38" ry="30" fill="#140848" fill-opacity="0.8" filter="url(#b8)"/><ellipse cx="95" cy="45" rx="14" ry="36" fill="#3032d0" fill-opacity="0.5" filter="url(#b8)"/><ellipse cx="4" cy="66" rx="14" ry="14" fill="#e02060" fill-opacity="0.8" filter="url(#b4)"/><g opacity="0.36"><rect x="0" y="0" width="100" height="75" filter="url(#n20_1)"/></g><path d="M52 18 Q56 35 52 50" fill="none" stroke="#8040d0" stroke-width="1.2" stroke-opacity="0.7" stroke-linecap="round" filter="url(#b0_5)"/><g fill="#c81858" fill-opacity="0.65" filter="url(#b0_6)"><circle cx="15.21" cy="16.54" r="0.95"/><circle cx="51.08" cy="23.22" r="1.01"/><circle cx="21.87" cy="25.24" r="0.98"/><circle cx="73.41" cy="23.58" r="0.97"/><circle cx="33.94" cy="26.19" r="0.93"/><circle cx="2.82" cy="38.65" r="0.76"/><circle cx="25.61" cy="45.8" r="0.79"/><circle cx="61.98" cy="14.01" r="1.18"/><circle cx="99.92" cy="40.89" r="0.89"/><circle cx="62.97" cy="23.87" r="0.74"/><circle cx="29.61" cy="31.04" r="1.02"/><circle cx="4.55" cy="7.4" r="1.08"/><circle cx="4.64" cy="67.36" r="0.96"/><circle cx="7.43" cy="54.95" r="0.77"/><circle cx="99.99" cy="19.71" r="0.94"/><circle cx="52.66" cy="0.42" r="1.12"/><circle cx="76.96" cy="21.36" r="1.01"/><circle cx="84.82" cy="53.14" r="1.14"/><circle cx="21.63" cy="8.29" r="0.86"/><circle cx="32.99" cy="0.06" r="1.18"/><circle cx="9.69" cy="23.71" r="0.86"/><circle cx="98.57" cy="44" r="0.78"/><circle cx="44.77" cy="43.95" r="0.77"/><circle cx="21.22" cy="45.79" r="1.13"/><circle cx="9.39" cy="23.62" r="1.08"/><circle cx="98.4" cy="42.86" r="0.78"/><circle cx="26.32" cy="36.36" r="0.89"/><circle cx="6.4" cy="2.22" r="1.25"/><circle cx="81.75" cy="69.29" r="1.04"/><circle cx="22.19" cy="65.87" r="0.81"/><circle cx="92.09" cy="71.4" r="1.25"/><circle cx="63.72" cy="11.88" r="0.96"/><circle cx="46.53" cy="53.8" r="0.85"/><circle cx="0.35" cy="25.86" r="1.29"/><circle cx="44.32" cy="37.4" r="1.23"/><circle cx="18.21" cy="44.74" r="1.03"/><circle cx="17.24" cy="22.09" r="0.98"/><circle cx="17.54" cy="50" r="1.04"/><circle cx="29.31" cy="43.31" r="0.95"/><circle cx="53.71" cy="71.26" r="0.95"/><circle cx="12.44" cy="9.06" r="1.07"/><circle cx="25.36" cy="28.36" r="0.74"/><circle cx="10.7" cy="43.97" r="0.9"/><circle cx="5.57" cy="64.08" r="1.15"/><circle cx="17.5" cy="7.98" r="1.25"/><circle cx="84.24" cy="35.7" r="0.91"/><circle cx="17.86" cy="21.83" r="0.74"/><circle cx="62.98" cy="42.32" r="0.97"/><circle cx="51.59" cy="62.65" r="1.3"/><circle cx="6.27" cy="10.58" r="1.09"/><circle cx="92.93" cy="42.03" r="0.9"/><circle cx="69.57" cy="13.74" r="1.04"/><circle cx="7.59" cy="41.76" r="1.26"/><circle cx="56.87" cy="66.61" r="1.18"/><circle cx="34.28" cy="34.19" r="0.71"/><circle cx="3.96" cy="2.63" r="0.76"/><circle cx="50.76" cy="50.15" r="1.28"/><circle cx="78.9" cy="38.23" r="1.07"/><circle cx="77.97" cy="60.18" r="1.1"/><circle cx="27.22" cy="15.27" r="0.7"/><circle cx="8.01" cy="39.98" r="0.92"/><circle cx="10.81" cy="5.94" r="1.06"/><circle cx="15.27" cy="19.9" r="1.04"/><circle cx="10.32" cy="19.8" r="0.83"/><circle cx="86.45" cy="6.73" r="0.92"/><circle cx="24.04" cy="7.26" r="0.97"/><circle cx="81.91" cy="44.35" r="1.26"/><circle cx="45.09" cy="64.76" r="0.82"/><circle cx="26.32" cy="3.1" r="1.27"/><circle cx="6.43" cy="16.99" r="1.04"/><circle cx="38.75" cy="51.24" r="1.1"/><circle cx="15.67" cy="61.22" r="1.02"/><circle cx="47.22" cy="42.21" r="1.09"/><circle cx="30.64" cy="5.36" r="0.75"/><circle cx="24.61" cy="8.46" r="0.98"/><circle cx="52.97" cy="15.19" r="1.12"/><circle cx="18.22" cy="64.11" r="0.76"/><circle cx="21.74" cy="25.96" r="1.03"/><circle cx="75.31" cy="10.4" r="0.93"/><circle cx="92.63" cy="62.72" r="0.89"/><circle cx="86.77" cy="39.48" r="1.27"/><circle cx="44.7" cy="44.77" r="0.9"/><circle cx="9.89" cy="23.31" r="0.9"/><circle cx="7.89" cy="15.48" r="1.16"/><circle cx="54.05" cy="52.42" r="1.27"/><circle cx="59.01" cy="0.44" r="1.18"/><circle cx="51.2" cy="74.89" r="1.01"/><circle cx="54.76" cy="29.53" r="0.98"/><circle cx="21.11" cy="40.36" r="0.95"/><circle cx="54.03" cy="33.45" r="1.07"/><circle cx="30.6" cy="4.06" r="0.75"/><circle cx="44.36" cy="10.66" r="1.2"/><circle cx="13.17" cy="30.04" r="1.03"/><circle cx="90.73" cy="42.53" r="1.22"/><circle cx="83.79" cy="57.71" r="1.03"/><circle cx="43.69" cy="19.25" r="0.74"/><circle cx="33.47" cy="55.98" r="1.1"/><circle cx="49.7" cy="48.2" r="0.79"/><circle cx="23.15" cy="64.3" r="1.13"/><circle cx="64.07" cy="22.6" r="0.76"/><circle cx="17.23" cy="70.61" r="0.72"/><circle cx="50.71" cy="5.08" r="0.87"/><circle cx="41.12" cy="48.35" r="1.28"/><circle cx="58.87" cy="65.38" r="0.94"/><circle cx="0.92" cy="23.51" r="1.26"/><circle cx="40.65" cy="68.51" r="1.23"/><circle cx="20.96" cy="34.89" r="0.98"/><circle cx="36.99" cy="74.54" r="1.12"/><circle cx="33.88" cy="54.26" r="0.88"/><circle cx="37.54" cy="49.3" r="0.79"/><circle cx="47.66" cy="44.01" r="1.02"/><circle cx="36.24" cy="56.41" r="0.82"/><circle cx="40" cy="24.49" r="1.02"/><circle cx="71.27" cy="59.64" r="1.19"/><circle cx="22.33" cy="64.7" r="1.1"/><circle cx="31.8" cy="9.84" r="1.04"/><circle cx="27.06" cy="26.05" r="1.12"/><circle cx="8.05" cy="66.96" r="0.74"/><circle cx="50.09" cy="12.79" r="1.29"/><circle cx="33.82" cy="57.63" r="1.07"/><circle cx="49.86" cy="25.95" r="0.84"/><circle cx="48.52" cy="41.94" r="1.15"/><circle cx="1.62" cy="11.52" r="1.16"/><circle cx="31.02" cy="3.71" r="0.73"/><circle cx="75.6" cy="15.63" r="0.78"/><circle cx="16.51" cy="48.69" r="1.18"/><circle cx="44.89" cy="22.35" r="1.1"/><circle cx="38.38" cy="8.27" r="1.14"/><circle cx="24.54" cy="38.38" r="0.87"/><circle cx="43.42" cy="41.7" r="0.93"/></g><rect x="85" y="67.5" width="9" height="2.2" fill="#c8c8d0" fill-opacity="0.55"/></g></g>
<g clip-path="url(#c21)"><g transform="translate(29 326.8) scale(0.77 0.77)"><rect x="-2" y="-2" width="104" height="79" fill="url(#g21_1)"/><g opacity="0.54"><rect x="0" y="0" width="100" height="75" filter="url(#n21_2)"/></g><ellipse cx="75" cy="40" rx="25" ry="10" fill="#b01040" fill-opacity="0.6" filter="url(#b4)"/><g fill="#d81040" fill-opacity="0.75" filter="url(#b0_6)"><circle cx="74.75" cy="17.48" r="0.93"/><circle cx="27.63" cy="30.15" r="1.09"/><circle cx="70.99" cy="17.68" r="1.36"/><circle cx="39.35" cy="28.92" r="0.9"/><circle cx="58.45" cy="49.81" r="0.91"/><circle cx="70.41" cy="39.57" r="0.97"/><circle cx="31.74" cy="6.35" r="1.28"/><circle cx="99.79" cy="53.83" r="0.92"/><circle cx="32.37" cy="55.92" r="0.82"/><circle cx="58.36" cy="48.99" r="1.12"/><circle cx="18.24" cy="7.77" r="0.77"/><circle cx="88.78" cy="61.58" r="1.03"/><circle cx="37.34" cy="45.89" r="1.09"/><circle cx="27.8" cy="47.66" r="1.02"/><circle cx="75.82" cy="44.71" r="0.95"/><circle cx="51.69" cy="44" r="1.11"/><circle cx="78.32" cy="47.56" r="1.03"/><circle cx="93.25" cy="4.75" r="1.06"/><circle cx="73.06" cy="5.95" r="0.81"/><circle cx="90.23" cy="20.55" r="0.97"/><circle cx="71.95" cy="45" r="0.92"/><circle cx="91.35" cy="13.48" r="0.77"/><circle cx="31.02" cy="19.69" r="0.98"/><circle cx="58.47" cy="44.87" r="1.15"/><circle cx="85.64" cy="17.54" r="0.97"/><circle cx="34.65" cy="73.15" r="0.89"/><circle cx="31.58" cy="72.08" r="0.77"/><circle cx="79.79" cy="69.57" r="1.09"/><circle cx="27.4" cy="4.2" r="1.19"/><circle cx="89.03" cy="16.6" r="0.9"/><circle cx="30.74" cy="56.96" r="0.95"/><circle cx="75.65" cy="38.22" r="1.41"/><circle cx="48.89" cy="57.31" r="1.2"/><circle cx="49.29" cy="31.22" r="1.24"/><circle cx="92.31" cy="63.56" r="1.06"/><circle cx="62.27" cy="37.09" r="0.94"/><circle cx="75.75" cy="38.12" r="0.79"/><circle cx="71.22" cy="39.33" r="1.34"/><circle cx="39.91" cy="1.01" r="1"/><circle cx="68.61" cy="38.08" r="0.91"/><circle cx="23.5" cy="23.25" r="0.79"/><circle cx="94.71" cy="19.91" r="1.39"/><circle cx="22.45" cy="73" r="1.32"/><circle cx="5.26" cy="68.59" r="1.23"/><circle cx="72.56" cy="21.24" r="1.06"/><circle cx="35.12" cy="8.77" r="1.01"/><circle cx="11.44" cy="49.8" r="0.96"/><circle cx="92.2" cy="71.01" r="0.94"/><circle cx="8.94" cy="47.62" r="1.07"/><circle cx="69.24" cy="10.53" r="1.12"/><circle cx="28.26" cy="74.93" r="1.19"/><circle cx="42.02" cy="35.57" r="1.43"/><circle cx="54.26" cy="48.69" r="1.28"/><circle cx="55.6" cy="26.77" r="1"/><circle cx="46.36" cy="52.84" r="0.92"/><circle cx="30.91" cy="16.52" r="0.95"/><circle cx="40.16" cy="7.25" r="1.39"/><circle cx="92.76" cy="69.41" r="1.13"/><circle cx="38.71" cy="16.1" r="0.83"/><circle cx="56.05" cy="21.79" r="1.35"/><circle cx="42.53" cy="70.87" r="1.02"/><circle cx="66.57" cy="6.21" r="1.07"/><circle cx="8.73" cy="36.61" r="1.07"/><circle cx="68.27" cy="37.24" r="0.81"/><circle cx="23.88" cy="70.67" r="1.05"/><circle cx="32.4" cy="53.12" r="1.01"/><circle cx="58.91" cy="33.14" r="1.15"/><circle cx="37.84" cy="31.15" r="1.14"/><circle cx="99.68" cy="38.5" r="1.4"/><circle cx="72.9" cy="33.86" r="0.93"/><circle cx="96.62" cy="31.77" r="0.93"/><circle cx="37.86" cy="62.47" r="1.03"/><circle cx="50.95" cy="58.13" r="1.36"/><circle cx="58.26" cy="60.44" r="1.29"/><circle cx="33.4" cy="58.66" r="1.06"/><circle cx="77.87" cy="65.69" r="1.31"/><circle cx="84.38" cy="47.33" r="1.1"/><circle cx="74.33" cy="4.47" r="1.32"/><circle cx="73.16" cy="24.45" r="1.02"/><circle cx="54.64" cy="44.08" r="1.17"/><circle cx="88.82" cy="69.69" r="1.3"/><circle cx="90.96" cy="44.21" r="0.93"/><circle cx="32.19" cy="21.02" r="0.81"/><circle cx="93.36" cy="32.1" r="0.83"/><circle cx="18.09" cy="68.73" r="0.95"/><circle cx="3.1" cy="61.79" r="1.18"/><circle cx="82.66" cy="22.12" r="0.8"/><circle cx="17.52" cy="22.08" r="1.2"/><circle cx="20.91" cy="20.26" r="1.21"/><circle cx="18.03" cy="23.18" r="0.81"/><circle cx="3.56" cy="35.9" r="0.82"/><circle cx="97.12" cy="74.31" r="0.99"/><circle cx="70.58" cy="51.54" r="1.17"/><circle cx="56.46" cy="12.57" r="0.86"/><circle cx="30.49" cy="7.23" r="1.11"/><circle cx="0.15" cy="22.06" r="1.03"/><circle cx="17.59" cy="38.72" r="1.17"/><circle cx="87.95" cy="44.45" r="0.85"/><circle cx="11.51" cy="38.03" r="0.84"/><circle cx="7.94" cy="67.12" r="1.23"/><circle cx="86.52" cy="0.82" r="1.09"/><circle cx="75.49" cy="13.25" r="1.29"/><circle cx="91.31" cy="29.1" r="1.31"/><circle cx="64.09" cy="43.35" r="1"/><circle cx="26.74" cy="57.9" r="1.22"/><circle cx="28.59" cy="37.89" r="1.42"/><circle cx="62.33" cy="47.28" r="1.02"/><circle cx="57.14" cy="43.09" r="1.19"/><circle cx="23.44" cy="48.44" r="1.23"/><circle cx="0.67" cy="54.64" r="0.96"/><circle cx="35.4" cy="52.99" r="1.07"/><circle cx="2.15" cy="1.63" r="1.32"/><circle cx="95.41" cy="5.53" r="1.05"/><circle cx="1.15" cy="67.32" r="1.15"/><circle cx="65.63" cy="56.82" r="1.23"/><circle cx="65.67" cy="11.07" r="0.8"/><circle cx="62.06" cy="22.45" r="0.91"/><circle cx="54.45" cy="37.56" r="1.28"/><circle cx="33.57" cy="56.51" r="1.22"/><circle cx="68.52" cy="25.69" r="0.84"/><circle cx="29.84" cy="38.19" r="1.41"/><circle cx="40.47" cy="35.37" r="1.3"/><circle cx="6.05" cy="47.19" r="0.91"/><circle cx="52.63" cy="65.11" r="0.78"/><circle cx="14.86" cy="1.85" r="0.99"/><circle cx="44.43" cy="44.29" r="0.93"/><circle cx="65.37" cy="11.59" r="1.13"/><circle cx="70.99" cy="29.5" r="0.96"/><circle cx="33.35" cy="58.83" r="1.28"/><circle cx="27.38" cy="14.77" r="0.85"/><circle cx="6.22" cy="0.49" r="0.97"/><circle cx="25.69" cy="32.86" r="0.95"/><circle cx="74.7" cy="12.87" r="1.22"/><circle cx="28.39" cy="5.44" r="1.03"/><circle cx="15.15" cy="18.49" r="1.09"/><circle cx="69.92" cy="4.23" r="1.21"/><circle cx="71.4" cy="5.13" r="1"/><circle cx="61.85" cy="58.82" r="1.3"/><circle cx="27.19" cy="24.35" r="0.85"/><circle cx="82.66" cy="35.54" r="0.82"/><circle cx="86.31" cy="48.31" r="1.36"/><circle cx="33.29" cy="2.13" r="1.29"/><circle cx="62.27" cy="67.34" r="1.03"/><circle cx="52.4" cy="15.9" r="0.87"/><circle cx="35.01" cy="33.6" r="0.87"/><circle cx="23.21" cy="70.97" r="1.3"/><circle cx="81.33" cy="45.49" r="1.15"/><circle cx="77.17" cy="50.74" r="1.27"/><circle cx="88.12" cy="48.71" r="0.96"/><circle cx="57.75" cy="61.82" r="1.18"/><circle cx="20.94" cy="27.14" r="1.11"/><circle cx="95.76" cy="13.9" r="1.17"/><circle cx="93.45" cy="7.31" r="1.19"/><circle cx="34.2" cy="54.49" r="0.83"/><circle cx="18.32" cy="33.95" r="1.31"/><circle cx="38.54" cy="21.19" r="0.83"/><circle cx="88.18" cy="7.1" r="1.31"/><circle cx="58.88" cy="39.94" r="1.43"/><circle cx="41.15" cy="15.42" r="1.12"/><circle cx="67.99" cy="54.3" r="0.83"/><circle cx="71.45" cy="62.03" r="0.87"/><circle cx="95.03" cy="74.83" r="1.01"/><circle cx="24.79" cy="71.55" r="0.87"/><circle cx="42" cy="29.96" r="0.82"/><circle cx="71.08" cy="58.96" r="0.93"/><circle cx="90.29" cy="4.38" r="1.04"/><circle cx="4.95" cy="31.92" r="1.14"/><circle cx="37.78" cy="15.82" r="1.24"/><circle cx="14.93" cy="33.03" r="1.29"/><circle cx="15.84" cy="71.71" r="1.2"/><circle cx="64.51" cy="43.71" r="0.93"/><circle cx="37.72" cy="68.63" r="1.17"/><circle cx="4.94" cy="64.79" r="0.92"/><circle cx="43.67" cy="43.76" r="0.9"/><circle cx="8.95" cy="55.81" r="0.96"/><circle cx="96.71" cy="14.12" r="1.03"/><circle cx="63.52" cy="2.62" r="1.18"/><circle cx="39.05" cy="14.94" r="1.12"/><circle cx="37.01" cy="25.35" r="1.23"/><circle cx="6.07" cy="28.92" r="0.87"/><circle cx="20.56" cy="68.37" r="1.28"/><circle cx="65.28" cy="48.08" r="1.43"/><circle cx="47.11" cy="24.97" r="1.27"/><circle cx="31.3" cy="69.11" r="0.79"/><circle cx="24.85" cy="9.34" r="0.8"/><circle cx="69.8" cy="27.32" r="1.26"/><circle cx="46.52" cy="51.18" r="1.27"/><circle cx="35.71" cy="0.75" r="1.15"/><circle cx="9.57" cy="12.64" r="1.13"/><circle cx="66" cy="16.41" r="0.78"/><circle cx="31.59" cy="68.06" r="1.19"/><circle cx="5.05" cy="52.43" r="1.33"/><circle cx="53.72" cy="72.5" r="1.08"/><circle cx="33.58" cy="62.44" r="1.33"/><circle cx="25.85" cy="38.82" r="1.35"/><circle cx="86.42" cy="8.6" r="0.95"/><circle cx="46.76" cy="60.05" r="1.09"/><circle cx="13.9" cy="54.31" r="1.33"/><circle cx="4.73" cy="57.93" r="1.34"/><circle cx="34.32" cy="55.53" r="1.42"/></g><g fill="#e82050" fill-opacity="0.45" filter="url(#b0_6)"><circle cx="2.52" cy="14.88" r="1.89"/><circle cx="41.22" cy="62.24" r="1.08"/><circle cx="57.86" cy="35.22" r="1.47"/><circle cx="41.45" cy="2.78" r="1.88"/><circle cx="27.87" cy="46.01" r="1.95"/><circle cx="86.43" cy="11.59" r="1.84"/><circle cx="41.2" cy="1.94" r="1.86"/><circle cx="95.3" cy="13.75" r="1.71"/><circle cx="51.47" cy="23.43" r="1.67"/><circle cx="6.42" cy="12.15" r="1.78"/><circle cx="63.08" cy="18.02" r="1.07"/><circle cx="49.31" cy="49.13" r="1.67"/><circle cx="20.99" cy="1.15" r="1.54"/><circle cx="10.95" cy="11.32" r="1.74"/><circle cx="31.83" cy="17.18" r="1.55"/><circle cx="36.94" cy="66.04" r="1.77"/><circle cx="74.47" cy="57.71" r="1.61"/><circle cx="57.02" cy="13.34" r="1.44"/><circle cx="89.35" cy="34.55" r="1.94"/><circle cx="78.5" cy="35.04" r="1.6"/><circle cx="23.64" cy="13.39" r="1.19"/><circle cx="55.03" cy="13.13" r="1.84"/><circle cx="11.06" cy="58.06" r="1.83"/><circle cx="48.68" cy="7.36" r="1.13"/><circle cx="33.19" cy="62.21" r="1.43"/><circle cx="85.89" cy="37.88" r="1.37"/><circle cx="30.32" cy="4.37" r="1.17"/><circle cx="54.8" cy="52.93" r="1.8"/><circle cx="34.5" cy="69.76" r="1.11"/><circle cx="58.23" cy="9.29" r="1.26"/><circle cx="18.37" cy="51.33" r="1.47"/><circle cx="87.74" cy="0.83" r="1.75"/><circle cx="50.45" cy="52.85" r="1.35"/><circle cx="78.33" cy="55.8" r="1.42"/><circle cx="13.91" cy="48.3" r="1.93"/><circle cx="96.04" cy="6.52" r="1.29"/><circle cx="88.03" cy="66.41" r="1.32"/><circle cx="25.6" cy="28.43" r="1.66"/><circle cx="46.47" cy="0.38" r="1.29"/><circle cx="21.1" cy="20.77" r="1.29"/><circle cx="7.29" cy="20.05" r="1.7"/><circle cx="57.7" cy="13.55" r="1.21"/><circle cx="61.62" cy="52.32" r="1.13"/><circle cx="55.67" cy="34.06" r="1.12"/><circle cx="38.5" cy="17.54" r="1.36"/><circle cx="48.85" cy="3.34" r="1.06"/><circle cx="57.06" cy="4.06" r="1.74"/><circle cx="87.36" cy="15.84" r="1.44"/><circle cx="55.37" cy="32.43" r="1.22"/><circle cx="83.97" cy="4.26" r="1.39"/><circle cx="37.7" cy="11.7" r="1.59"/><circle cx="85.93" cy="67.73" r="1.88"/><circle cx="66.4" cy="2.84" r="1.78"/><circle cx="28.62" cy="17.77" r="1.58"/><circle cx="7.95" cy="22.08" r="1.93"/><circle cx="17.22" cy="54.09" r="1.89"/><circle cx="90.42" cy="44.47" r="1.46"/><circle cx="29.39" cy="37.58" r="1.94"/><circle cx="65.66" cy="39.31" r="1.55"/><circle cx="3.8" cy="29.86" r="1.26"/></g><path d="M-5 33 Q50 35 105 16" fill="none" stroke="#4a40f8" stroke-width="7.5" stroke-opacity="0.95" stroke-linecap="round" filter="url(#b1_8)"/><path d="M-5 42 Q45 50 105 64" fill="none" stroke="#4a40f8" stroke-width="8.5" stroke-opacity="0.95" stroke-linecap="round" filter="url(#b1_8)"/><rect x="85" y="67.5" width="9" height="2.2" fill="#c8c8d0" fill-opacity="0.55"/></g></g>
<g clip-path="url(#c22)"><g transform="translate(108.9 326.8) scale(0.78 0.77)"><rect x="-2" y="-2" width="104" height="79" fill="#2e0c58"/><g opacity="0.48"><rect x="0" y="0" width="100" height="75" filter="url(#n22_1)"/></g><ellipse cx="78" cy="35" rx="20" ry="14" fill="#a01050" fill-opacity="0.6" filter="url(#b4)"/><g fill="#d01850" fill-opacity="0.7" filter="url(#b0_6)"><circle cx="24.55" cy="7.02" r="0.91"/><circle cx="82.17" cy="17.35" r="1.22"/><circle cx="35.48" cy="33.86" r="1.18"/><circle cx="6.5" cy="64.39" r="1.13"/><circle cx="25.73" cy="13.47" r="1.05"/><circle cx="81.02" cy="69.31" r="0.79"/><circle cx="34.85" cy="70.14" r="0.91"/><circle cx="75.4" cy="46.1" r="1.17"/><circle cx="65.8" cy="8.16" r="1.36"/><circle cx="79.22" cy="64.53" r="1.17"/><circle cx="89.8" cy="39.05" r="0.79"/><circle cx="29.39" cy="20.22" r="1.35"/><circle cx="21.12" cy="2.94" r="1.3"/><circle cx="80.48" cy="44.76" r="0.98"/><circle cx="18.29" cy="39.07" r="1.22"/><circle cx="82.22" cy="5.42" r="1.06"/><circle cx="2.65" cy="70.47" r="1.21"/><circle cx="5.3" cy="72.14" r="0.85"/><circle cx="63.58" cy="26.73" r="0.77"/><circle cx="65.35" cy="57.82" r="0.84"/><circle cx="92.21" cy="37.2" r="0.75"/><circle cx="17.56" cy="0.81" r="1.34"/><circle cx="38.02" cy="14.67" r="0.74"/><circle cx="58.8" cy="14.72" r="0.97"/><circle cx="46.02" cy="18.28" r="1.16"/><circle cx="54.38" cy="25.01" r="1.35"/><circle cx="48.56" cy="48.03" r="0.81"/><circle cx="38.64" cy="70.01" r="1.36"/><circle cx="21.85" cy="68.82" r="0.96"/><circle cx="70.88" cy="33.17" r="1.25"/><circle cx="56.73" cy="4.63" r="1.31"/><circle cx="26.42" cy="57.11" r="1.13"/><circle cx="42.64" cy="5.71" r="1.36"/><circle cx="17.77" cy="46.01" r="1.13"/><circle cx="76.28" cy="46.51" r="1.23"/><circle cx="58.49" cy="10.17" r="0.87"/><circle cx="36.29" cy="48.45" r="1.14"/><circle cx="34.88" cy="2.53" r="1.1"/><circle cx="22.96" cy="60.23" r="1.22"/><circle cx="28.18" cy="67.65" r="1.14"/><circle cx="76.87" cy="28.46" r="0.91"/><circle cx="96.33" cy="20.02" r="1.14"/><circle cx="43.67" cy="53.37" r="1.19"/><circle cx="96.11" cy="4.79" r="1.15"/><circle cx="62.68" cy="29.52" r="1.21"/><circle cx="25.42" cy="70.47" r="1.03"/><circle cx="29.95" cy="45.78" r="0.88"/><circle cx="47.29" cy="56.38" r="1.3"/><circle cx="70.5" cy="52.35" r="1.21"/><circle cx="57.05" cy="13.54" r="1.3"/><circle cx="30.08" cy="32.39" r="0.8"/><circle cx="17.84" cy="35.94" r="0.97"/><circle cx="68.05" cy="1.55" r="1.11"/><circle cx="20.93" cy="17.34" r="0.97"/><circle cx="77.11" cy="14.11" r="1.12"/><circle cx="22.82" cy="15.63" r="0.97"/><circle cx="81.12" cy="12.39" r="0.95"/><circle cx="97.25" cy="26.71" r="1.05"/><circle cx="20.54" cy="9.02" r="0.97"/><circle cx="14.5" cy="53.43" r="0.92"/><circle cx="82.87" cy="19.22" r="0.77"/><circle cx="20.25" cy="30.44" r="0.74"/><circle cx="11.9" cy="55.99" r="0.79"/><circle cx="82.85" cy="31.86" r="1.02"/><circle cx="8.88" cy="40.18" r="0.88"/><circle cx="6.3" cy="67.55" r="1.26"/><circle cx="77.39" cy="8.44" r="1.09"/><circle cx="28.83" cy="65.87" r="1.09"/><circle cx="4.23" cy="37.79" r="0.89"/><circle cx="23.58" cy="50.3" r="0.89"/><circle cx="41.92" cy="20.64" r="1.24"/><circle cx="75.77" cy="8.08" r="0.79"/><circle cx="67.35" cy="59.81" r="0.88"/><circle cx="27.53" cy="23.25" r="0.92"/><circle cx="74.46" cy="30.72" r="1.23"/><circle cx="83.81" cy="13.66" r="1.03"/><circle cx="84.63" cy="62.24" r="1.34"/><circle cx="27.86" cy="53.21" r="0.74"/><circle cx="63.25" cy="56.44" r="1.1"/><circle cx="67.22" cy="5.39" r="0.82"/><circle cx="27.1" cy="13.34" r="1.19"/><circle cx="87.03" cy="32.94" r="1.31"/><circle cx="92.41" cy="38.37" r="0.78"/><circle cx="87.33" cy="36.83" r="0.76"/><circle cx="41.09" cy="22.62" r="1.02"/><circle cx="21.51" cy="68.71" r="1.13"/><circle cx="93.16" cy="40.91" r="1.13"/><circle cx="88.02" cy="45.87" r="1.34"/><circle cx="2.29" cy="10.74" r="1.23"/><circle cx="62.09" cy="22.05" r="0.92"/><circle cx="81.12" cy="24.57" r="0.93"/><circle cx="90.56" cy="1.2" r="1.09"/><circle cx="70.48" cy="7.54" r="0.76"/><circle cx="74.5" cy="27.81" r="0.9"/><circle cx="47.71" cy="43.25" r="1.26"/><circle cx="87.72" cy="53.05" r="0.76"/><circle cx="69.62" cy="16.68" r="1.03"/><circle cx="94.94" cy="9.13" r="0.88"/><circle cx="31.5" cy="21.29" r="1.05"/><circle cx="11.89" cy="47.42" r="1.27"/><circle cx="1.53" cy="38.37" r="0.87"/><circle cx="86.58" cy="51.96" r="1.15"/><circle cx="79.95" cy="20.19" r="1.28"/><circle cx="84.92" cy="45.95" r="1.11"/><circle cx="68.92" cy="23.14" r="0.95"/><circle cx="63.43" cy="18.78" r="0.74"/><circle cx="67.95" cy="5.41" r="1.06"/><circle cx="56.12" cy="68.58" r="0.93"/><circle cx="12.44" cy="72.1" r="0.98"/><circle cx="23.07" cy="65.39" r="1.24"/><circle cx="30.84" cy="53.49" r="0.96"/><circle cx="15.01" cy="1.03" r="1.27"/><circle cx="55.63" cy="54.97" r="1.02"/><circle cx="74.5" cy="36.63" r="0.99"/><circle cx="78.01" cy="6.02" r="1.23"/><circle cx="87.02" cy="13.11" r="1.08"/><circle cx="78.14" cy="37.94" r="1.13"/><circle cx="28.02" cy="68.78" r="1.3"/><circle cx="47.31" cy="50.7" r="1.11"/><circle cx="2.97" cy="22.73" r="1.29"/><circle cx="83.17" cy="56.16" r="1.13"/><circle cx="69.74" cy="44.29" r="1.1"/><circle cx="11.39" cy="12.07" r="1.29"/><circle cx="0.27" cy="57.69" r="0.84"/><circle cx="93.17" cy="11.95" r="0.77"/><circle cx="17.57" cy="10" r="1.04"/><circle cx="83.46" cy="27.11" r="0.85"/><circle cx="49.89" cy="55.66" r="0.9"/><circle cx="13.02" cy="10.44" r="0.87"/><circle cx="78.11" cy="31.61" r="1.08"/><circle cx="18.66" cy="70.44" r="1"/><circle cx="86.78" cy="41.28" r="1.28"/><circle cx="46.7" cy="53.42" r="0.92"/><circle cx="16.2" cy="71.01" r="1.3"/><circle cx="1.03" cy="10.8" r="0.97"/><circle cx="39.54" cy="73.21" r="0.99"/><circle cx="30.19" cy="51.26" r="0.83"/><circle cx="60" cy="57.18" r="0.74"/><circle cx="26.56" cy="18.62" r="1.35"/><circle cx="34.19" cy="70.95" r="1.05"/><circle cx="32.05" cy="56.43" r="0.87"/><circle cx="74.69" cy="72.81" r="1.03"/><circle cx="19.68" cy="33.4" r="0.74"/><circle cx="53.29" cy="51.26" r="1.1"/><circle cx="66" cy="43.59" r="0.88"/><circle cx="12.52" cy="70.36" r="0.77"/><circle cx="11.38" cy="50.83" r="0.88"/><circle cx="41.58" cy="11.1" r="0.87"/><circle cx="2.11" cy="0.86" r="0.86"/><circle cx="58.67" cy="4.45" r="0.86"/><circle cx="27.06" cy="4.52" r="1.23"/><circle cx="97.62" cy="55.12" r="0.97"/><circle cx="52.1" cy="73.97" r="0.84"/><circle cx="23.98" cy="6.91" r="1.3"/><circle cx="34.76" cy="9.79" r="0.91"/><circle cx="25.92" cy="2.07" r="1.01"/><circle cx="3.73" cy="53.07" r="0.82"/><circle cx="63.69" cy="59.11" r="1.3"/><circle cx="29.57" cy="11.12" r="1.15"/><circle cx="9.26" cy="70.03" r="0.94"/><circle cx="24.99" cy="19.43" r="1.32"/><circle cx="4.83" cy="71.56" r="1.21"/><circle cx="4.57" cy="54.92" r="1.24"/><circle cx="20.01" cy="34.51" r="1"/><circle cx="87.1" cy="63.8" r="1.13"/><circle cx="10.3" cy="66.4" r="0.8"/><circle cx="78.16" cy="65.93" r="1.23"/><circle cx="82.41" cy="55.81" r="0.74"/><circle cx="52.59" cy="47.14" r="0.86"/><circle cx="59.9" cy="20.82" r="1.11"/></g><path d="M-5 50 Q45 40 95 -5" fill="none" stroke="#4a40f8" stroke-width="9" stroke-opacity="0.95" stroke-linecap="round" filter="url(#b2)"/><path d="M-5 55 Q50 68 105 30" fill="none" stroke="#4a40f8" stroke-width="8.5" stroke-opacity="0.95" stroke-linecap="round" filter="url(#b2)"/><path d="M25 8 Q35 15 38 28" fill="none" stroke="#f048b0" stroke-width="1.2" stroke-opacity="0.7" stroke-linecap="round" filter="url(#b0_5)"/><ellipse cx="10" cy="10" rx="1.8" ry="1.5" fill="#000000" fill-opacity="0.8" filter="url(#b0_3)"/><rect x="85" y="67.5" width="9" height="2.2" fill="#c8c8d0" fill-opacity="0.55"/></g></g>
<g clip-path="url(#c23)"><g transform="translate(190 326.8) scale(0.76 0.77)"><rect x="-2" y="-2" width="104" height="79" fill="#3a0c48"/><g opacity="0.48"><rect x="0" y="0" width="100" height="75" filter="url(#n23_1)"/></g><ellipse cx="55" cy="46" rx="40" ry="5" fill="#a01050" fill-opacity="0.6" filter="url(#b3)"/><g fill="#d01850" fill-opacity="0.7" filter="url(#b0_6)"><circle cx="77.88" cy="17.64" r="0.93"/><circle cx="2.92" cy="16.72" r="1.2"/><circle cx="44.13" cy="5.63" r="0.75"/><circle cx="93.64" cy="5.32" r="1.04"/><circle cx="51.54" cy="27.53" r="0.89"/><circle cx="33.59" cy="32.89" r="1.01"/><circle cx="89.98" cy="67.6" r="0.77"/><circle cx="27.52" cy="1.8" r="1.06"/><circle cx="66.17" cy="37.96" r="0.79"/><circle cx="32.18" cy="13.31" r="1.2"/><circle cx="81.21" cy="46.69" r="1.06"/><circle cx="90.17" cy="46.21" r="0.86"/><circle cx="90.87" cy="46.38" r="1.29"/><circle cx="36.86" cy="41.22" r="1.14"/><circle cx="54.23" cy="6" r="0.86"/><circle cx="35.74" cy="1.54" r="0.75"/><circle cx="68.8" cy="63.47" r="1.21"/><circle cx="40.37" cy="65.2" r="0.99"/><circle cx="6.14" cy="22.71" r="1.29"/><circle cx="88.24" cy="61.75" r="0.98"/><circle cx="17.24" cy="30.91" r="1.07"/><circle cx="34.89" cy="8.2" r="0.8"/><circle cx="64.23" cy="2.29" r="0.88"/><circle cx="23.99" cy="14.15" r="0.85"/><circle cx="81.85" cy="35.91" r="0.89"/><circle cx="84.94" cy="6.31" r="0.75"/><circle cx="25.3" cy="57.09" r="1.19"/><circle cx="3.11" cy="64.99" r="1.05"/><circle cx="40.97" cy="57.46" r="0.84"/><circle cx="50.14" cy="13.8" r="1.04"/><circle cx="65.71" cy="7.4" r="1.19"/><circle cx="47.54" cy="49.23" r="1.09"/><circle cx="31.76" cy="41.68" r="1.08"/><circle cx="52.96" cy="29.47" r="0.76"/><circle cx="23.02" cy="40.35" r="0.74"/><circle cx="58.14" cy="7" r="1.02"/><circle cx="57.15" cy="4.42" r="0.84"/><circle cx="67.13" cy="39.63" r="1.34"/><circle cx="1.39" cy="46.6" r="0.9"/><circle cx="50.63" cy="48.92" r="1.17"/><circle cx="8.04" cy="7.63" r="1.18"/><circle cx="97.65" cy="2.37" r="1.01"/><circle cx="98.71" cy="11.1" r="1.22"/><circle cx="35.56" cy="36.8" r="0.91"/><circle cx="59.9" cy="68.26" r="1.27"/><circle cx="38.72" cy="58.67" r="0.92"/><circle cx="42.44" cy="51.89" r="0.78"/><circle cx="57.09" cy="41.41" r="1.32"/><circle cx="62.88" cy="33.45" r="0.96"/><circle cx="21.42" cy="27.69" r="1.2"/><circle cx="62.57" cy="64.2" r="0.75"/><circle cx="34.41" cy="2.72" r="1.27"/><circle cx="85.1" cy="9.03" r="1.12"/><circle cx="70.88" cy="14.07" r="1.18"/><circle cx="60.35" cy="28.71" r="0.87"/><circle cx="33.45" cy="28.62" r="0.95"/><circle cx="43.19" cy="65.98" r="1.32"/><circle cx="63.92" cy="47.96" r="1.21"/><circle cx="85.21" cy="69.24" r="1.21"/><circle cx="76.68" cy="32.46" r="1.06"/><circle cx="97.76" cy="36.9" r="1.11"/><circle cx="91.12" cy="38.4" r="1.35"/><circle cx="93.11" cy="24.76" r="1.15"/><circle cx="80.93" cy="22.49" r="1.07"/><circle cx="55.42" cy="64.12" r="0.88"/><circle cx="53.55" cy="61.43" r="1.02"/><circle cx="21.08" cy="43.78" r="1.26"/><circle cx="79.07" cy="37.38" r="0.88"/><circle cx="98.11" cy="5.71" r="1.05"/><circle cx="71.92" cy="70.86" r="1.12"/><circle cx="90.7" cy="13.13" r="0.94"/><circle cx="92.87" cy="14.02" r="0.75"/><circle cx="58.12" cy="41.85" r="0.95"/><circle cx="69.31" cy="23.73" r="1.17"/><circle cx="7.95" cy="4.75" r="1.34"/><circle cx="71.1" cy="72.42" r="0.92"/><circle cx="33.89" cy="59.05" r="1.29"/><circle cx="34.87" cy="11.75" r="1.06"/><circle cx="94.01" cy="69.38" r="0.74"/><circle cx="3.25" cy="27.08" r="0.77"/><circle cx="79.59" cy="60.69" r="1.21"/><circle cx="85.29" cy="2.09" r="1.03"/><circle cx="11.41" cy="6.41" r="0.89"/><circle cx="75.35" cy="63.42" r="1.35"/><circle cx="44.39" cy="12.14" r="0.85"/><circle cx="64.46" cy="2.23" r="0.96"/><circle cx="68.33" cy="38.82" r="1.24"/><circle cx="60.64" cy="5.06" r="1.05"/><circle cx="9.18" cy="39.89" r="1.31"/><circle cx="66.45" cy="69.53" r="1.22"/><circle cx="82.96" cy="26.69" r="1.21"/><circle cx="54.32" cy="52.22" r="1.24"/><circle cx="69.83" cy="17.12" r="1.17"/><circle cx="37.31" cy="71.8" r="0.99"/><circle cx="74.09" cy="46.79" r="1.01"/><circle cx="23.17" cy="40.48" r="1.12"/><circle cx="83.38" cy="65.87" r="1.17"/><circle cx="82.63" cy="41.85" r="1.2"/><circle cx="87.44" cy="37.51" r="1.06"/><circle cx="40.53" cy="63.37" r="1.21"/><circle cx="83.41" cy="60.87" r="1.1"/><circle cx="9.36" cy="8.83" r="0.79"/><circle cx="66.04" cy="26.83" r="0.78"/><circle cx="93.48" cy="73.31" r="1.28"/><circle cx="9.36" cy="9.28" r="1"/><circle cx="37.9" cy="9.95" r="0.99"/><circle cx="32.4" cy="4.8" r="0.84"/><circle cx="60.85" cy="62.29" r="0.8"/><circle cx="44.09" cy="40.76" r="0.92"/><circle cx="13.72" cy="69.52" r="0.86"/><circle cx="60.88" cy="48.61" r="1.14"/><circle cx="97.02" cy="11.03" r="1.08"/><circle cx="39.27" cy="41.92" r="0.85"/><circle cx="93.58" cy="11.13" r="0.96"/><circle cx="52.47" cy="33.58" r="1.32"/><circle cx="62.67" cy="13.14" r="1.15"/><circle cx="3.03" cy="47.63" r="1.25"/><circle cx="11.52" cy="4.13" r="0.85"/><circle cx="43.42" cy="37.53" r="0.89"/><circle cx="71.77" cy="66.63" r="1.18"/><circle cx="70.08" cy="37.88" r="1.33"/><circle cx="3.25" cy="24.15" r="1.16"/><circle cx="52.43" cy="36.09" r="1.06"/><circle cx="91.23" cy="18.13" r="1.19"/><circle cx="19.84" cy="53.32" r="0.76"/><circle cx="52.72" cy="40.27" r="0.99"/><circle cx="42.29" cy="9.52" r="1.05"/><circle cx="73.5" cy="43.33" r="0.85"/><circle cx="12.4" cy="8.36" r="1.27"/><circle cx="37.65" cy="1.02" r="0.74"/><circle cx="35.11" cy="34.91" r="0.9"/><circle cx="94.13" cy="38.81" r="1.32"/><circle cx="71.65" cy="40.06" r="0.77"/><circle cx="64.48" cy="61.64" r="0.83"/><circle cx="19.33" cy="56.17" r="0.88"/><circle cx="47.21" cy="52.82" r="1.25"/><circle cx="31.5" cy="49.59" r="1.14"/><circle cx="80.19" cy="32.3" r="1.25"/><circle cx="39.57" cy="44.75" r="0.84"/><circle cx="50.94" cy="52.58" r="1.28"/><circle cx="63.84" cy="59.06" r="1.06"/><circle cx="9.89" cy="22.13" r="0.95"/><circle cx="31.96" cy="60.26" r="1.15"/><circle cx="28.99" cy="60.21" r="1.19"/><circle cx="38.31" cy="24.31" r="0.88"/><circle cx="25.72" cy="56.07" r="0.77"/><circle cx="4.04" cy="30.02" r="1.07"/><circle cx="83.3" cy="42" r="0.84"/><circle cx="6.39" cy="30.67" r="1.24"/><circle cx="64.86" cy="21.19" r="1.13"/><circle cx="81.9" cy="72.28" r="0.79"/><circle cx="6.72" cy="13.74" r="0.97"/><circle cx="6.6" cy="26.34" r="0.94"/><circle cx="6.71" cy="47.32" r="1.06"/><circle cx="34.8" cy="57.39" r="1.19"/><circle cx="44.21" cy="33.47" r="1.1"/><circle cx="89.25" cy="25.82" r="1.18"/><circle cx="10.58" cy="48.4" r="1.3"/><circle cx="48.47" cy="61.87" r="0.83"/><circle cx="67.3" cy="58.9" r="0.96"/><circle cx="27.47" cy="35.04" r="0.95"/><circle cx="87.59" cy="37.33" r="0.98"/><circle cx="81.59" cy="13.21" r="1.18"/><circle cx="43.36" cy="52.87" r="1.11"/><circle cx="80.31" cy="7.39" r="0.94"/><circle cx="5.31" cy="31.31" r="0.9"/><circle cx="89.74" cy="8.86" r="1.22"/><circle cx="63.61" cy="14.71" r="1.27"/><circle cx="54.27" cy="21.66" r="0.76"/><circle cx="17.05" cy="54.74" r="1.07"/><circle cx="36.86" cy="62.91" r="0.79"/><circle cx="33.18" cy="44.5" r="0.93"/><circle cx="36.71" cy="8.53" r="0.86"/><circle cx="22.23" cy="45.3" r="0.95"/><circle cx="1.98" cy="27.73" r="0.74"/><circle cx="94.34" cy="70.01" r="0.84"/><circle cx="87.66" cy="1.03" r="1.17"/><circle cx="74.17" cy="45.32" r="1.1"/><circle cx="20.49" cy="53.3" r="1.17"/><circle cx="31.61" cy="41.51" r="1.18"/></g><path d="M-5 37 Q50 42 105 20" fill="none" stroke="#4a40f8" stroke-width="8" stroke-opacity="0.95" stroke-linecap="round" filter="url(#b1_8)"/><path d="M-5 52 Q45 63 105 46" fill="none" stroke="#4a40f8" stroke-width="8" stroke-opacity="0.95" stroke-linecap="round" filter="url(#b1_8)"/><ellipse cx="27" cy="2" rx="2" ry="2" fill="#ff3060" fill-opacity="0.8" filter="url(#b0_6)"/><rect x="85" y="67.5" width="9" height="2.2" fill="#c8c8d0" fill-opacity="0.55"/></g></g>
<g clip-path="url(#c24)"><g transform="translate(269 326.8) scale(0.76 0.77)"><rect x="-2" y="-2" width="104" height="79" fill="#200828"/><g opacity="0.39"><rect x="0" y="0" width="100" height="75" filter="url(#n24_1)"/></g><ellipse cx="72" cy="35" rx="20" ry="10" fill="#b01050" fill-opacity="0.7" filter="url(#b4)"/><g fill="#d01848" fill-opacity="0.7" filter="url(#b0_6)"><circle cx="53.27" cy="37.68" r="1.17"/><circle cx="53.45" cy="49.83" r="1.07"/><circle cx="96.57" cy="49.46" r="0.77"/><circle cx="97.56" cy="29.81" r="1.19"/><circle cx="56.9" cy="20.73" r="1.18"/><circle cx="78.19" cy="28.36" r="1.21"/><circle cx="55.62" cy="11.25" r="1.15"/><circle cx="49.88" cy="42.95" r="0.97"/><circle cx="21.21" cy="5.79" r="1.07"/><circle cx="91.31" cy="32.87" r="0.71"/><circle cx="14.42" cy="23.95" r="0.95"/><circle cx="18.69" cy="57.05" r="0.71"/><circle cx="53.87" cy="11.18" r="1.17"/><circle cx="59.39" cy="29.2" r="0.84"/><circle cx="86.87" cy="39.39" r="0.94"/><circle cx="93.62" cy="44.68" r="1.14"/><circle cx="98.2" cy="17.88" r="0.77"/><circle cx="50.76" cy="63.49" r="0.91"/><circle cx="78.43" cy="3.54" r="1.18"/><circle cx="24.43" cy="22.09" r="0.73"/><circle cx="84.17" cy="56.46" r="1.26"/><circle cx="64.73" cy="35.76" r="0.79"/><circle cx="52.63" cy="44.62" r="0.96"/><circle cx="9.32" cy="72.51" r="1.04"/><circle cx="71.32" cy="37.89" r="0.96"/><circle cx="95.82" cy="56.24" r="1.28"/><circle cx="91.22" cy="29.81" r="0.98"/><circle cx="95.87" cy="47.59" r="1.13"/><circle cx="90.87" cy="38.82" r="1.16"/><circle cx="85.31" cy="10.05" r="0.85"/><circle cx="37.76" cy="1.08" r="1.09"/><circle cx="78.5" cy="70.04" r="0.82"/><circle cx="64.07" cy="19.09" r="1.06"/><circle cx="2.39" cy="39.84" r="1.09"/><circle cx="5.95" cy="64.11" r="1.22"/><circle cx="74.48" cy="47" r="1.25"/><circle cx="72.74" cy="51.52" r="1.3"/><circle cx="67.18" cy="33.44" r="0.91"/><circle cx="52.78" cy="11.29" r="0.81"/><circle cx="93.25" cy="72.68" r="1.3"/><circle cx="68.36" cy="26.69" r="0.79"/><circle cx="73.41" cy="36.15" r="1.24"/><circle cx="86.97" cy="15.04" r="0.98"/><circle cx="67.34" cy="23.64" r="0.78"/><circle cx="63.91" cy="38.66" r="1.12"/><circle cx="20.82" cy="8.12" r="0.71"/><circle cx="4.36" cy="9.22" r="0.89"/><circle cx="70.19" cy="51.73" r="0.78"/><circle cx="63.65" cy="59.69" r="0.87"/><circle cx="65.6" cy="61.97" r="0.79"/><circle cx="86.26" cy="48.99" r="0.78"/><circle cx="79.25" cy="39.78" r="1.04"/><circle cx="62.37" cy="31.23" r="0.83"/><circle cx="90.81" cy="72.88" r="0.75"/><circle cx="92.08" cy="69.46" r="1.11"/><circle cx="52.35" cy="27.81" r="1.21"/><circle cx="59.27" cy="40.51" r="0.73"/><circle cx="81.19" cy="8.23" r="0.94"/><circle cx="93.47" cy="73.35" r="0.87"/><circle cx="61.88" cy="31.89" r="0.98"/><circle cx="75.77" cy="43.53" r="0.88"/><circle cx="20.98" cy="17.26" r="0.92"/><circle cx="21.12" cy="48.38" r="1.21"/><circle cx="12.18" cy="66.52" r="1.26"/><circle cx="67.95" cy="37.06" r="1.01"/><circle cx="69.81" cy="53.07" r="0.76"/><circle cx="61.26" cy="16.19" r="0.86"/><circle cx="54.16" cy="28.35" r="0.86"/><circle cx="62.25" cy="34.2" r="0.84"/><circle cx="85.48" cy="14.27" r="1.19"/><circle cx="78.73" cy="33.56" r="1.24"/><circle cx="12.01" cy="64.13" r="0.87"/><circle cx="77.55" cy="38.1" r="0.82"/><circle cx="98.23" cy="48.64" r="0.91"/><circle cx="89.69" cy="29.79" r="0.71"/><circle cx="5.89" cy="60.21" r="1.21"/><circle cx="36.27" cy="7.08" r="1.1"/><circle cx="65.73" cy="51.6" r="0.79"/><circle cx="2.53" cy="12.65" r="0.75"/><circle cx="47.7" cy="40.45" r="1.15"/><circle cx="82.61" cy="23.27" r="1.13"/><circle cx="76.07" cy="48.93" r="1.28"/><circle cx="49.49" cy="7.03" r="1.25"/><circle cx="33.92" cy="36.87" r="1.06"/><circle cx="41.49" cy="61.2" r="1.29"/><circle cx="63.24" cy="48.14" r="0.91"/><circle cx="86.47" cy="47.66" r="1.13"/><circle cx="30.66" cy="65.61" r="0.78"/><circle cx="36.07" cy="26.09" r="0.8"/><circle cx="63.82" cy="48.29" r="0.88"/><circle cx="73.98" cy="17.63" r="0.92"/><circle cx="90.98" cy="15.05" r="1.22"/><circle cx="14.56" cy="10.66" r="0.81"/><circle cx="93.98" cy="54.13" r="1.19"/><circle cx="50.7" cy="50.08" r="1.08"/><circle cx="48.87" cy="49.83" r="1.3"/><circle cx="40.35" cy="33.31" r="1.04"/><circle cx="29.56" cy="71.01" r="0.93"/><circle cx="20.83" cy="60.44" r="1.28"/><circle cx="16.32" cy="6.28" r="1.1"/><circle cx="35.98" cy="15.2" r="0.94"/><circle cx="96.55" cy="29.74" r="0.81"/><circle cx="25.71" cy="49.8" r="1.25"/><circle cx="1.38" cy="68.79" r="0.85"/><circle cx="66.9" cy="47.48" r="0.99"/><circle cx="77.65" cy="25.74" r="0.82"/><circle cx="93.2" cy="30.98" r="1.25"/><circle cx="1.07" cy="40.65" r="1.24"/><circle cx="70.39" cy="13.07" r="1.27"/><circle cx="45.03" cy="35.38" r="1.29"/><circle cx="17.31" cy="13.87" r="0.96"/><circle cx="94.12" cy="16.37" r="1"/><circle cx="18.76" cy="23.72" r="1.2"/><circle cx="28.12" cy="23.1" r="0.94"/><circle cx="23.98" cy="7.25" r="0.9"/><circle cx="0.72" cy="6.57" r="1"/><circle cx="38.93" cy="72.65" r="0.81"/><circle cx="77.5" cy="32.79" r="0.9"/><circle cx="63.91" cy="55.26" r="0.79"/><circle cx="42.57" cy="5.96" r="0.72"/><circle cx="30.67" cy="57.12" r="1"/><circle cx="55.51" cy="25.08" r="0.99"/><circle cx="35.88" cy="37.44" r="0.71"/><circle cx="3.26" cy="43.15" r="1.12"/><circle cx="64.57" cy="18.86" r="0.94"/><circle cx="55.05" cy="15.8" r="1.23"/><circle cx="70.95" cy="40.66" r="1.27"/><circle cx="22.52" cy="55.28" r="0.84"/><circle cx="94.72" cy="31.27" r="1.11"/><circle cx="79.28" cy="52.3" r="1.26"/><circle cx="73.33" cy="0.96" r="1.1"/><circle cx="82.55" cy="65.03" r="1.29"/><circle cx="73.07" cy="40.44" r="1.15"/><circle cx="66.28" cy="47.72" r="1.3"/><circle cx="20.37" cy="8.43" r="0.75"/><circle cx="79.61" cy="34.89" r="1.25"/><circle cx="9.46" cy="38.13" r="1.13"/><circle cx="3.1" cy="61.46" r="0.72"/><circle cx="49.99" cy="51" r="0.85"/><circle cx="52.92" cy="61.87" r="1.06"/><circle cx="87.96" cy="48.91" r="1.23"/><circle cx="80.16" cy="19.64" r="0.72"/><circle cx="14.53" cy="27.12" r="0.97"/><circle cx="50.78" cy="21.54" r="1.28"/><circle cx="43.61" cy="31.27" r="0.92"/><circle cx="52.37" cy="6.48" r="1.05"/><circle cx="82.8" cy="21.64" r="1.15"/><circle cx="65.01" cy="17.76" r="0.79"/><circle cx="53.68" cy="36.34" r="1.19"/><circle cx="85.62" cy="22.86" r="1.16"/></g><path d="M-5 35 Q40 48 95 -4" fill="none" stroke="#4a40f8" stroke-width="9.5" stroke-opacity="0.95" stroke-linecap="round" filter="url(#b2)"/><path d="M-5 52 Q45 70 105 33" fill="none" stroke="#4a40f8" stroke-width="9.5" stroke-opacity="0.95" stroke-linecap="round" filter="url(#b2)"/><rect x="85" y="67.5" width="9" height="2.2" fill="#c8c8d0" fill-opacity="0.55"/></g></g>
<rect x="414" y="65.5" width="10.5" height="94.1" fill="#333333"/><rect x="430.2" y="66" width="10.5" height="93.6" fill="#616161"/><rect x="446.5" y="71.2" width="10.5" height="88.4" fill="#a09fa4"/><rect x="463" y="75" width="10.5" height="84.6" fill="#d3d3d3"/><rect x="479.4" y="86.5" width="10.5" height="73.1" fill="#333333"/><rect x="495.6" y="90.5" width="10.5" height="69.1" fill="#616161"/><rect x="512" y="93.2" width="10.5" height="66.4" fill="#a09fa4"/><rect x="528.3" y="96" width="10.5" height="63.6" fill="#d3d3d3"/><rect x="545" y="71" width="10.5" height="88.6" fill="#333333"/><rect x="561.2" y="73.5" width="10.5" height="86.1" fill="#616161"/><rect x="577.3" y="74.5" width="10.5" height="85.1" fill="#a09fa4"/><rect x="594.2" y="78" width="10.5" height="81.6" fill="#d3d3d3"/><path d="M514.75 86.4H519.75M517.25 86.4V93.2" stroke="#000" stroke-width="1" fill="none"/><circle cx="415.90" cy="59.50" r="2.80" fill="#000"/><circle cx="418.60" cy="57.70" r="2.80" fill="#000"/><circle cx="421.80" cy="58.60" r="2.80" fill="#000"/><circle cx="421.80" cy="63.60" r="2.80" fill="#000"/><circle cx="420.00" cy="61.80" r="2.80" fill="#000"/><circle cx="419.00" cy="67.30" r="2.80" fill="#000"/><circle cx="420.90" cy="71.80" r="2.80" fill="#000"/><circle cx="417.30" cy="77.30" r="2.80" fill="#000"/><rect x="430.40" y="57.40" width="5.21" height="5.21" fill="#000"/><rect x="434.90" y="57.40" width="5.21" height="5.21" fill="#000"/><rect x="433.40" y="60.90" width="5.21" height="5.21" fill="#000"/><rect x="435.40" y="62.90" width="5.21" height="5.21" fill="#000"/><rect x="430.40" y="63.40" width="5.21" height="5.21" fill="#000"/><rect x="432.40" y="66.40" width="5.21" height="5.21" fill="#000"/><rect x="429.90" y="66.90" width="5.21" height="5.21" fill="#000"/><path d="M448.90 59.14L451.98 64.74L445.82 64.74Z" fill="#000"/><path d="M454.40 60.64L457.48 66.24L451.32 66.24Z" fill="#000"/><path d="M448.50 65.14L451.58 70.74L445.42 70.74Z" fill="#000"/><path d="M453.00 65.64L456.08 71.24L449.92 71.24Z" fill="#000"/><path d="M451.00 67.14L454.08 72.74L447.92 72.74Z" fill="#000"/><path d="M448.90 71.44L451.98 77.04L445.82 77.04Z" fill="#000"/><path d="M467.50 72.36L470.58 66.76L464.42 66.76Z" fill="#000"/><path d="M465.70 77.66L468.78 72.06L462.62 72.06Z" fill="#000"/><path d="M470.30 79.56L473.38 73.96L467.22 73.96Z" fill="#000"/><path d="M468.90 82.66L471.98 77.06L465.82 77.06Z" fill="#000"/><path d="M466.00 74.86L469.08 69.26L462.92 69.26Z" fill="#000"/><circle cx="481.50" cy="77.50" r="2.80" fill="#000"/><circle cx="485.00" cy="80.00" r="2.80" fill="#000"/><circle cx="486.00" cy="83.00" r="2.80" fill="#000"/><circle cx="483.00" cy="85.00" r="2.80" fill="#000"/><circle cx="480.50" cy="86.00" r="2.80" fill="#000"/><circle cx="485.00" cy="87.00" r="2.80" fill="#000"/><circle cx="484.00" cy="91.00" r="2.80" fill="#000"/><circle cx="482.00" cy="90.50" r="2.80" fill="#000"/><rect x="495.40" y="82.40" width="5.21" height="5.21" fill="#000"/><rect x="500.40" y="81.90" width="5.21" height="5.21" fill="#000"/><rect x="496.40" y="86.40" width="5.21" height="5.21" fill="#000"/><rect x="501.40" y="87.40" width="5.21" height="5.21" fill="#000"/><rect x="496.40" y="91.40" width="5.21" height="5.21" fill="#000"/><rect x="500.40" y="90.90" width="5.21" height="5.21" fill="#000"/><rect x="498.40" y="84.40" width="5.21" height="5.21" fill="#000"/><path d="M517.40 77.64L520.48 83.24L514.32 83.24Z" fill="#000"/><path d="M517.00 88.14L520.08 93.74L513.92 93.74Z" fill="#000"/><path d="M514.50 91.14L517.58 96.74L511.42 96.74Z" fill="#000"/><path d="M519.50 91.14L522.58 96.74L516.42 96.74Z" fill="#000"/><path d="M517.00 93.64L520.08 99.24L513.92 99.24Z" fill="#000"/><path d="M517.50 99.14L520.58 104.74L514.42 104.74Z" fill="#000"/><path d="M532.50 92.36L535.58 86.76L529.42 86.76Z" fill="#000"/><path d="M531.00 96.36L534.08 90.76L527.92 90.76Z" fill="#000"/><path d="M535.00 98.36L538.08 92.76L531.92 92.76Z" fill="#000"/><path d="M533.00 100.86L536.08 95.26L529.92 95.26Z" fill="#000"/><path d="M536.00 102.36L539.08 96.76L532.92 96.76Z" fill="#000"/><path d="M533.50 106.36L536.58 100.76L530.42 100.76Z" fill="#000"/><circle cx="548.50" cy="63.00" r="2.80" fill="#000"/><circle cx="551.50" cy="62.00" r="2.80" fill="#000"/><circle cx="547.00" cy="70.00" r="2.80" fill="#000"/><circle cx="550.00" cy="68.50" r="2.80" fill="#000"/><circle cx="552.50" cy="70.00" r="2.80" fill="#000"/><circle cx="548.00" cy="74.00" r="2.80" fill="#000"/><circle cx="551.00" cy="76.50" r="2.80" fill="#000"/><circle cx="549.50" cy="77.00" r="2.80" fill="#000"/><rect x="565.90" y="65.90" width="5.21" height="5.21" fill="#000"/><rect x="562.40" y="68.40" width="5.21" height="5.21" fill="#000"/><rect x="566.40" y="71.40" width="5.21" height="5.21" fill="#000"/><rect x="561.40" y="72.90" width="5.21" height="5.21" fill="#000"/><rect x="564.40" y="74.90" width="5.21" height="5.21" fill="#000"/><rect x="561.90" y="77.40" width="5.21" height="5.21" fill="#000"/><path d="M585.50 64.14L588.58 69.74L582.42 69.74Z" fill="#000"/><path d="M581.00 68.14L584.08 73.74L577.92 73.74Z" fill="#000"/><path d="M584.50 70.64L587.58 76.24L581.42 76.24Z" fill="#000"/><path d="M580.00 73.14L583.08 78.74L576.92 78.74Z" fill="#000"/><path d="M583.50 74.14L586.58 79.74L580.42 79.74Z" fill="#000"/><path d="M581.50 76.64L584.58 82.24L578.42 82.24Z" fill="#000"/><path d="M601.00 74.36L604.08 68.76L597.92 68.76Z" fill="#000"/><path d="M597.00 76.36L600.08 70.76L593.92 70.76Z" fill="#000"/><path d="M600.50 79.36L603.58 73.76L597.42 73.76Z" fill="#000"/><path d="M598.50 82.36L601.58 76.76L595.42 76.76Z" fill="#000"/><path d="M600.00 84.86L603.08 79.26L596.92 79.26Z" fill="#000"/><path d="M599.00 88.36L602.08 82.76L595.92 82.76Z" fill="#000"/><path d="M408.2 25.8V159.6H611" stroke="#1a1a1a" stroke-width="1.6" fill="none"/><path d="M402.4 159.6H408.2" stroke="#222" stroke-width="1.3"/><path d="M402.4 126.15H408.2" stroke="#222" stroke-width="1.3"/><path d="M402.4 92.7H408.2" stroke="#222" stroke-width="1.3"/><path d="M402.4 59.25H408.2" stroke="#222" stroke-width="1.3"/><path d="M402.4 25.8H408.2" stroke="#222" stroke-width="1.3"/><path d="M419.25 159.6V163.8" stroke="#222" stroke-width="1.2"/><path d="M435.45 159.6V163.8" stroke="#222" stroke-width="1.2"/><path d="M451.75 159.6V163.8" stroke="#222" stroke-width="1.2"/><path d="M468.25 159.6V163.8" stroke="#222" stroke-width="1.2"/><path d="M484.65 159.6V163.8" stroke="#222" stroke-width="1.2"/><path d="M500.85 159.6V163.8" stroke="#222" stroke-width="1.2"/><path d="M517.25 159.6V163.8" stroke="#222" stroke-width="1.2"/><path d="M533.55 159.6V163.8" stroke="#222" stroke-width="1.2"/><path d="M550.25 159.6V163.8" stroke="#222" stroke-width="1.2"/><path d="M566.45 159.6V163.8" stroke="#222" stroke-width="1.2"/><path d="M582.55 159.6V163.8" stroke="#222" stroke-width="1.2"/><path d="M599.45 159.6V163.8" stroke="#222" stroke-width="1.2"/><path d="M416 169.7H472" stroke="#000" stroke-width="2.6"/><path d="M481.4 169.7H537" stroke="#000" stroke-width="2.6"/><path d="M547 169.7H603" stroke="#000" stroke-width="2.6"/><circle cx="636.00" cy="90.00" r="2.90" fill="#000"/><rect x="633.30" y="103.70" width="5.39" height="5.39" fill="#000"/><path d="M636.00 119.52L639.19 125.32L632.81 125.32Z" fill="#000"/><path d="M636.00 142.48L639.19 136.68L632.81 136.68Z" fill="#000"/><path d="M419 43.5H467.6" stroke="#666" stroke-width="1"/><path d="M438.5 57H468" stroke="#666" stroke-width="1"/><path d="M482.4 57.5H532.6" stroke="#666" stroke-width="1"/><path d="M484.4 71.5H517.4" stroke="#666" stroke-width="1"/><path d="M549.6 57.5H599.8" stroke="#666" stroke-width="1"/>
<rect x="414" y="240" width="10.5" height="116.3" fill="#333333"/><rect x="430.3" y="244" width="10.5" height="112.3" fill="#616161"/><rect x="446.8" y="251.8" width="10.5" height="104.5" fill="#a09fa4"/><rect x="463.2" y="249.5" width="10.5" height="106.8" fill="#d3d3d3"/><rect x="480" y="247.7" width="10.5" height="108.6" fill="#333333"/><rect x="496.3" y="249" width="10.5" height="107.3" fill="#616161"/><rect x="513" y="257.3" width="10.5" height="99" fill="#a09fa4"/><rect x="529.4" y="259" width="10.5" height="97.3" fill="#d3d3d3"/><rect x="545.8" y="236.8" width="10.5" height="119.5" fill="#333333"/><rect x="562.4" y="242.3" width="10.5" height="114" fill="#616161"/><rect x="579" y="243.6" width="10.5" height="112.7" fill="#a09fa4"/><rect x="595.7" y="246.8" width="10.5" height="109.5" fill="#d3d3d3"/><circle cx="416.00" cy="233.00" r="2.80" fill="#000"/><circle cx="419.00" cy="231.50" r="2.80" fill="#000"/><circle cx="421.50" cy="236.00" r="2.80" fill="#000"/><circle cx="416.00" cy="240.00" r="2.80" fill="#000"/><circle cx="420.50" cy="242.00" r="2.80" fill="#000"/><circle cx="416.00" cy="246.00" r="2.80" fill="#000"/><circle cx="419.00" cy="238.00" r="2.80" fill="#000"/><rect x="430.90" y="232.40" width="5.21" height="5.21" fill="#000"/><rect x="434.40" y="235.40" width="5.21" height="5.21" fill="#000"/><rect x="435.40" y="242.40" width="5.21" height="5.21" fill="#000"/><rect x="430.40" y="241.40" width="5.21" height="5.21" fill="#000"/><rect x="433.40" y="247.40" width="5.21" height="5.21" fill="#000"/><rect x="431.40" y="251.40" width="5.21" height="5.21" fill="#000"/><rect x="433.40" y="238.40" width="5.21" height="5.21" fill="#000"/><path d="M452.00 240.64L455.08 246.24L448.92 246.24Z" fill="#000"/><path d="M449.50 244.64L452.58 250.24L446.42 250.24Z" fill="#000"/><path d="M454.50 244.64L457.58 250.24L451.42 250.24Z" fill="#000"/><path d="M452.00 246.64L455.08 252.24L448.92 252.24Z" fill="#000"/><path d="M451.00 243.64L454.08 249.24L447.92 249.24Z" fill="#000"/><path d="M450.00 241.64L453.08 247.24L446.92 247.24Z" fill="#000"/><path d="M454.00 242.14L457.08 247.74L450.92 247.74Z" fill="#000"/><path d="M452.00 239.14L455.08 244.74L448.92 244.74Z" fill="#000"/><path d="M466.00 248.36L469.08 242.76L462.92 242.76Z" fill="#000"/><path d="M471.00 248.36L474.08 242.76L467.92 242.76Z" fill="#000"/><path d="M468.50 250.86L471.58 245.26L465.42 245.26Z" fill="#000"/><path d="M469.00 255.36L472.08 249.76L465.92 249.76Z" fill="#000"/><path d="M468.00 261.36L471.08 255.76L464.92 255.76Z" fill="#000"/><circle cx="482.50" cy="235.00" r="2.80" fill="#000"/><circle cx="485.00" cy="239.00" r="2.80" fill="#000"/><circle cx="485.50" cy="245.00" r="2.80" fill="#000"/><circle cx="481.00" cy="249.00" r="2.80" fill="#000"/><circle cx="484.00" cy="250.00" r="2.80" fill="#000"/><circle cx="488.00" cy="249.00" r="2.80" fill="#000"/><circle cx="485.00" cy="252.00" r="2.80" fill="#000"/><circle cx="485.00" cy="259.50" r="2.80" fill="#000"/><rect x="499.40" y="238.80" width="5.21" height="5.21" fill="#000"/><rect x="497.40" y="244.40" width="5.21" height="5.21" fill="#000"/><rect x="501.40" y="245.40" width="5.21" height="5.21" fill="#000"/><rect x="498.40" y="248.40" width="5.21" height="5.21" fill="#000"/><rect x="500.40" y="251.40" width="5.21" height="5.21" fill="#000"/><rect x="497.90" y="254.40" width="5.21" height="5.21" fill="#000"/><rect x="498.40" y="259.40" width="5.21" height="5.21" fill="#000"/><path d="M517.50 245.64L520.58 251.24L514.42 251.24Z" fill="#000"/><path d="M516.00 249.64L519.08 255.24L512.92 255.24Z" fill="#000"/><path d="M520.00 249.64L523.08 255.24L516.92 255.24Z" fill="#000"/><path d="M518.00 252.64L521.08 258.24L514.92 258.24Z" fill="#000"/><path d="M515.50 253.14L518.58 258.74L512.42 258.74Z" fill="#000"/><path d="M518.00 261.64L521.08 267.24L514.92 267.24Z" fill="#000"/><path d="M532.50 251.86L535.58 246.26L529.42 246.26Z" fill="#000"/><path d="M535.50 255.36L538.58 249.76L532.42 249.76Z" fill="#000"/><path d="M533.00 259.36L536.08 253.76L529.92 253.76Z" fill="#000"/><path d="M537.00 260.36L540.08 254.76L533.92 254.76Z" fill="#000"/><path d="M534.00 264.36L537.08 258.76L530.92 258.76Z" fill="#000"/><path d="M535.00 267.86L538.08 262.26L531.92 262.26Z" fill="#000"/><path d="M534.00 270.36L537.08 264.76L530.92 264.76Z" fill="#000"/><circle cx="549.00" cy="229.00" r="2.80" fill="#000"/><circle cx="552.00" cy="232.00" r="2.80" fill="#000"/><circle cx="555.00" cy="234.50" r="2.80" fill="#000"/><circle cx="548.00" cy="237.00" r="2.80" fill="#000"/><circle cx="551.00" cy="239.00" r="2.80" fill="#000"/><circle cx="554.00" cy="241.00" r="2.80" fill="#000"/><circle cx="548.50" cy="246.50" r="2.80" fill="#000"/><rect x="563.40" y="230.90" width="5.21" height="5.21" fill="#000"/><rect x="565.90" y="232.40" width="5.21" height="5.21" fill="#000"/><rect x="567.40" y="237.40" width="5.21" height="5.21" fill="#000"/><rect x="563.40" y="238.40" width="5.21" height="5.21" fill="#000"/><rect x="565.40" y="241.40" width="5.21" height="5.21" fill="#000"/><rect x="564.90" y="248.40" width="5.21" height="5.21" fill="#000"/><path d="M584.00 231.64L587.08 237.24L580.92 237.24Z" fill="#000"/><path d="M582.00 236.64L585.08 242.24L578.92 242.24Z" fill="#000"/><path d="M586.00 236.64L589.08 242.24L582.92 242.24Z" fill="#000"/><path d="M584.00 240.64L587.08 246.24L580.92 246.24Z" fill="#000"/><path d="M582.50 243.64L585.58 249.24L579.42 249.24Z" fill="#000"/><path d="M585.50 243.64L588.58 249.24L582.42 249.24Z" fill="#000"/><path d="M584.00 250.64L587.08 256.24L580.92 256.24Z" fill="#000"/><path d="M599.50 241.36L602.58 235.76L596.42 235.76Z" fill="#000"/><path d="M601.00 244.36L604.08 238.76L597.92 238.76Z" fill="#000"/><path d="M603.00 247.36L606.08 241.76L599.92 241.76Z" fill="#000"/><path d="M600.00 250.36L603.08 244.76L596.92 244.76Z" fill="#000"/><path d="M602.00 252.36L605.08 246.76L598.92 246.76Z" fill="#000"/><path d="M601.50 259.36L604.58 253.76L598.42 253.76Z" fill="#000"/><path d="M408.4 220.3V356.3H611" stroke="#1a1a1a" stroke-width="1.6" fill="none"/><path d="M402.6 356.3H408.4" stroke="#222" stroke-width="1.3"/><path d="M402.6 322.3H408.4" stroke="#222" stroke-width="1.3"/><path d="M402.6 288.3H408.4" stroke="#222" stroke-width="1.3"/><path d="M402.6 254.3H408.4" stroke="#222" stroke-width="1.3"/><path d="M402.6 220.3H408.4" stroke="#222" stroke-width="1.3"/><path d="M419.25 356.3V358.2" stroke="#222" stroke-width="1.2"/><path d="M435.55 356.3V358.2" stroke="#222" stroke-width="1.2"/><path d="M452.05 356.3V358.2" stroke="#222" stroke-width="1.2"/><path d="M468.45 356.3V358.2" stroke="#222" stroke-width="1.2"/><path d="M485.25 356.3V358.2" stroke="#222" stroke-width="1.2"/><path d="M501.55 356.3V358.2" stroke="#222" stroke-width="1.2"/><path d="M518.25 356.3V358.2" stroke="#222" stroke-width="1.2"/><path d="M534.65 356.3V358.2" stroke="#222" stroke-width="1.2"/><path d="M551.05 356.3V358.2" stroke="#222" stroke-width="1.2"/><path d="M567.65 356.3V358.2" stroke="#222" stroke-width="1.2"/><path d="M584.25 356.3V358.2" stroke="#222" stroke-width="1.2"/><path d="M600.95 356.3V358.2" stroke="#222" stroke-width="1.2"/><path d="M415 364.6H471.4" stroke="#000" stroke-width="2.6"/><path d="M481 364.6H537" stroke="#000" stroke-width="2.6"/><path d="M546.6 364.6H603" stroke="#000" stroke-width="2.6"/><circle cx="636.00" cy="284.40" r="2.90" fill="#000"/><rect x="633.30" y="298.30" width="5.39" height="5.39" fill="#000"/><path d="M636.00 314.52L639.19 320.32L632.81 320.32Z" fill="#000"/><path d="M636.00 337.98L639.19 332.18L632.81 332.18Z" fill="#000"/><path d="M419 218H468" stroke="#666" stroke-width="1"/><path d="M421 230H452" stroke="#666" stroke-width="1"/><path d="M485.6 226.4H534.6" stroke="#666" stroke-width="1"/><path d="M551.6 227H601" stroke="#666" stroke-width="1"/>
<text x="0.5" y="11.3" font-family="'Liberation Serif', serif" font-size="15.2" font-weight="normal" text-anchor="start" fill="#111">(A)</text>
<text x="0.4" y="206.1" font-family="'Liberation Sans', sans-serif" font-size="15.2" font-weight="normal" text-anchor="start" fill="#111">(C)</text>
<text x="359.6" y="14.7" font-family="'Liberation Sans', sans-serif" font-size="15.3" font-weight="normal" text-anchor="start" fill="#111">(B)</text>
<text x="359.2" y="201" font-family="'Liberation Sans', sans-serif" font-size="15.3" font-weight="normal" text-anchor="start" fill="#111">(D)</text>
<text x="66.8" y="9" font-family="'Liberation Serif', serif" font-size="7.5" font-weight="bold" text-anchor="middle" fill="#111">control</text>
<text x="66.8" y="203.2" font-family="'Liberation Serif', serif" font-size="7.5" font-weight="bold" text-anchor="middle" fill="#111">control</text>
<text x="144.9" y="9" font-family="'Liberation Serif', serif" font-size="7.5" font-weight="bold" text-anchor="middle" fill="#111">2 Hz</text>
<text x="144.9" y="203.2" font-family="'Liberation Serif', serif" font-size="7.5" font-weight="bold" text-anchor="middle" fill="#111">2 Hz</text>
<text x="225.2" y="9" font-family="'Liberation Serif', serif" font-size="7.5" font-weight="bold" text-anchor="middle" fill="#111">50 Hz</text>
<text x="225.2" y="203.2" font-family="'Liberation Serif', serif" font-size="7.5" font-weight="bold" text-anchor="middle" fill="#111">50 Hz</text>
<text x="303.2" y="9" font-family="'Liberation Serif', serif" font-size="7.5" font-weight="bold" text-anchor="middle" fill="#111">300 Hz</text>
<text x="303.2" y="203.2" font-family="'Liberation Serif', serif" font-size="7.5" font-weight="bold" text-anchor="middle" fill="#111">300 Hz</text>
<text x="16.3" y="46.8" font-family="'Liberation Sans', sans-serif" font-size="7" font-weight="normal" text-anchor="middle" fill="#333" letter-spacing="-0.2">CA1</text>
<text x="16.3" y="240.2" font-family="'Liberation Sans', sans-serif" font-size="7" font-weight="normal" text-anchor="middle" fill="#333" letter-spacing="-0.2">CA1</text>
<text x="16.3" y="105.6" font-family="'Liberation Sans', sans-serif" font-size="7" font-weight="normal" text-anchor="middle" fill="#333" letter-spacing="-0.2">CA3</text>
<text x="16.3" y="298.6" font-family="'Liberation Sans', sans-serif" font-size="7" font-weight="normal" text-anchor="middle" fill="#333" letter-spacing="-0.2">CA3</text>
<text x="16.3" y="164.6" font-family="'Liberation Sans', sans-serif" font-size="7" font-weight="normal" text-anchor="middle" fill="#333" letter-spacing="-0.2">DG</text>
<text x="16.3" y="358.6" font-family="'Liberation Sans', sans-serif" font-size="7" font-weight="normal" text-anchor="middle" fill="#333" letter-spacing="-0.2">DG</text>
<text x="399.9" y="163.05" font-family="'Liberation Sans', sans-serif" font-size="9.5" font-weight="bold" text-anchor="end" fill="#111" stroke="#111" stroke-width="0.25">0</text>
<text x="399.9" y="129.6" font-family="'Liberation Sans', sans-serif" font-size="9.5" font-weight="bold" text-anchor="end" fill="#111" stroke="#111" stroke-width="0.25">50</text>
<text x="399.9" y="96.15" font-family="'Liberation Sans', sans-serif" font-size="9.5" font-weight="bold" text-anchor="end" fill="#111" stroke="#111" stroke-width="0.25">100</text>
<text x="399.9" y="62.7" font-family="'Liberation Sans', sans-serif" font-size="9.5" font-weight="bold" text-anchor="end" fill="#111" stroke="#111" stroke-width="0.25">150</text>
<text x="399.9" y="29.25" font-family="'Liberation Sans', sans-serif" font-size="9.5" font-weight="bold" text-anchor="end" fill="#111" stroke="#111" stroke-width="0.25">200</text>
<text x="440.7" y="186.2" font-family="'Liberation Sans', sans-serif" font-size="12.6" font-weight="normal" text-anchor="middle" fill="#111" stroke="#111" stroke-width="0.2">CA1</text>
<text x="509" y="186.2" font-family="'Liberation Sans', sans-serif" font-size="12.6" font-weight="normal" text-anchor="middle" fill="#111" stroke="#111" stroke-width="0.2">CA3</text>
<text x="574.8" y="186.2" font-family="'Liberation Sans', sans-serif" font-size="12.6" font-weight="normal" text-anchor="middle" fill="#111" stroke="#111" stroke-width="0.2">DG</text>
<text x="509.3" y="20.2" font-family="'Liberation Sans', sans-serif" font-size="11" font-weight="bold" text-anchor="middle" fill="#111">Iba-1+DAPI</text>
<text x="0" y="0" font-family="'Liberation Sans', sans-serif" font-size="11.7" font-weight="normal" text-anchor="start" fill="#111" stroke="#111" stroke-width="0.3" transform="translate(376.2 161.7) rotate(-90)">Iba-1 cell number/0.25mm<tspan font-size="8.6" dy="-5">2</tspan></text>
<text x="651" y="94" font-family="'Liberation Sans', sans-serif" font-size="11" font-weight="normal" text-anchor="start" fill="#111" stroke="#111" stroke-width="0.15">control</text>
<text x="651" y="110.4" font-family="'Liberation Sans', sans-serif" font-size="11" font-weight="normal" text-anchor="start" fill="#111" stroke="#111" stroke-width="0.15">2Hz</text>
<text x="651" y="127" font-family="'Liberation Sans', sans-serif" font-size="11" font-weight="normal" text-anchor="start" fill="#111" stroke="#111" stroke-width="0.15">50Hz</text>
<text x="651" y="143" font-family="'Liberation Sans', sans-serif" font-size="11" font-weight="normal" text-anchor="start" fill="#111" stroke="#111" stroke-width="0.15">300Hz</text>
<text x="443" y="41.3" font-family="'Liberation Sans', sans-serif" font-size="11" font-weight="bold" text-anchor="middle" fill="#111">*</text>
<text x="451.2" y="54.8" font-family="'Liberation Sans', sans-serif" font-size="11" font-weight="bold" text-anchor="middle" fill="#111">*</text>
<text x="507.6" y="57.3" font-family="'Liberation Sans', sans-serif" font-size="11" font-weight="bold" text-anchor="middle" fill="#111">**</text>
<text x="500" y="69.3" font-family="'Liberation Sans', sans-serif" font-size="11" font-weight="bold" text-anchor="middle" fill="#111">*</text>
<text x="574" y="55.3" font-family="'Liberation Sans', sans-serif" font-size="11" font-weight="bold" text-anchor="middle" fill="#111">*</text>
<text x="400.1" y="359.75" font-family="'Liberation Sans', sans-serif" font-size="9.5" font-weight="bold" text-anchor="end" fill="#111" stroke="#111" stroke-width="0.25">0</text>
<text x="400.1" y="325.75" font-family="'Liberation Sans', sans-serif" font-size="9.5" font-weight="bold" text-anchor="end" fill="#111" stroke="#111" stroke-width="0.25">50</text>
<text x="400.1" y="291.75" font-family="'Liberation Sans', sans-serif" font-size="9.5" font-weight="bold" text-anchor="end" fill="#111" stroke="#111" stroke-width="0.25">100</text>
<text x="400.1" y="257.75" font-family="'Liberation Sans', sans-serif" font-size="9.5" font-weight="bold" text-anchor="end" fill="#111" stroke="#111" stroke-width="0.25">150</text>
<text x="400.1" y="223.75" font-family="'Liberation Sans', sans-serif" font-size="9.5" font-weight="bold" text-anchor="end" fill="#111" stroke="#111" stroke-width="0.25">200</text>
<text x="440.7" y="380.5" font-family="'Liberation Sans', sans-serif" font-size="12.6" font-weight="normal" text-anchor="middle" fill="#111" stroke="#111" stroke-width="0.2">CA1</text>
<text x="508.8" y="380.5" font-family="'Liberation Sans', sans-serif" font-size="12.6" font-weight="normal" text-anchor="middle" fill="#111" stroke="#111" stroke-width="0.2">CA3</text>
<text x="574.5" y="380.5" font-family="'Liberation Sans', sans-serif" font-size="12.6" font-weight="normal" text-anchor="middle" fill="#111" stroke="#111" stroke-width="0.2">DG</text>
<text x="509.7" y="205.6" font-family="'Liberation Sans', sans-serif" font-size="11" font-weight="bold" text-anchor="middle" fill="#111">GFAP+DAPI</text>
<text x="0" y="0" font-family="'Liberation Sans', sans-serif" font-size="11.7" font-weight="normal" text-anchor="start" fill="#111" stroke="#111" stroke-width="0.3" transform="translate(376.8 359.6) rotate(-90)">GFAP cell number/0.25mm<tspan font-size="8.6" dy="-5">2</tspan></text>
<text x="651" y="288.4" font-family="'Liberation Sans', sans-serif" font-size="11" font-weight="normal" text-anchor="start" fill="#111" stroke="#111" stroke-width="0.15">control</text>
<text x="651" y="305" font-family="'Liberation Sans', sans-serif" font-size="11" font-weight="normal" text-anchor="start" fill="#111" stroke="#111" stroke-width="0.15">2Hz</text>
<text x="651" y="322" font-family="'Liberation Sans', sans-serif" font-size="11" font-weight="normal" text-anchor="start" fill="#111" stroke="#111" stroke-width="0.15">50Hz</text>
<text x="651" y="338.5" font-family="'Liberation Sans', sans-serif" font-size="11" font-weight="normal" text-anchor="start" fill="#111" stroke="#111" stroke-width="0.15">300Hz</text>
<text x="443" y="217.8" font-family="'Liberation Sans', sans-serif" font-size="11" font-weight="bold" text-anchor="middle" fill="#111">**</text>
<text x="435.6" y="227.8" font-family="'Liberation Sans', sans-serif" font-size="11" font-weight="bold" text-anchor="middle" fill="#111">*</text>
<text x="509.6" y="224.2" font-family="'Liberation Sans', sans-serif" font-size="11" font-weight="bold" text-anchor="middle" fill="#111">*</text>
<text x="576" y="224.8" font-family="'Liberation Sans', sans-serif" font-size="11" font-weight="bold" text-anchor="middle" fill="#111">*</text>
</svg>
</body></html>
